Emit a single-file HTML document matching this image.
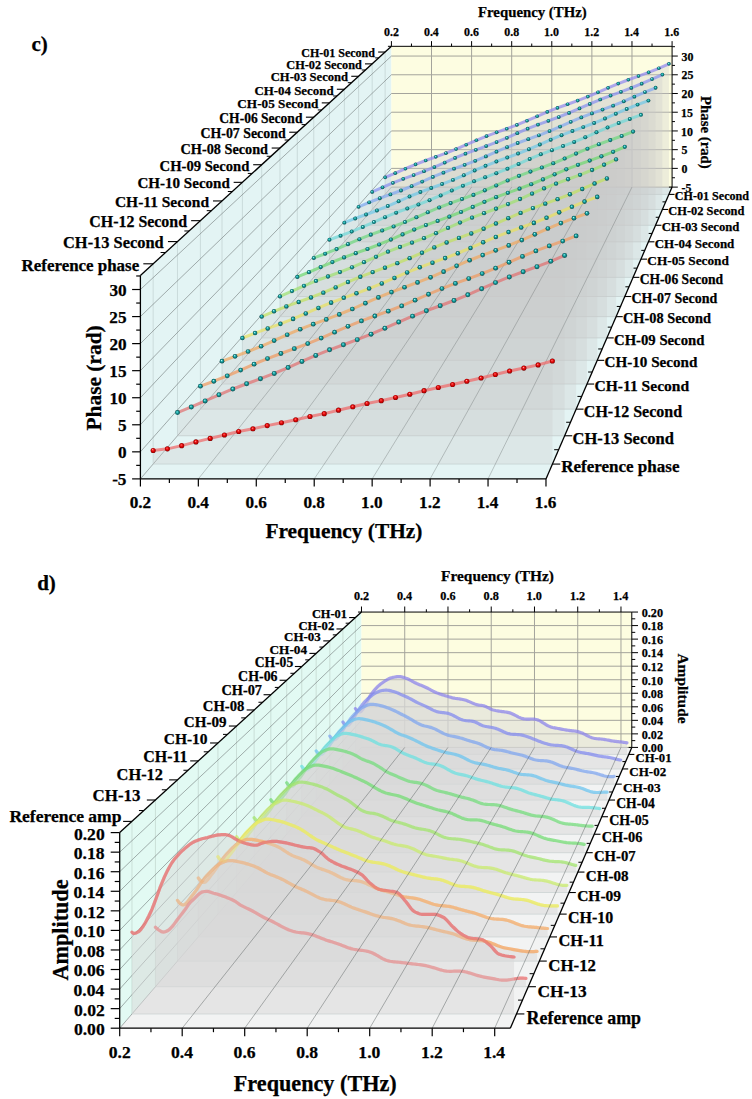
<!DOCTYPE html>
<html><head><meta charset="utf-8"><style>
html,body{margin:0;padding:0;background:#ffffff;}
svg{display:block;}
</style></head><body>
<svg width="752" height="1099" viewBox="0 0 752 1099">
<defs>
<radialGradient id="gt" cx="0.5" cy="0.5" r="0.5" fx="0.4" fy="0.34"><stop offset="0" stop-color="#c8ffff"/><stop offset="0.22" stop-color="#48c8c8"/><stop offset="0.55" stop-color="#12908f"/><stop offset="0.85" stop-color="#0a6668"/><stop offset="1" stop-color="#064548"/></radialGradient>
<radialGradient id="gr" cx="0.5" cy="0.5" r="0.5" fx="0.4" fy="0.34"><stop offset="0" stop-color="#ffd8d8"/><stop offset="0.22" stop-color="#f83838"/><stop offset="0.55" stop-color="#dc0808"/><stop offset="0.85" stop-color="#b00000"/><stop offset="1" stop-color="#700000"/></radialGradient>
</defs>
<rect width="752" height="1099" fill="#ffffff"/>
<polygon points="140.4,478.89 140.4,275.44 391.41,46.32 391.41,187.11" fill="#e3f4f4" />
<polygon points="391.41,187.11 672.08,187.11 672.08,46.32 391.41,46.32" fill="#fdfde1" />
<polygon points="140.4,478.89 545.98,478.89 672.08,187.11 391.41,187.11" fill="#e4f4f4" />
<line x1="431.5" y1="187.11" x2="431.5" y2="46.32" stroke="#a4a49c" stroke-width="1" />
<line x1="471.6" y1="187.11" x2="471.6" y2="46.32" stroke="#a4a49c" stroke-width="1" />
<line x1="511.7" y1="187.11" x2="511.7" y2="46.32" stroke="#a4a49c" stroke-width="1" />
<line x1="551.79" y1="187.11" x2="551.79" y2="46.32" stroke="#a4a49c" stroke-width="1" />
<line x1="591.89" y1="187.11" x2="591.89" y2="46.32" stroke="#a4a49c" stroke-width="1" />
<line x1="631.98" y1="187.11" x2="631.98" y2="46.32" stroke="#a4a49c" stroke-width="1" />
<line x1="391.41" y1="187.11" x2="672.08" y2="187.11" stroke="#a4a49c" stroke-width="1" />
<line x1="391.41" y1="168.39" x2="672.08" y2="168.39" stroke="#a4a49c" stroke-width="1" />
<line x1="391.41" y1="149.66" x2="672.08" y2="149.66" stroke="#a4a49c" stroke-width="1" />
<line x1="391.41" y1="130.94" x2="672.08" y2="130.94" stroke="#a4a49c" stroke-width="1" />
<line x1="391.41" y1="112.22" x2="672.08" y2="112.22" stroke="#a4a49c" stroke-width="1" />
<line x1="391.41" y1="93.5" x2="672.08" y2="93.5" stroke="#a4a49c" stroke-width="1" />
<line x1="391.41" y1="74.78" x2="672.08" y2="74.78" stroke="#a4a49c" stroke-width="1" />
<line x1="391.41" y1="56.05" x2="672.08" y2="56.05" stroke="#a4a49c" stroke-width="1" />
<line x1="153.15" y1="464.07" x2="153.15" y2="263.8" stroke="#c4d4d4" stroke-width="0.8" />
<line x1="177.49" y1="435.77" x2="177.49" y2="241.58" stroke="#c4d4d4" stroke-width="0.8" />
<line x1="200.4" y1="409.14" x2="200.4" y2="220.67" stroke="#c4d4d4" stroke-width="0.8" />
<line x1="222" y1="384.04" x2="222" y2="200.95" stroke="#c4d4d4" stroke-width="0.8" />
<line x1="242.4" y1="360.33" x2="242.4" y2="182.34" stroke="#c4d4d4" stroke-width="0.8" />
<line x1="261.69" y1="337.9" x2="261.69" y2="164.73" stroke="#c4d4d4" stroke-width="0.8" />
<line x1="279.97" y1="316.65" x2="279.97" y2="148.04" stroke="#c4d4d4" stroke-width="0.8" />
<line x1="297.31" y1="296.5" x2="297.31" y2="132.22" stroke="#c4d4d4" stroke-width="0.8" />
<line x1="313.78" y1="277.35" x2="313.78" y2="117.18" stroke="#c4d4d4" stroke-width="0.8" />
<line x1="329.44" y1="259.14" x2="329.44" y2="102.88" stroke="#c4d4d4" stroke-width="0.8" />
<line x1="344.36" y1="241.8" x2="344.36" y2="89.26" stroke="#c4d4d4" stroke-width="0.8" />
<line x1="358.59" y1="225.26" x2="358.59" y2="76.28" stroke="#c4d4d4" stroke-width="0.8" />
<line x1="372.16" y1="209.48" x2="372.16" y2="63.88" stroke="#c4d4d4" stroke-width="0.8" />
<line x1="385.14" y1="194.4" x2="385.14" y2="52.04" stroke="#c4d4d4" stroke-width="0.8" />
<line x1="140.4" y1="478.89" x2="391.41" y2="187.11" stroke="#707878" stroke-width="0.6" />
<line x1="140.4" y1="451.84" x2="391.41" y2="168.39" stroke="#707878" stroke-width="0.6" />
<line x1="140.4" y1="424.78" x2="391.41" y2="149.66" stroke="#707878" stroke-width="0.6" />
<line x1="140.4" y1="397.73" x2="391.41" y2="130.94" stroke="#707878" stroke-width="0.6" />
<line x1="140.4" y1="370.67" x2="391.41" y2="112.22" stroke="#707878" stroke-width="0.6" />
<line x1="140.4" y1="343.62" x2="391.41" y2="93.5" stroke="#707878" stroke-width="0.6" />
<line x1="140.4" y1="316.57" x2="391.41" y2="74.78" stroke="#707878" stroke-width="0.6" />
<line x1="140.4" y1="289.51" x2="391.41" y2="56.05" stroke="#707878" stroke-width="0.6" />
<line x1="153.15" y1="464.07" x2="552.39" y2="464.07" stroke="#c4d0d0" stroke-width="0.8" />
<line x1="177.49" y1="435.77" x2="564.61" y2="435.77" stroke="#c4d0d0" stroke-width="0.8" />
<line x1="200.4" y1="409.14" x2="576.12" y2="409.14" stroke="#c4d0d0" stroke-width="0.8" />
<line x1="222" y1="384.04" x2="586.97" y2="384.04" stroke="#c4d0d0" stroke-width="0.8" />
<line x1="242.4" y1="360.33" x2="597.22" y2="360.33" stroke="#c4d0d0" stroke-width="0.8" />
<line x1="261.69" y1="337.9" x2="606.91" y2="337.9" stroke="#c4d0d0" stroke-width="0.8" />
<line x1="279.97" y1="316.65" x2="616.09" y2="316.65" stroke="#c4d0d0" stroke-width="0.8" />
<line x1="297.31" y1="296.5" x2="624.8" y2="296.5" stroke="#c4d0d0" stroke-width="0.8" />
<line x1="313.78" y1="277.35" x2="633.08" y2="277.35" stroke="#c4d0d0" stroke-width="0.8" />
<line x1="329.44" y1="259.14" x2="640.95" y2="259.14" stroke="#c4d0d0" stroke-width="0.8" />
<line x1="344.36" y1="241.8" x2="648.44" y2="241.8" stroke="#c4d0d0" stroke-width="0.8" />
<line x1="358.59" y1="225.26" x2="655.59" y2="225.26" stroke="#c4d0d0" stroke-width="0.8" />
<line x1="372.16" y1="209.48" x2="662.41" y2="209.48" stroke="#c4d0d0" stroke-width="0.8" />
<line x1="385.14" y1="194.4" x2="668.93" y2="194.4" stroke="#c4d0d0" stroke-width="0.8" />
<polygon points="385.14,177.44 395.27,173.18 405.41,168.72 415.54,164.42 425.68,160.49 435.81,156.84 445.95,153.14 456.08,149.11 466.22,144.74 476.35,140.3 486.49,136.13 496.63,132.34 506.76,128.72 516.9,124.91 527.03,120.73 537.17,116.29 547.3,111.92 557.44,107.91 567.57,104.22 577.71,100.56 587.84,96.62 597.98,92.31 608.11,87.85 618.25,83.6 628.38,79.73 638.52,76.1 648.65,72.36 658.79,68.27 668.93,63.86 668.93,194.4 385.14,194.4" fill="#cbcbcb" fill-opacity="0.3"/>
<polygon points="372.16,191.89 382.53,187.29 392.9,182.87 403.26,178.84 413.63,175.08 423.99,171.25 434.36,167.07 444.72,162.55 455.09,157.98 465.46,153.7 475.82,149.81 486.19,146.06 496.55,142.12 506.92,137.79 517.29,133.2 527.65,128.72 538.02,124.6 548.38,120.8 558.75,117.02 569.12,112.93 579.48,108.46 589.85,103.88 600.21,99.51 610.58,95.54 620.94,91.79 631.31,87.92 641.68,83.67 652.04,79.12 662.41,74.58 662.41,209.48 372.16,209.48" fill="#cbcbcb" fill-opacity="0.3"/>
<polygon points="358.59,206.8 369.19,202.32 379.8,198.23 390.41,194.41 401.01,190.5 411.62,186.22 422.23,181.6 432.84,176.96 443.44,172.63 454.05,168.67 464.66,164.86 475.27,160.83 485.87,156.4 496.48,151.72 507.09,147.17 517.69,142.99 528.3,139.14 538.91,135.28 549.52,131.09 560.12,126.53 570.73,121.86 581.34,117.44 591.94,113.41 602.55,109.6 613.16,105.64 623.77,101.3 634.37,96.65 644.98,92.04 655.59,87.77 655.59,225.26 358.59,225.26" fill="#cbcbcb" fill-opacity="0.3"/>
<polygon points="344.36,222.65 355.22,218.46 366.08,214.52 376.94,210.48 387.8,206.04 398.66,201.28 409.52,196.5 420.38,192.06 431.24,188 442.1,184.07 452.96,179.89 463.82,175.3 474.68,170.49 485.54,165.81 496.4,161.53 507.26,157.56 518.12,153.57 528.98,149.24 539.84,144.52 550.7,139.72 561.56,135.18 572.42,131.05 583.28,127.12 594.14,123.02 605,118.52 615.86,113.73 626.72,108.99 637.58,104.61 648.44,100.6 648.44,241.8 344.36,241.8" fill="#cbcbcb" fill-opacity="0.3"/>
<polygon points="329.44,239.73 340.57,235.7 351.69,231.54 362.82,226.97 373.94,222.08 385.07,217.19 396.19,212.66 407.32,208.52 418.44,204.48 429.57,200.17 440.69,195.45 451.82,190.52 462.94,185.74 474.07,181.37 485.19,177.31 496.32,173.21 507.44,168.75 518.57,163.9 529.7,158.98 540.82,154.35 551.95,150.13 563.07,146.11 574.2,141.89 585.32,137.26 596.45,132.34 607.57,127.49 618.7,123.03 629.82,118.92 640.95,114.87 640.95,259.14 329.44,259.14" fill="#cbcbcb" fill-opacity="0.3"/>
<polygon points="313.78,257.95 325.18,253.73 336.58,249.1 347.99,244.14 359.39,239.22 370.79,234.67 382.2,230.51 393.6,226.44 405,222.07 416.41,217.29 427.81,212.3 439.22,207.49 450.62,203.11 462.02,199.03 473.43,194.88 484.83,190.35 496.23,185.44 507.64,180.48 519.04,175.83 530.44,171.59 541.85,167.54 553.25,163.27 564.66,158.57 576.06,153.59 587.46,148.71 598.87,144.23 610.27,140.11 621.67,136.01 633.08,131.58 633.08,277.35 313.78,277.35" fill="#cbcbcb" fill-opacity="0.3"/>
<polygon points="297.31,276.92 309,272.15 320.7,267.07 332.39,262.04 344.09,257.4 355.79,253.15 367.48,248.98 379.18,244.49 390.88,239.56 402.57,234.45 414.27,229.55 425.97,225.08 437.66,220.91 449.36,216.65 461.05,211.99 472.75,206.95 484.45,201.87 496.14,197.13 507.84,192.81 519.54,188.66 531.23,184.26 542.93,179.43 554.62,174.33 566.32,169.34 578.02,164.78 589.71,160.57 601.41,156.36 613.11,151.8 624.8,146.83 624.8,296.5 297.31,296.5" fill="#cbcbcb" fill-opacity="0.3"/>
<polygon points="279.97,296.4 291.97,291.06 303.98,285.81 315.98,280.96 327.99,276.5 339.99,272.1 351.99,267.35 364,262.17 376,256.82 388.01,251.69 400.01,247.02 412.02,242.64 424.02,238.14 436.03,233.21 448.03,227.92 460.03,222.61 472.04,217.65 484.04,213.13 496.05,208.75 508.05,204.11 520.06,199.02 532.06,193.66 544.07,188.46 556.07,183.68 568.07,179.26 580.08,174.82 592.08,170.01 604.09,164.77 616.09,159.43 616.09,316.65 279.97,316.65" fill="#cbcbcb" fill-opacity="0.3"/>
<polygon points="261.69,316.59 274.02,311.28 286.35,306.41 298.68,301.93 311.01,297.47 323.34,292.66 335.67,287.4 348,281.98 360.33,276.82 372.66,272.12 384.98,267.7 397.31,263.14 409.64,258.14 421.97,252.77 434.3,247.41 446.63,242.43 458.96,237.88 471.29,233.46 483.62,228.74 495.95,223.57 508.28,218.15 520.61,212.9 532.94,208.1 545.27,203.65 557.59,199.16 569.92,194.27 582.25,188.96 594.58,183.55 606.91,178.46 606.91,337.9 261.69,337.9" fill="#cbcbcb" fill-opacity="0.3"/>
<polygon points="242.4,338.02 255.07,333.04 267.74,328.44 280.41,323.86 293.09,318.89 305.76,313.46 318.43,307.9 331.1,302.63 343.78,297.83 356.45,293.29 369.12,288.59 381.79,283.43 394.46,277.9 407.14,272.4 419.81,267.31 432.48,262.66 445.15,258.11 457.83,253.25 470.5,247.91 483.17,242.34 495.84,236.97 508.51,232.07 521.19,227.51 533.86,222.88 546.53,217.83 559.2,212.36 571.88,206.81 584.55,201.61 597.22,196.88 597.22,360.33 242.4,360.33" fill="#cbcbcb" fill-opacity="0.3"/>
<polygon points="222,361.18 235.04,356.36 248.07,351.51 261.11,346.26 274.14,340.56 287.18,334.73 300.21,329.22 313.24,324.19 326.28,319.42 339.31,314.45 352.35,309 365.38,303.2 378.42,297.45 391.45,292.12 404.49,287.24 417.52,282.45 430.56,277.31 443.59,271.69 456.63,265.84 469.66,260.23 482.7,255.1 495.73,250.31 508.76,245.42 521.8,240.09 534.83,234.33 547.87,228.53 560.9,223.09 573.94,218.13 586.97,213.36 586.97,384.04 222,384.04" fill="#cbcbcb" fill-opacity="0.3"/>
<polygon points="200.4,386.14 213.82,381.22 227.24,375.87 240.66,370.05 254.08,364.14 267.5,358.57 280.91,353.5 294.33,348.66 307.75,343.61 321.17,338.05 334.59,332.15 348.01,326.32 361.43,320.95 374.84,316.02 388.26,311.15 401.68,305.91 415.1,300.18 428.52,294.25 441.94,288.57 455.36,283.4 468.77,278.55 482.19,273.58 495.61,268.14 509.03,262.28 522.45,256.4 535.87,250.91 549.29,245.9 562.7,241.06 576.12,235.93 576.12,409.14 200.4,409.14" fill="#cbcbcb" fill-opacity="0.3"/>
<polygon points="177.49,412.57 191.32,406.96 205.15,400.9 218.97,394.76 232.8,388.99 246.62,383.73 260.45,378.69 274.27,373.4 288.1,367.6 301.93,361.45 315.75,355.4 329.58,349.84 343.4,344.72 357.23,339.64 371.05,334.16 384.88,328.18 398.71,322.01 412.53,316.13 426.36,310.76 440.18,305.72 454.01,300.52 467.83,294.83 481.66,288.72 495.49,282.62 509.31,276.93 523.14,271.73 536.96,266.69 550.79,261.32 564.61,255.44 564.61,435.77 177.49,435.77" fill="#cbcbcb" fill-opacity="0.3"/>
<polygon points="153.15,450.44 167.41,448.84 181.67,445.64 195.93,441.91 210.19,438.4 224.44,434.94 238.7,431.47 252.96,428.81 267.22,425.62 281.48,422.69 295.74,419.76 309.99,416.56 324.25,413.63 338.51,410.17 352.77,406.81 367.03,403.56 381.29,400.64 395.54,397.44 409.8,394.19 424.06,390.67 438.32,387.48 452.58,384.55 466.84,381.3 481.09,378.05 495.35,374.54 509.61,371.02 523.87,368.09 538.13,364.9 552.39,361.06 552.39,464.07 153.15,464.07" fill="#cbcbcb" fill-opacity="0.3"/>
<line x1="198.34" y1="478.89" x2="431.5" y2="187.11" stroke="#606868" stroke-width="0.7" stroke-opacity="0.5"/>
<line x1="256.28" y1="478.89" x2="471.6" y2="187.11" stroke="#606868" stroke-width="0.7" stroke-opacity="0.5"/>
<line x1="314.22" y1="478.89" x2="511.7" y2="187.11" stroke="#606868" stroke-width="0.7" stroke-opacity="0.5"/>
<line x1="372.16" y1="478.89" x2="551.79" y2="187.11" stroke="#606868" stroke-width="0.7" stroke-opacity="0.5"/>
<line x1="430.1" y1="478.89" x2="591.89" y2="187.11" stroke="#606868" stroke-width="0.7" stroke-opacity="0.5"/>
<line x1="488.04" y1="478.89" x2="631.98" y2="187.11" stroke="#606868" stroke-width="0.7" stroke-opacity="0.5"/>
<polyline points="385.14,177.44 395.27,173.18 405.41,168.72 415.54,164.42 425.68,160.49 435.81,156.84 445.95,153.14 456.08,149.11 466.22,144.74 476.35,140.3 486.49,136.13 496.63,132.34 506.76,128.72 516.9,124.91 527.03,120.73 537.17,116.29 547.3,111.92 557.44,107.91 567.57,104.22 577.71,100.56 587.84,96.62 597.98,92.31 608.11,87.85 618.25,83.6 628.38,79.73 638.52,76.1 648.65,72.36 658.79,68.27 668.93,63.86" fill="none" stroke="#9088f0" stroke-width="3" stroke-linejoin="round" stroke-linecap="round" stroke-opacity="0.72"/>
<circle cx="385.14" cy="177.44" r="1.82" fill="url(#gt)"/>
<circle cx="395.27" cy="173.18" r="1.82" fill="url(#gt)"/>
<circle cx="405.41" cy="168.72" r="1.82" fill="url(#gt)"/>
<circle cx="415.54" cy="164.42" r="1.82" fill="url(#gt)"/>
<circle cx="425.68" cy="160.49" r="1.82" fill="url(#gt)"/>
<circle cx="435.81" cy="156.84" r="1.82" fill="url(#gt)"/>
<circle cx="445.95" cy="153.14" r="1.82" fill="url(#gt)"/>
<circle cx="456.08" cy="149.11" r="1.82" fill="url(#gt)"/>
<circle cx="466.22" cy="144.74" r="1.82" fill="url(#gt)"/>
<circle cx="476.35" cy="140.3" r="1.82" fill="url(#gt)"/>
<circle cx="486.49" cy="136.13" r="1.82" fill="url(#gt)"/>
<circle cx="496.63" cy="132.34" r="1.82" fill="url(#gt)"/>
<circle cx="506.76" cy="128.72" r="1.82" fill="url(#gt)"/>
<circle cx="516.9" cy="124.91" r="1.82" fill="url(#gt)"/>
<circle cx="527.03" cy="120.73" r="1.82" fill="url(#gt)"/>
<circle cx="537.17" cy="116.29" r="1.82" fill="url(#gt)"/>
<circle cx="547.3" cy="111.92" r="1.82" fill="url(#gt)"/>
<circle cx="557.44" cy="107.91" r="1.82" fill="url(#gt)"/>
<circle cx="567.57" cy="104.22" r="1.82" fill="url(#gt)"/>
<circle cx="577.71" cy="100.56" r="1.82" fill="url(#gt)"/>
<circle cx="587.84" cy="96.62" r="1.82" fill="url(#gt)"/>
<circle cx="597.98" cy="92.31" r="1.82" fill="url(#gt)"/>
<circle cx="608.11" cy="87.85" r="1.82" fill="url(#gt)"/>
<circle cx="618.25" cy="83.6" r="1.82" fill="url(#gt)"/>
<circle cx="628.38" cy="79.73" r="1.82" fill="url(#gt)"/>
<circle cx="638.52" cy="76.1" r="1.82" fill="url(#gt)"/>
<circle cx="648.65" cy="72.36" r="1.82" fill="url(#gt)"/>
<circle cx="658.79" cy="68.27" r="1.82" fill="url(#gt)"/>
<circle cx="668.93" cy="63.86" r="1.82" fill="url(#gt)"/>
<polyline points="372.16,191.89 382.53,187.29 392.9,182.87 403.26,178.84 413.63,175.08 423.99,171.25 434.36,167.07 444.72,162.55 455.09,157.98 465.46,153.7 475.82,149.81 486.19,146.06 496.55,142.12 506.92,137.79 517.29,133.2 527.65,128.72 538.02,124.6 548.38,120.8 558.75,117.02 569.12,112.93 579.48,108.46 589.85,103.88 600.21,99.51 610.58,95.54 620.94,91.79 631.31,87.92 641.68,83.67 652.04,79.12 662.41,74.58" fill="none" stroke="#8890f0" stroke-width="3" stroke-linejoin="round" stroke-linecap="round" stroke-opacity="0.72"/>
<circle cx="372.16" cy="191.89" r="1.86" fill="url(#gt)"/>
<circle cx="382.53" cy="187.29" r="1.86" fill="url(#gt)"/>
<circle cx="392.9" cy="182.87" r="1.86" fill="url(#gt)"/>
<circle cx="403.26" cy="178.84" r="1.86" fill="url(#gt)"/>
<circle cx="413.63" cy="175.08" r="1.86" fill="url(#gt)"/>
<circle cx="423.99" cy="171.25" r="1.86" fill="url(#gt)"/>
<circle cx="434.36" cy="167.07" r="1.86" fill="url(#gt)"/>
<circle cx="444.72" cy="162.55" r="1.86" fill="url(#gt)"/>
<circle cx="455.09" cy="157.98" r="1.86" fill="url(#gt)"/>
<circle cx="465.46" cy="153.7" r="1.86" fill="url(#gt)"/>
<circle cx="475.82" cy="149.81" r="1.86" fill="url(#gt)"/>
<circle cx="486.19" cy="146.06" r="1.86" fill="url(#gt)"/>
<circle cx="496.55" cy="142.12" r="1.86" fill="url(#gt)"/>
<circle cx="506.92" cy="137.79" r="1.86" fill="url(#gt)"/>
<circle cx="517.29" cy="133.2" r="1.86" fill="url(#gt)"/>
<circle cx="527.65" cy="128.72" r="1.86" fill="url(#gt)"/>
<circle cx="538.02" cy="124.6" r="1.86" fill="url(#gt)"/>
<circle cx="548.38" cy="120.8" r="1.86" fill="url(#gt)"/>
<circle cx="558.75" cy="117.02" r="1.86" fill="url(#gt)"/>
<circle cx="569.12" cy="112.93" r="1.86" fill="url(#gt)"/>
<circle cx="579.48" cy="108.46" r="1.86" fill="url(#gt)"/>
<circle cx="589.85" cy="103.88" r="1.86" fill="url(#gt)"/>
<circle cx="600.21" cy="99.51" r="1.86" fill="url(#gt)"/>
<circle cx="610.58" cy="95.54" r="1.86" fill="url(#gt)"/>
<circle cx="620.94" cy="91.79" r="1.86" fill="url(#gt)"/>
<circle cx="631.31" cy="87.92" r="1.86" fill="url(#gt)"/>
<circle cx="641.68" cy="83.67" r="1.86" fill="url(#gt)"/>
<circle cx="652.04" cy="79.12" r="1.86" fill="url(#gt)"/>
<circle cx="662.41" cy="74.58" r="1.86" fill="url(#gt)"/>
<polyline points="358.59,206.8 369.19,202.32 379.8,198.23 390.41,194.41 401.01,190.5 411.62,186.22 422.23,181.6 432.84,176.96 443.44,172.63 454.05,168.67 464.66,164.86 475.27,160.83 485.87,156.4 496.48,151.72 507.09,147.17 517.69,142.99 528.3,139.14 538.91,135.28 549.52,131.09 560.12,126.53 570.73,121.86 581.34,117.44 591.94,113.41 602.55,109.6 613.16,105.64 623.77,101.3 634.37,96.65 644.98,92.04 655.59,87.77" fill="none" stroke="#80a8f0" stroke-width="3" stroke-linejoin="round" stroke-linecap="round" stroke-opacity="0.72"/>
<circle cx="358.59" cy="206.8" r="1.9" fill="url(#gt)"/>
<circle cx="369.19" cy="202.32" r="1.9" fill="url(#gt)"/>
<circle cx="379.8" cy="198.23" r="1.9" fill="url(#gt)"/>
<circle cx="390.41" cy="194.41" r="1.9" fill="url(#gt)"/>
<circle cx="401.01" cy="190.5" r="1.9" fill="url(#gt)"/>
<circle cx="411.62" cy="186.22" r="1.9" fill="url(#gt)"/>
<circle cx="422.23" cy="181.6" r="1.9" fill="url(#gt)"/>
<circle cx="432.84" cy="176.96" r="1.9" fill="url(#gt)"/>
<circle cx="443.44" cy="172.63" r="1.9" fill="url(#gt)"/>
<circle cx="454.05" cy="168.67" r="1.9" fill="url(#gt)"/>
<circle cx="464.66" cy="164.86" r="1.9" fill="url(#gt)"/>
<circle cx="475.27" cy="160.83" r="1.9" fill="url(#gt)"/>
<circle cx="485.87" cy="156.4" r="1.9" fill="url(#gt)"/>
<circle cx="496.48" cy="151.72" r="1.9" fill="url(#gt)"/>
<circle cx="507.09" cy="147.17" r="1.9" fill="url(#gt)"/>
<circle cx="517.69" cy="142.99" r="1.9" fill="url(#gt)"/>
<circle cx="528.3" cy="139.14" r="1.9" fill="url(#gt)"/>
<circle cx="538.91" cy="135.28" r="1.9" fill="url(#gt)"/>
<circle cx="549.52" cy="131.09" r="1.9" fill="url(#gt)"/>
<circle cx="560.12" cy="126.53" r="1.9" fill="url(#gt)"/>
<circle cx="570.73" cy="121.86" r="1.9" fill="url(#gt)"/>
<circle cx="581.34" cy="117.44" r="1.9" fill="url(#gt)"/>
<circle cx="591.94" cy="113.41" r="1.9" fill="url(#gt)"/>
<circle cx="602.55" cy="109.6" r="1.9" fill="url(#gt)"/>
<circle cx="613.16" cy="105.64" r="1.9" fill="url(#gt)"/>
<circle cx="623.77" cy="101.3" r="1.9" fill="url(#gt)"/>
<circle cx="634.37" cy="96.65" r="1.9" fill="url(#gt)"/>
<circle cx="644.98" cy="92.04" r="1.9" fill="url(#gt)"/>
<circle cx="655.59" cy="87.77" r="1.9" fill="url(#gt)"/>
<polyline points="344.36,222.65 355.22,218.46 366.08,214.52 376.94,210.48 387.8,206.04 398.66,201.28 409.52,196.5 420.38,192.06 431.24,188 442.1,184.07 452.96,179.89 463.82,175.3 474.68,170.49 485.54,165.81 496.4,161.53 507.26,157.56 518.12,153.57 528.98,149.24 539.84,144.52 550.7,139.72 561.56,135.18 572.42,131.05 583.28,127.12 594.14,123.02 605,118.52 615.86,113.73 626.72,108.99 637.58,104.61 648.44,100.6" fill="none" stroke="#70c8e8" stroke-width="3" stroke-linejoin="round" stroke-linecap="round" stroke-opacity="0.72"/>
<circle cx="344.36" cy="222.65" r="1.95" fill="url(#gt)"/>
<circle cx="355.22" cy="218.46" r="1.95" fill="url(#gt)"/>
<circle cx="366.08" cy="214.52" r="1.95" fill="url(#gt)"/>
<circle cx="376.94" cy="210.48" r="1.95" fill="url(#gt)"/>
<circle cx="387.8" cy="206.04" r="1.95" fill="url(#gt)"/>
<circle cx="398.66" cy="201.28" r="1.95" fill="url(#gt)"/>
<circle cx="409.52" cy="196.5" r="1.95" fill="url(#gt)"/>
<circle cx="420.38" cy="192.06" r="1.95" fill="url(#gt)"/>
<circle cx="431.24" cy="188" r="1.95" fill="url(#gt)"/>
<circle cx="442.1" cy="184.07" r="1.95" fill="url(#gt)"/>
<circle cx="452.96" cy="179.89" r="1.95" fill="url(#gt)"/>
<circle cx="463.82" cy="175.3" r="1.95" fill="url(#gt)"/>
<circle cx="474.68" cy="170.49" r="1.95" fill="url(#gt)"/>
<circle cx="485.54" cy="165.81" r="1.95" fill="url(#gt)"/>
<circle cx="496.4" cy="161.53" r="1.95" fill="url(#gt)"/>
<circle cx="507.26" cy="157.56" r="1.95" fill="url(#gt)"/>
<circle cx="518.12" cy="153.57" r="1.95" fill="url(#gt)"/>
<circle cx="528.98" cy="149.24" r="1.95" fill="url(#gt)"/>
<circle cx="539.84" cy="144.52" r="1.95" fill="url(#gt)"/>
<circle cx="550.7" cy="139.72" r="1.95" fill="url(#gt)"/>
<circle cx="561.56" cy="135.18" r="1.95" fill="url(#gt)"/>
<circle cx="572.42" cy="131.05" r="1.95" fill="url(#gt)"/>
<circle cx="583.28" cy="127.12" r="1.95" fill="url(#gt)"/>
<circle cx="594.14" cy="123.02" r="1.95" fill="url(#gt)"/>
<circle cx="605" cy="118.52" r="1.95" fill="url(#gt)"/>
<circle cx="615.86" cy="113.73" r="1.95" fill="url(#gt)"/>
<circle cx="626.72" cy="108.99" r="1.95" fill="url(#gt)"/>
<circle cx="637.58" cy="104.61" r="1.95" fill="url(#gt)"/>
<circle cx="648.44" cy="100.6" r="1.95" fill="url(#gt)"/>
<polyline points="329.44,239.73 340.57,235.7 351.69,231.54 362.82,226.97 373.94,222.08 385.07,217.19 396.19,212.66 407.32,208.52 418.44,204.48 429.57,200.17 440.69,195.45 451.82,190.52 462.94,185.74 474.07,181.37 485.19,177.31 496.32,173.21 507.44,168.75 518.57,163.9 529.7,158.98 540.82,154.35 551.95,150.13 563.07,146.11 574.2,141.89 585.32,137.26 596.45,132.34 607.57,127.49 618.7,123.03 629.82,118.92 640.95,114.87" fill="none" stroke="#70d8d8" stroke-width="3" stroke-linejoin="round" stroke-linecap="round" stroke-opacity="0.72"/>
<circle cx="329.44" cy="239.73" r="2" fill="url(#gt)"/>
<circle cx="340.57" cy="235.7" r="2" fill="url(#gt)"/>
<circle cx="351.69" cy="231.54" r="2" fill="url(#gt)"/>
<circle cx="362.82" cy="226.97" r="2" fill="url(#gt)"/>
<circle cx="373.94" cy="222.08" r="2" fill="url(#gt)"/>
<circle cx="385.07" cy="217.19" r="2" fill="url(#gt)"/>
<circle cx="396.19" cy="212.66" r="2" fill="url(#gt)"/>
<circle cx="407.32" cy="208.52" r="2" fill="url(#gt)"/>
<circle cx="418.44" cy="204.48" r="2" fill="url(#gt)"/>
<circle cx="429.57" cy="200.17" r="2" fill="url(#gt)"/>
<circle cx="440.69" cy="195.45" r="2" fill="url(#gt)"/>
<circle cx="451.82" cy="190.52" r="2" fill="url(#gt)"/>
<circle cx="462.94" cy="185.74" r="2" fill="url(#gt)"/>
<circle cx="474.07" cy="181.37" r="2" fill="url(#gt)"/>
<circle cx="485.19" cy="177.31" r="2" fill="url(#gt)"/>
<circle cx="496.32" cy="173.21" r="2" fill="url(#gt)"/>
<circle cx="507.44" cy="168.75" r="2" fill="url(#gt)"/>
<circle cx="518.57" cy="163.9" r="2" fill="url(#gt)"/>
<circle cx="529.7" cy="158.98" r="2" fill="url(#gt)"/>
<circle cx="540.82" cy="154.35" r="2" fill="url(#gt)"/>
<circle cx="551.95" cy="150.13" r="2" fill="url(#gt)"/>
<circle cx="563.07" cy="146.11" r="2" fill="url(#gt)"/>
<circle cx="574.2" cy="141.89" r="2" fill="url(#gt)"/>
<circle cx="585.32" cy="137.26" r="2" fill="url(#gt)"/>
<circle cx="596.45" cy="132.34" r="2" fill="url(#gt)"/>
<circle cx="607.57" cy="127.49" r="2" fill="url(#gt)"/>
<circle cx="618.7" cy="123.03" r="2" fill="url(#gt)"/>
<circle cx="629.82" cy="118.92" r="2" fill="url(#gt)"/>
<circle cx="640.95" cy="114.87" r="2" fill="url(#gt)"/>
<polyline points="313.78,257.95 325.18,253.73 336.58,249.1 347.99,244.14 359.39,239.22 370.79,234.67 382.2,230.51 393.6,226.44 405,222.07 416.41,217.29 427.81,212.3 439.22,207.49 450.62,203.11 462.02,199.03 473.43,194.88 484.83,190.35 496.23,185.44 507.64,180.48 519.04,175.83 530.44,171.59 541.85,167.54 553.25,163.27 564.66,158.57 576.06,153.59 587.46,148.71 598.87,144.23 610.27,140.11 621.67,136.01 633.08,131.58" fill="none" stroke="#70d880" stroke-width="3" stroke-linejoin="round" stroke-linecap="round" stroke-opacity="0.72"/>
<circle cx="313.78" cy="257.95" r="2.05" fill="url(#gt)"/>
<circle cx="325.18" cy="253.73" r="2.05" fill="url(#gt)"/>
<circle cx="336.58" cy="249.1" r="2.05" fill="url(#gt)"/>
<circle cx="347.99" cy="244.14" r="2.05" fill="url(#gt)"/>
<circle cx="359.39" cy="239.22" r="2.05" fill="url(#gt)"/>
<circle cx="370.79" cy="234.67" r="2.05" fill="url(#gt)"/>
<circle cx="382.2" cy="230.51" r="2.05" fill="url(#gt)"/>
<circle cx="393.6" cy="226.44" r="2.05" fill="url(#gt)"/>
<circle cx="405" cy="222.07" r="2.05" fill="url(#gt)"/>
<circle cx="416.41" cy="217.29" r="2.05" fill="url(#gt)"/>
<circle cx="427.81" cy="212.3" r="2.05" fill="url(#gt)"/>
<circle cx="439.22" cy="207.49" r="2.05" fill="url(#gt)"/>
<circle cx="450.62" cy="203.11" r="2.05" fill="url(#gt)"/>
<circle cx="462.02" cy="199.03" r="2.05" fill="url(#gt)"/>
<circle cx="473.43" cy="194.88" r="2.05" fill="url(#gt)"/>
<circle cx="484.83" cy="190.35" r="2.05" fill="url(#gt)"/>
<circle cx="496.23" cy="185.44" r="2.05" fill="url(#gt)"/>
<circle cx="507.64" cy="180.48" r="2.05" fill="url(#gt)"/>
<circle cx="519.04" cy="175.83" r="2.05" fill="url(#gt)"/>
<circle cx="530.44" cy="171.59" r="2.05" fill="url(#gt)"/>
<circle cx="541.85" cy="167.54" r="2.05" fill="url(#gt)"/>
<circle cx="553.25" cy="163.27" r="2.05" fill="url(#gt)"/>
<circle cx="564.66" cy="158.57" r="2.05" fill="url(#gt)"/>
<circle cx="576.06" cy="153.59" r="2.05" fill="url(#gt)"/>
<circle cx="587.46" cy="148.71" r="2.05" fill="url(#gt)"/>
<circle cx="598.87" cy="144.23" r="2.05" fill="url(#gt)"/>
<circle cx="610.27" cy="140.11" r="2.05" fill="url(#gt)"/>
<circle cx="621.67" cy="136.01" r="2.05" fill="url(#gt)"/>
<circle cx="633.08" cy="131.58" r="2.05" fill="url(#gt)"/>
<polyline points="297.31,276.92 309,272.15 320.7,267.07 332.39,262.04 344.09,257.4 355.79,253.15 367.48,248.98 379.18,244.49 390.88,239.56 402.57,234.45 414.27,229.55 425.97,225.08 437.66,220.91 449.36,216.65 461.05,211.99 472.75,206.95 484.45,201.87 496.14,197.13 507.84,192.81 519.54,188.66 531.23,184.26 542.93,179.43 554.62,174.33 566.32,169.34 578.02,164.78 589.71,160.57 601.41,156.36 613.11,151.8 624.8,146.83" fill="none" stroke="#70d870" stroke-width="3" stroke-linejoin="round" stroke-linecap="round" stroke-opacity="0.72"/>
<circle cx="297.31" cy="276.92" r="2.1" fill="url(#gt)"/>
<circle cx="309" cy="272.15" r="2.1" fill="url(#gt)"/>
<circle cx="320.7" cy="267.07" r="2.1" fill="url(#gt)"/>
<circle cx="332.39" cy="262.04" r="2.1" fill="url(#gt)"/>
<circle cx="344.09" cy="257.4" r="2.1" fill="url(#gt)"/>
<circle cx="355.79" cy="253.15" r="2.1" fill="url(#gt)"/>
<circle cx="367.48" cy="248.98" r="2.1" fill="url(#gt)"/>
<circle cx="379.18" cy="244.49" r="2.1" fill="url(#gt)"/>
<circle cx="390.88" cy="239.56" r="2.1" fill="url(#gt)"/>
<circle cx="402.57" cy="234.45" r="2.1" fill="url(#gt)"/>
<circle cx="414.27" cy="229.55" r="2.1" fill="url(#gt)"/>
<circle cx="425.97" cy="225.08" r="2.1" fill="url(#gt)"/>
<circle cx="437.66" cy="220.91" r="2.1" fill="url(#gt)"/>
<circle cx="449.36" cy="216.65" r="2.1" fill="url(#gt)"/>
<circle cx="461.05" cy="211.99" r="2.1" fill="url(#gt)"/>
<circle cx="472.75" cy="206.95" r="2.1" fill="url(#gt)"/>
<circle cx="484.45" cy="201.87" r="2.1" fill="url(#gt)"/>
<circle cx="496.14" cy="197.13" r="2.1" fill="url(#gt)"/>
<circle cx="507.84" cy="192.81" r="2.1" fill="url(#gt)"/>
<circle cx="519.54" cy="188.66" r="2.1" fill="url(#gt)"/>
<circle cx="531.23" cy="184.26" r="2.1" fill="url(#gt)"/>
<circle cx="542.93" cy="179.43" r="2.1" fill="url(#gt)"/>
<circle cx="554.62" cy="174.33" r="2.1" fill="url(#gt)"/>
<circle cx="566.32" cy="169.34" r="2.1" fill="url(#gt)"/>
<circle cx="578.02" cy="164.78" r="2.1" fill="url(#gt)"/>
<circle cx="589.71" cy="160.57" r="2.1" fill="url(#gt)"/>
<circle cx="601.41" cy="156.36" r="2.1" fill="url(#gt)"/>
<circle cx="613.11" cy="151.8" r="2.1" fill="url(#gt)"/>
<circle cx="624.8" cy="146.83" r="2.1" fill="url(#gt)"/>
<polyline points="279.97,296.4 291.97,291.06 303.98,285.81 315.98,280.96 327.99,276.5 339.99,272.1 351.99,267.35 364,262.17 376,256.82 388.01,251.69 400.01,247.02 412.02,242.64 424.02,238.14 436.03,233.21 448.03,227.92 460.03,222.61 472.04,217.65 484.04,213.13 496.05,208.75 508.05,204.11 520.06,199.02 532.06,193.66 544.07,188.46 556.07,183.68 568.07,179.26 580.08,174.82 592.08,170.01 604.09,164.77 616.09,159.43" fill="none" stroke="#a0e070" stroke-width="3" stroke-linejoin="round" stroke-linecap="round" stroke-opacity="0.72"/>
<circle cx="279.97" cy="296.4" r="2.15" fill="url(#gt)"/>
<circle cx="291.97" cy="291.06" r="2.15" fill="url(#gt)"/>
<circle cx="303.98" cy="285.81" r="2.15" fill="url(#gt)"/>
<circle cx="315.98" cy="280.96" r="2.15" fill="url(#gt)"/>
<circle cx="327.99" cy="276.5" r="2.15" fill="url(#gt)"/>
<circle cx="339.99" cy="272.1" r="2.15" fill="url(#gt)"/>
<circle cx="351.99" cy="267.35" r="2.15" fill="url(#gt)"/>
<circle cx="364" cy="262.17" r="2.15" fill="url(#gt)"/>
<circle cx="376" cy="256.82" r="2.15" fill="url(#gt)"/>
<circle cx="388.01" cy="251.69" r="2.15" fill="url(#gt)"/>
<circle cx="400.01" cy="247.02" r="2.15" fill="url(#gt)"/>
<circle cx="412.02" cy="242.64" r="2.15" fill="url(#gt)"/>
<circle cx="424.02" cy="238.14" r="2.15" fill="url(#gt)"/>
<circle cx="436.03" cy="233.21" r="2.15" fill="url(#gt)"/>
<circle cx="448.03" cy="227.92" r="2.15" fill="url(#gt)"/>
<circle cx="460.03" cy="222.61" r="2.15" fill="url(#gt)"/>
<circle cx="472.04" cy="217.65" r="2.15" fill="url(#gt)"/>
<circle cx="484.04" cy="213.13" r="2.15" fill="url(#gt)"/>
<circle cx="496.05" cy="208.75" r="2.15" fill="url(#gt)"/>
<circle cx="508.05" cy="204.11" r="2.15" fill="url(#gt)"/>
<circle cx="520.06" cy="199.02" r="2.15" fill="url(#gt)"/>
<circle cx="532.06" cy="193.66" r="2.15" fill="url(#gt)"/>
<circle cx="544.07" cy="188.46" r="2.15" fill="url(#gt)"/>
<circle cx="556.07" cy="183.68" r="2.15" fill="url(#gt)"/>
<circle cx="568.07" cy="179.26" r="2.15" fill="url(#gt)"/>
<circle cx="580.08" cy="174.82" r="2.15" fill="url(#gt)"/>
<circle cx="592.08" cy="170.01" r="2.15" fill="url(#gt)"/>
<circle cx="604.09" cy="164.77" r="2.15" fill="url(#gt)"/>
<circle cx="616.09" cy="159.43" r="2.15" fill="url(#gt)"/>
<polyline points="261.69,316.59 274.02,311.28 286.35,306.41 298.68,301.93 311.01,297.47 323.34,292.66 335.67,287.4 348,281.98 360.33,276.82 372.66,272.12 384.98,267.7 397.31,263.14 409.64,258.14 421.97,252.77 434.3,247.41 446.63,242.43 458.96,237.88 471.29,233.46 483.62,228.74 495.95,223.57 508.28,218.15 520.61,212.9 532.94,208.1 545.27,203.65 557.59,199.16 569.92,194.27 582.25,188.96 594.58,183.55 606.91,178.46" fill="none" stroke="#c0e060" stroke-width="3" stroke-linejoin="round" stroke-linecap="round" stroke-opacity="0.72"/>
<circle cx="261.69" cy="316.59" r="2.21" fill="url(#gt)"/>
<circle cx="274.02" cy="311.28" r="2.21" fill="url(#gt)"/>
<circle cx="286.35" cy="306.41" r="2.21" fill="url(#gt)"/>
<circle cx="298.68" cy="301.93" r="2.21" fill="url(#gt)"/>
<circle cx="311.01" cy="297.47" r="2.21" fill="url(#gt)"/>
<circle cx="323.34" cy="292.66" r="2.21" fill="url(#gt)"/>
<circle cx="335.67" cy="287.4" r="2.21" fill="url(#gt)"/>
<circle cx="348" cy="281.98" r="2.21" fill="url(#gt)"/>
<circle cx="360.33" cy="276.82" r="2.21" fill="url(#gt)"/>
<circle cx="372.66" cy="272.12" r="2.21" fill="url(#gt)"/>
<circle cx="384.98" cy="267.7" r="2.21" fill="url(#gt)"/>
<circle cx="397.31" cy="263.14" r="2.21" fill="url(#gt)"/>
<circle cx="409.64" cy="258.14" r="2.21" fill="url(#gt)"/>
<circle cx="421.97" cy="252.77" r="2.21" fill="url(#gt)"/>
<circle cx="434.3" cy="247.41" r="2.21" fill="url(#gt)"/>
<circle cx="446.63" cy="242.43" r="2.21" fill="url(#gt)"/>
<circle cx="458.96" cy="237.88" r="2.21" fill="url(#gt)"/>
<circle cx="471.29" cy="233.46" r="2.21" fill="url(#gt)"/>
<circle cx="483.62" cy="228.74" r="2.21" fill="url(#gt)"/>
<circle cx="495.95" cy="223.57" r="2.21" fill="url(#gt)"/>
<circle cx="508.28" cy="218.15" r="2.21" fill="url(#gt)"/>
<circle cx="520.61" cy="212.9" r="2.21" fill="url(#gt)"/>
<circle cx="532.94" cy="208.1" r="2.21" fill="url(#gt)"/>
<circle cx="545.27" cy="203.65" r="2.21" fill="url(#gt)"/>
<circle cx="557.59" cy="199.16" r="2.21" fill="url(#gt)"/>
<circle cx="569.92" cy="194.27" r="2.21" fill="url(#gt)"/>
<circle cx="582.25" cy="188.96" r="2.21" fill="url(#gt)"/>
<circle cx="594.58" cy="183.55" r="2.21" fill="url(#gt)"/>
<circle cx="606.91" cy="178.46" r="2.21" fill="url(#gt)"/>
<polyline points="242.4,338.02 255.07,333.04 267.74,328.44 280.41,323.86 293.09,318.89 305.76,313.46 318.43,307.9 331.1,302.63 343.78,297.83 356.45,293.29 369.12,288.59 381.79,283.43 394.46,277.9 407.14,272.4 419.81,267.31 432.48,262.66 445.15,258.11 457.83,253.25 470.5,247.91 483.17,242.34 495.84,236.97 508.51,232.07 521.19,227.51 533.86,222.88 546.53,217.83 559.2,212.36 571.88,206.81 584.55,201.61 597.22,196.88" fill="none" stroke="#e8e060" stroke-width="3" stroke-linejoin="round" stroke-linecap="round" stroke-opacity="0.72"/>
<circle cx="242.4" cy="338.02" r="2.27" fill="url(#gt)"/>
<circle cx="255.07" cy="333.04" r="2.27" fill="url(#gt)"/>
<circle cx="267.74" cy="328.44" r="2.27" fill="url(#gt)"/>
<circle cx="280.41" cy="323.86" r="2.27" fill="url(#gt)"/>
<circle cx="293.09" cy="318.89" r="2.27" fill="url(#gt)"/>
<circle cx="305.76" cy="313.46" r="2.27" fill="url(#gt)"/>
<circle cx="318.43" cy="307.9" r="2.27" fill="url(#gt)"/>
<circle cx="331.1" cy="302.63" r="2.27" fill="url(#gt)"/>
<circle cx="343.78" cy="297.83" r="2.27" fill="url(#gt)"/>
<circle cx="356.45" cy="293.29" r="2.27" fill="url(#gt)"/>
<circle cx="369.12" cy="288.59" r="2.27" fill="url(#gt)"/>
<circle cx="381.79" cy="283.43" r="2.27" fill="url(#gt)"/>
<circle cx="394.46" cy="277.9" r="2.27" fill="url(#gt)"/>
<circle cx="407.14" cy="272.4" r="2.27" fill="url(#gt)"/>
<circle cx="419.81" cy="267.31" r="2.27" fill="url(#gt)"/>
<circle cx="432.48" cy="262.66" r="2.27" fill="url(#gt)"/>
<circle cx="445.15" cy="258.11" r="2.27" fill="url(#gt)"/>
<circle cx="457.83" cy="253.25" r="2.27" fill="url(#gt)"/>
<circle cx="470.5" cy="247.91" r="2.27" fill="url(#gt)"/>
<circle cx="483.17" cy="242.34" r="2.27" fill="url(#gt)"/>
<circle cx="495.84" cy="236.97" r="2.27" fill="url(#gt)"/>
<circle cx="508.51" cy="232.07" r="2.27" fill="url(#gt)"/>
<circle cx="521.19" cy="227.51" r="2.27" fill="url(#gt)"/>
<circle cx="533.86" cy="222.88" r="2.27" fill="url(#gt)"/>
<circle cx="546.53" cy="217.83" r="2.27" fill="url(#gt)"/>
<circle cx="559.2" cy="212.36" r="2.27" fill="url(#gt)"/>
<circle cx="571.88" cy="206.81" r="2.27" fill="url(#gt)"/>
<circle cx="584.55" cy="201.61" r="2.27" fill="url(#gt)"/>
<circle cx="597.22" cy="196.88" r="2.27" fill="url(#gt)"/>
<polyline points="222,361.18 235.04,356.36 248.07,351.51 261.11,346.26 274.14,340.56 287.18,334.73 300.21,329.22 313.24,324.19 326.28,319.42 339.31,314.45 352.35,309 365.38,303.2 378.42,297.45 391.45,292.12 404.49,287.24 417.52,282.45 430.56,277.31 443.59,271.69 456.63,265.84 469.66,260.23 482.7,255.1 495.73,250.31 508.76,245.42 521.8,240.09 534.83,234.33 547.87,228.53 560.9,223.09 573.94,218.13 586.97,213.36" fill="none" stroke="#f0a860" stroke-width="3" stroke-linejoin="round" stroke-linecap="round" stroke-opacity="0.72"/>
<circle cx="222" cy="361.18" r="2.34" fill="url(#gt)"/>
<circle cx="235.04" cy="356.36" r="2.34" fill="url(#gt)"/>
<circle cx="248.07" cy="351.51" r="2.34" fill="url(#gt)"/>
<circle cx="261.11" cy="346.26" r="2.34" fill="url(#gt)"/>
<circle cx="274.14" cy="340.56" r="2.34" fill="url(#gt)"/>
<circle cx="287.18" cy="334.73" r="2.34" fill="url(#gt)"/>
<circle cx="300.21" cy="329.22" r="2.34" fill="url(#gt)"/>
<circle cx="313.24" cy="324.19" r="2.34" fill="url(#gt)"/>
<circle cx="326.28" cy="319.42" r="2.34" fill="url(#gt)"/>
<circle cx="339.31" cy="314.45" r="2.34" fill="url(#gt)"/>
<circle cx="352.35" cy="309" r="2.34" fill="url(#gt)"/>
<circle cx="365.38" cy="303.2" r="2.34" fill="url(#gt)"/>
<circle cx="378.42" cy="297.45" r="2.34" fill="url(#gt)"/>
<circle cx="391.45" cy="292.12" r="2.34" fill="url(#gt)"/>
<circle cx="404.49" cy="287.24" r="2.34" fill="url(#gt)"/>
<circle cx="417.52" cy="282.45" r="2.34" fill="url(#gt)"/>
<circle cx="430.56" cy="277.31" r="2.34" fill="url(#gt)"/>
<circle cx="443.59" cy="271.69" r="2.34" fill="url(#gt)"/>
<circle cx="456.63" cy="265.84" r="2.34" fill="url(#gt)"/>
<circle cx="469.66" cy="260.23" r="2.34" fill="url(#gt)"/>
<circle cx="482.7" cy="255.1" r="2.34" fill="url(#gt)"/>
<circle cx="495.73" cy="250.31" r="2.34" fill="url(#gt)"/>
<circle cx="508.76" cy="245.42" r="2.34" fill="url(#gt)"/>
<circle cx="521.8" cy="240.09" r="2.34" fill="url(#gt)"/>
<circle cx="534.83" cy="234.33" r="2.34" fill="url(#gt)"/>
<circle cx="547.87" cy="228.53" r="2.34" fill="url(#gt)"/>
<circle cx="560.9" cy="223.09" r="2.34" fill="url(#gt)"/>
<circle cx="573.94" cy="218.13" r="2.34" fill="url(#gt)"/>
<circle cx="586.97" cy="213.36" r="2.34" fill="url(#gt)"/>
<polyline points="200.4,386.14 213.82,381.22 227.24,375.87 240.66,370.05 254.08,364.14 267.5,358.57 280.91,353.5 294.33,348.66 307.75,343.61 321.17,338.05 334.59,332.15 348.01,326.32 361.43,320.95 374.84,316.02 388.26,311.15 401.68,305.91 415.1,300.18 428.52,294.25 441.94,288.57 455.36,283.4 468.77,278.55 482.19,273.58 495.61,268.14 509.03,262.28 522.45,256.4 535.87,250.91 549.29,245.9 562.7,241.06 576.12,235.93" fill="none" stroke="#f09a60" stroke-width="3" stroke-linejoin="round" stroke-linecap="round" stroke-opacity="0.72"/>
<circle cx="200.4" cy="386.14" r="2.41" fill="url(#gt)"/>
<circle cx="213.82" cy="381.22" r="2.41" fill="url(#gt)"/>
<circle cx="227.24" cy="375.87" r="2.41" fill="url(#gt)"/>
<circle cx="240.66" cy="370.05" r="2.41" fill="url(#gt)"/>
<circle cx="254.08" cy="364.14" r="2.41" fill="url(#gt)"/>
<circle cx="267.5" cy="358.57" r="2.41" fill="url(#gt)"/>
<circle cx="280.91" cy="353.5" r="2.41" fill="url(#gt)"/>
<circle cx="294.33" cy="348.66" r="2.41" fill="url(#gt)"/>
<circle cx="307.75" cy="343.61" r="2.41" fill="url(#gt)"/>
<circle cx="321.17" cy="338.05" r="2.41" fill="url(#gt)"/>
<circle cx="334.59" cy="332.15" r="2.41" fill="url(#gt)"/>
<circle cx="348.01" cy="326.32" r="2.41" fill="url(#gt)"/>
<circle cx="361.43" cy="320.95" r="2.41" fill="url(#gt)"/>
<circle cx="374.84" cy="316.02" r="2.41" fill="url(#gt)"/>
<circle cx="388.26" cy="311.15" r="2.41" fill="url(#gt)"/>
<circle cx="401.68" cy="305.91" r="2.41" fill="url(#gt)"/>
<circle cx="415.1" cy="300.18" r="2.41" fill="url(#gt)"/>
<circle cx="428.52" cy="294.25" r="2.41" fill="url(#gt)"/>
<circle cx="441.94" cy="288.57" r="2.41" fill="url(#gt)"/>
<circle cx="455.36" cy="283.4" r="2.41" fill="url(#gt)"/>
<circle cx="468.77" cy="278.55" r="2.41" fill="url(#gt)"/>
<circle cx="482.19" cy="273.58" r="2.41" fill="url(#gt)"/>
<circle cx="495.61" cy="268.14" r="2.41" fill="url(#gt)"/>
<circle cx="509.03" cy="262.28" r="2.41" fill="url(#gt)"/>
<circle cx="522.45" cy="256.4" r="2.41" fill="url(#gt)"/>
<circle cx="535.87" cy="250.91" r="2.41" fill="url(#gt)"/>
<circle cx="549.29" cy="245.9" r="2.41" fill="url(#gt)"/>
<circle cx="562.7" cy="241.06" r="2.41" fill="url(#gt)"/>
<circle cx="576.12" cy="235.93" r="2.41" fill="url(#gt)"/>
<polyline points="177.49,412.57 191.32,406.96 205.15,400.9 218.97,394.76 232.8,388.99 246.62,383.73 260.45,378.69 274.27,373.4 288.1,367.6 301.93,361.45 315.75,355.4 329.58,349.84 343.4,344.72 357.23,339.64 371.05,334.16 384.88,328.18 398.71,322.01 412.53,316.13 426.36,310.76 440.18,305.72 454.01,300.52 467.83,294.83 481.66,288.72 495.49,282.62 509.31,276.93 523.14,271.73 536.96,266.69 550.79,261.32 564.61,255.44" fill="none" stroke="#e07070" stroke-width="3" stroke-linejoin="round" stroke-linecap="round" stroke-opacity="0.72"/>
<circle cx="177.49" cy="412.57" r="2.48" fill="url(#gt)"/>
<circle cx="191.32" cy="406.96" r="2.48" fill="url(#gt)"/>
<circle cx="205.15" cy="400.9" r="2.48" fill="url(#gt)"/>
<circle cx="218.97" cy="394.76" r="2.48" fill="url(#gt)"/>
<circle cx="232.8" cy="388.99" r="2.48" fill="url(#gt)"/>
<circle cx="246.62" cy="383.73" r="2.48" fill="url(#gt)"/>
<circle cx="260.45" cy="378.69" r="2.48" fill="url(#gt)"/>
<circle cx="274.27" cy="373.4" r="2.48" fill="url(#gt)"/>
<circle cx="288.1" cy="367.6" r="2.48" fill="url(#gt)"/>
<circle cx="301.93" cy="361.45" r="2.48" fill="url(#gt)"/>
<circle cx="315.75" cy="355.4" r="2.48" fill="url(#gt)"/>
<circle cx="329.58" cy="349.84" r="2.48" fill="url(#gt)"/>
<circle cx="343.4" cy="344.72" r="2.48" fill="url(#gt)"/>
<circle cx="357.23" cy="339.64" r="2.48" fill="url(#gt)"/>
<circle cx="371.05" cy="334.16" r="2.48" fill="url(#gt)"/>
<circle cx="384.88" cy="328.18" r="2.48" fill="url(#gt)"/>
<circle cx="398.71" cy="322.01" r="2.48" fill="url(#gt)"/>
<circle cx="412.53" cy="316.13" r="2.48" fill="url(#gt)"/>
<circle cx="426.36" cy="310.76" r="2.48" fill="url(#gt)"/>
<circle cx="440.18" cy="305.72" r="2.48" fill="url(#gt)"/>
<circle cx="454.01" cy="300.52" r="2.48" fill="url(#gt)"/>
<circle cx="467.83" cy="294.83" r="2.48" fill="url(#gt)"/>
<circle cx="481.66" cy="288.72" r="2.48" fill="url(#gt)"/>
<circle cx="495.49" cy="282.62" r="2.48" fill="url(#gt)"/>
<circle cx="509.31" cy="276.93" r="2.48" fill="url(#gt)"/>
<circle cx="523.14" cy="271.73" r="2.48" fill="url(#gt)"/>
<circle cx="536.96" cy="266.69" r="2.48" fill="url(#gt)"/>
<circle cx="550.79" cy="261.32" r="2.48" fill="url(#gt)"/>
<circle cx="564.61" cy="255.44" r="2.48" fill="url(#gt)"/>
<polyline points="153.15,450.44 167.41,448.84 181.67,445.64 195.93,441.91 210.19,438.4 224.44,434.94 238.7,431.47 252.96,428.81 267.22,425.62 281.48,422.69 295.74,419.76 309.99,416.56 324.25,413.63 338.51,410.17 352.77,406.81 367.03,403.56 381.29,400.64 395.54,397.44 409.8,394.19 424.06,390.67 438.32,387.48 452.58,384.55 466.84,381.3 481.09,378.05 495.35,374.54 509.61,371.02 523.87,368.09 538.13,364.9 552.39,361.06" fill="none" stroke="#f06868" stroke-width="3" stroke-linejoin="round" stroke-linecap="round" stroke-opacity="0.72"/>
<circle cx="153.15" cy="450.44" r="2.56" fill="url(#gr)"/>
<circle cx="167.41" cy="448.84" r="2.56" fill="url(#gr)"/>
<circle cx="181.67" cy="445.64" r="2.56" fill="url(#gr)"/>
<circle cx="195.93" cy="441.91" r="2.56" fill="url(#gr)"/>
<circle cx="210.19" cy="438.4" r="2.56" fill="url(#gr)"/>
<circle cx="224.44" cy="434.94" r="2.56" fill="url(#gr)"/>
<circle cx="238.7" cy="431.47" r="2.56" fill="url(#gr)"/>
<circle cx="252.96" cy="428.81" r="2.56" fill="url(#gr)"/>
<circle cx="267.22" cy="425.62" r="2.56" fill="url(#gr)"/>
<circle cx="281.48" cy="422.69" r="2.56" fill="url(#gr)"/>
<circle cx="295.74" cy="419.76" r="2.56" fill="url(#gr)"/>
<circle cx="309.99" cy="416.56" r="2.56" fill="url(#gr)"/>
<circle cx="324.25" cy="413.63" r="2.56" fill="url(#gr)"/>
<circle cx="338.51" cy="410.17" r="2.56" fill="url(#gr)"/>
<circle cx="352.77" cy="406.81" r="2.56" fill="url(#gr)"/>
<circle cx="367.03" cy="403.56" r="2.56" fill="url(#gr)"/>
<circle cx="381.29" cy="400.64" r="2.56" fill="url(#gr)"/>
<circle cx="395.54" cy="397.44" r="2.56" fill="url(#gr)"/>
<circle cx="409.8" cy="394.19" r="2.56" fill="url(#gr)"/>
<circle cx="424.06" cy="390.67" r="2.56" fill="url(#gr)"/>
<circle cx="438.32" cy="387.48" r="2.56" fill="url(#gr)"/>
<circle cx="452.58" cy="384.55" r="2.56" fill="url(#gr)"/>
<circle cx="466.84" cy="381.3" r="2.56" fill="url(#gr)"/>
<circle cx="481.09" cy="378.05" r="2.56" fill="url(#gr)"/>
<circle cx="495.35" cy="374.54" r="2.56" fill="url(#gr)"/>
<circle cx="509.61" cy="371.02" r="2.56" fill="url(#gr)"/>
<circle cx="523.87" cy="368.09" r="2.56" fill="url(#gr)"/>
<circle cx="538.13" cy="364.9" r="2.56" fill="url(#gr)"/>
<circle cx="552.39" cy="361.06" r="2.56" fill="url(#gr)"/>
<line x1="140.4" y1="478.89" x2="140.4" y2="275.44" stroke="#000" stroke-width="1.3" />
<line x1="140.4" y1="478.89" x2="545.98" y2="478.89" stroke="#000" stroke-width="1.3" />
<line x1="545.98" y1="478.89" x2="672.08" y2="187.11" stroke="#000" stroke-width="1.3" />
<line x1="140.4" y1="275.44" x2="391.41" y2="46.32" stroke="#000" stroke-width="1.3" />
<line x1="391.41" y1="46.32" x2="672.08" y2="46.32" stroke="#000" stroke-width="1" />
<line x1="672.08" y1="187.11" x2="672.08" y2="46.32" stroke="#000" stroke-width="1" />
<line x1="140.4" y1="478.89" x2="140.4" y2="486.39" stroke="#000" stroke-width="1.2" />
<text x="129.69" y="507.9" font-size="17.2" text-anchor="start" font-family="Liberation Serif" font-weight="bold" stroke="#000" stroke-width="0.25" >0.2</text>
<line x1="169.37" y1="478.89" x2="169.37" y2="482.89" stroke="#000" stroke-width="1.2" />
<line x1="198.34" y1="478.89" x2="198.34" y2="486.39" stroke="#000" stroke-width="1.2" />
<text x="187.42" y="507.9" font-size="17.2" text-anchor="start" font-family="Liberation Serif" font-weight="bold" stroke="#000" stroke-width="0.25" >0.4</text>
<line x1="227.31" y1="478.89" x2="227.31" y2="482.89" stroke="#000" stroke-width="1.2" />
<line x1="256.28" y1="478.89" x2="256.28" y2="486.39" stroke="#000" stroke-width="1.2" />
<text x="245.44" y="507.9" font-size="17.2" text-anchor="start" font-family="Liberation Serif" font-weight="bold" stroke="#000" stroke-width="0.25" >0.6</text>
<line x1="285.25" y1="478.89" x2="285.25" y2="482.89" stroke="#000" stroke-width="1.2" />
<line x1="314.22" y1="478.89" x2="314.22" y2="486.39" stroke="#000" stroke-width="1.2" />
<text x="303.43" y="507.9" font-size="17.2" text-anchor="start" font-family="Liberation Serif" font-weight="bold" stroke="#000" stroke-width="0.25" >0.8</text>
<line x1="343.19" y1="478.89" x2="343.19" y2="482.89" stroke="#000" stroke-width="1.2" />
<line x1="372.16" y1="478.89" x2="372.16" y2="486.39" stroke="#000" stroke-width="1.2" />
<text x="361.07" y="507.9" font-size="17.2" text-anchor="start" font-family="Liberation Serif" font-weight="bold" stroke="#000" stroke-width="0.25" >1.0</text>
<line x1="401.13" y1="478.89" x2="401.13" y2="482.89" stroke="#000" stroke-width="1.2" />
<line x1="430.1" y1="478.89" x2="430.1" y2="486.39" stroke="#000" stroke-width="1.2" />
<text x="419.05" y="507.9" font-size="17.2" text-anchor="start" font-family="Liberation Serif" font-weight="bold" stroke="#000" stroke-width="0.25" >1.2</text>
<line x1="459.07" y1="478.89" x2="459.07" y2="482.89" stroke="#000" stroke-width="1.2" />
<line x1="488.04" y1="478.89" x2="488.04" y2="486.39" stroke="#000" stroke-width="1.2" />
<text x="476.77" y="507.9" font-size="17.2" text-anchor="start" font-family="Liberation Serif" font-weight="bold" stroke="#000" stroke-width="0.25" >1.4</text>
<line x1="517.01" y1="478.89" x2="517.01" y2="482.89" stroke="#000" stroke-width="1.2" />
<line x1="545.98" y1="478.89" x2="545.98" y2="486.39" stroke="#000" stroke-width="1.2" />
<text x="534.8" y="507.9" font-size="17.2" text-anchor="start" font-family="Liberation Serif" font-weight="bold" stroke="#000" stroke-width="0.25" >1.6</text>
<text x="265.43" y="538.3" font-size="21.4" text-anchor="start" font-family="Liberation Serif" font-weight="bold" stroke="#000" stroke-width="0.25" >Frequency (THz)</text>
<line x1="140.4" y1="478.89" x2="132.1" y2="478.89" stroke="#000" stroke-width="1.2" />
<text x="112.14" y="484.89" font-size="17.2" text-anchor="start" font-family="Liberation Serif" font-weight="bold" stroke="#000" stroke-width="0.25" >-5</text>
<line x1="140.4" y1="465.37" x2="136.2" y2="465.37" stroke="#000" stroke-width="1.2" />
<line x1="140.4" y1="451.84" x2="132.1" y2="451.84" stroke="#000" stroke-width="1.2" />
<text x="117.99" y="457.84" font-size="17.2" text-anchor="start" font-family="Liberation Serif" font-weight="bold" stroke="#000" stroke-width="0.25" >0</text>
<line x1="140.4" y1="438.31" x2="136.2" y2="438.31" stroke="#000" stroke-width="1.2" />
<line x1="140.4" y1="424.78" x2="132.1" y2="424.78" stroke="#000" stroke-width="1.2" />
<text x="117.9" y="430.78" font-size="17.2" text-anchor="start" font-family="Liberation Serif" font-weight="bold" stroke="#000" stroke-width="0.25" >5</text>
<line x1="140.4" y1="411.26" x2="136.2" y2="411.26" stroke="#000" stroke-width="1.2" />
<line x1="140.4" y1="397.73" x2="132.1" y2="397.73" stroke="#000" stroke-width="1.2" />
<text x="109.39" y="403.73" font-size="17.2" text-anchor="start" font-family="Liberation Serif" font-weight="bold" stroke="#000" stroke-width="0.25" >10</text>
<line x1="140.4" y1="384.2" x2="136.2" y2="384.2" stroke="#000" stroke-width="1.2" />
<line x1="140.4" y1="370.67" x2="132.1" y2="370.67" stroke="#000" stroke-width="1.2" />
<text x="109.3" y="376.67" font-size="17.2" text-anchor="start" font-family="Liberation Serif" font-weight="bold" stroke="#000" stroke-width="0.25" >15</text>
<line x1="140.4" y1="357.15" x2="136.2" y2="357.15" stroke="#000" stroke-width="1.2" />
<line x1="140.4" y1="343.62" x2="132.1" y2="343.62" stroke="#000" stroke-width="1.2" />
<text x="109.39" y="349.62" font-size="17.2" text-anchor="start" font-family="Liberation Serif" font-weight="bold" stroke="#000" stroke-width="0.25" >20</text>
<line x1="140.4" y1="330.09" x2="136.2" y2="330.09" stroke="#000" stroke-width="1.2" />
<line x1="140.4" y1="316.57" x2="132.1" y2="316.57" stroke="#000" stroke-width="1.2" />
<text x="109.3" y="322.57" font-size="17.2" text-anchor="start" font-family="Liberation Serif" font-weight="bold" stroke="#000" stroke-width="0.25" >25</text>
<line x1="140.4" y1="303.04" x2="136.2" y2="303.04" stroke="#000" stroke-width="1.2" />
<line x1="140.4" y1="289.51" x2="132.1" y2="289.51" stroke="#000" stroke-width="1.2" />
<text x="109.39" y="295.51" font-size="17.2" text-anchor="start" font-family="Liberation Serif" font-weight="bold" stroke="#000" stroke-width="0.25" >30</text>
<line x1="140.4" y1="275.98" x2="136.2" y2="275.98" stroke="#000" stroke-width="1.2" />
<text transform="translate(101.4,377.9) rotate(-90)" font-size="21.4" text-anchor="middle" font-family="Liberation Serif" font-weight="bold" stroke="#000" stroke-width="0.25">Phase (rad)</text>
<line x1="153.15" y1="263.8" x2="143.31" y2="263.8" stroke="#000" stroke-width="1.1" />
<line x1="165.51" y1="252.52" x2="160.59" y2="252.52" stroke="#000" stroke-width="1" />
<text x="21.55" y="270.69" font-size="16.93" text-anchor="start" font-family="Liberation Serif" font-weight="bold" stroke="#000" stroke-width="0.25" >Reference phase</text>
<line x1="177.49" y1="241.58" x2="167.95" y2="241.58" stroke="#000" stroke-width="1.1" />
<line x1="189.12" y1="230.97" x2="184.35" y2="230.97" stroke="#000" stroke-width="1" />
<text x="63.02" y="248.26" font-size="16.42" text-anchor="start" font-family="Liberation Serif" font-weight="bold" stroke="#000" stroke-width="0.25" >CH-13 Second</text>
<line x1="200.4" y1="220.67" x2="191.14" y2="220.67" stroke="#000" stroke-width="1.1" />
<line x1="211.36" y1="210.67" x2="206.73" y2="210.67" stroke="#000" stroke-width="1" />
<text x="89.3" y="227.15" font-size="15.93" text-anchor="start" font-family="Liberation Serif" font-weight="bold" stroke="#000" stroke-width="0.25" >CH-12 Second</text>
<line x1="222" y1="200.95" x2="213" y2="200.95" stroke="#000" stroke-width="1.1" />
<line x1="232.34" y1="191.51" x2="227.84" y2="191.51" stroke="#000" stroke-width="1" />
<text x="114.93" y="207.25" font-size="15.48" text-anchor="start" font-family="Liberation Serif" font-weight="bold" stroke="#000" stroke-width="0.25" >CH-11 Second</text>
<line x1="242.4" y1="182.34" x2="233.65" y2="182.34" stroke="#000" stroke-width="1.1" />
<line x1="252.18" y1="173.41" x2="247.8" y2="173.41" stroke="#000" stroke-width="1" />
<text x="137.47" y="188.46" font-size="15.05" text-anchor="start" font-family="Liberation Serif" font-weight="bold" stroke="#000" stroke-width="0.25" >CH-10 Second</text>
<line x1="261.69" y1="164.73" x2="253.18" y2="164.73" stroke="#000" stroke-width="1.1" />
<line x1="270.95" y1="156.27" x2="266.7" y2="156.27" stroke="#000" stroke-width="1" />
<text x="159.6" y="170.68" font-size="14.64" text-anchor="start" font-family="Liberation Serif" font-weight="bold" stroke="#000" stroke-width="0.25" >CH-09 Second</text>
<line x1="279.97" y1="148.04" x2="271.68" y2="148.04" stroke="#000" stroke-width="1.1" />
<line x1="288.75" y1="140.03" x2="284.61" y2="140.03" stroke="#000" stroke-width="1" />
<text x="180.57" y="153.84" font-size="14.25" text-anchor="start" font-family="Liberation Serif" font-weight="bold" stroke="#000" stroke-width="0.25" >CH-08 Second</text>
<line x1="297.31" y1="132.22" x2="289.23" y2="132.22" stroke="#000" stroke-width="1.1" />
<line x1="305.65" y1="124.6" x2="301.61" y2="124.6" stroke="#000" stroke-width="1" />
<text x="200.46" y="137.87" font-size="13.89" text-anchor="start" font-family="Liberation Serif" font-weight="bold" stroke="#000" stroke-width="0.25" >CH-07 Second</text>
<line x1="313.78" y1="117.18" x2="305.9" y2="117.18" stroke="#000" stroke-width="1.1" />
<line x1="321.71" y1="109.94" x2="317.77" y2="109.94" stroke="#000" stroke-width="1" />
<text x="219.35" y="122.69" font-size="13.54" text-anchor="start" font-family="Liberation Serif" font-weight="bold" stroke="#000" stroke-width="0.25" >CH-06 Second</text>
<line x1="329.44" y1="102.88" x2="321.76" y2="102.88" stroke="#000" stroke-width="1.1" />
<line x1="336.99" y1="95.99" x2="333.15" y2="95.99" stroke="#000" stroke-width="1" />
<text x="237.33" y="108.26" font-size="13.21" text-anchor="start" font-family="Liberation Serif" font-weight="bold" stroke="#000" stroke-width="0.25" >CH-05 Second</text>
<line x1="344.36" y1="89.26" x2="336.86" y2="89.26" stroke="#000" stroke-width="1.1" />
<line x1="351.56" y1="82.69" x2="347.81" y2="82.69" stroke="#000" stroke-width="1" />
<text x="254.44" y="94.51" font-size="12.9" text-anchor="start" font-family="Liberation Serif" font-weight="bold" stroke="#000" stroke-width="0.25" >CH-04 Second</text>
<line x1="358.59" y1="76.28" x2="351.26" y2="76.28" stroke="#000" stroke-width="1.1" />
<line x1="365.45" y1="70.01" x2="361.79" y2="70.01" stroke="#000" stroke-width="1" />
<text x="270.76" y="81.4" font-size="12.6" text-anchor="start" font-family="Liberation Serif" font-weight="bold" stroke="#000" stroke-width="0.25" >CH-03 Second</text>
<line x1="372.16" y1="63.88" x2="365.01" y2="63.88" stroke="#000" stroke-width="1.1" />
<line x1="378.72" y1="57.9" x2="375.15" y2="57.9" stroke="#000" stroke-width="1" />
<text x="286.33" y="68.89" font-size="12.31" text-anchor="start" font-family="Liberation Serif" font-weight="bold" stroke="#000" stroke-width="0.25" >CH-02 Second</text>
<line x1="385.14" y1="52.04" x2="378.14" y2="52.04" stroke="#000" stroke-width="1.1" />
<line x1="391.41" y1="46.32" x2="387.91" y2="46.32" stroke="#000" stroke-width="1" />
<text x="301.22" y="56.94" font-size="12.03" text-anchor="start" font-family="Liberation Serif" font-weight="bold" stroke="#000" stroke-width="0.25" >CH-01 Second</text>
<line x1="552.39" y1="464.07" x2="560.26" y2="464.07" stroke="#000" stroke-width="1.1" />
<line x1="558.59" y1="449.71" x2="554.16" y2="449.71" stroke="#000" stroke-width="1" />
<text x="561.19" y="472.05" font-size="17.03" text-anchor="start" font-family="Liberation Serif" font-weight="bold" stroke="#000" stroke-width="0.25" >Reference phase</text>
<line x1="564.61" y1="435.77" x2="572.25" y2="435.77" stroke="#000" stroke-width="1.1" />
<line x1="570.45" y1="422.26" x2="566.16" y2="422.26" stroke="#000" stroke-width="1" />
<text x="572.57" y="443.51" font-size="16.51" text-anchor="start" font-family="Liberation Serif" font-weight="bold" stroke="#000" stroke-width="0.25" >CH-13 Second</text>
<line x1="576.12" y1="409.14" x2="583.53" y2="409.14" stroke="#000" stroke-width="1.1" />
<line x1="581.63" y1="396.41" x2="577.46" y2="396.41" stroke="#000" stroke-width="1" />
<text x="583.84" y="416.65" font-size="16.03" text-anchor="start" font-family="Liberation Serif" font-weight="bold" stroke="#000" stroke-width="0.25" >CH-12 Second</text>
<line x1="586.97" y1="384.04" x2="594.17" y2="384.04" stroke="#000" stroke-width="1.1" />
<line x1="592.17" y1="372.02" x2="588.12" y2="372.02" stroke="#000" stroke-width="1" />
<text x="594.47" y="391.33" font-size="15.57" text-anchor="start" font-family="Liberation Serif" font-weight="bold" stroke="#000" stroke-width="0.25" >CH-11 Second</text>
<line x1="597.22" y1="360.33" x2="604.22" y2="360.33" stroke="#000" stroke-width="1.1" />
<line x1="602.13" y1="348.96" x2="598.2" y2="348.96" stroke="#000" stroke-width="1" />
<text x="604.51" y="367.41" font-size="15.13" text-anchor="start" font-family="Liberation Serif" font-weight="bold" stroke="#000" stroke-width="0.25" >CH-10 Second</text>
<line x1="606.91" y1="337.9" x2="613.72" y2="337.9" stroke="#000" stroke-width="1.1" />
<line x1="611.56" y1="327.14" x2="607.73" y2="327.14" stroke="#000" stroke-width="1" />
<text x="614.01" y="344.79" font-size="14.73" text-anchor="start" font-family="Liberation Serif" font-weight="bold" stroke="#000" stroke-width="0.25" >CH-09 Second</text>
<line x1="616.09" y1="316.65" x2="622.72" y2="316.65" stroke="#000" stroke-width="1.1" />
<line x1="620.5" y1="306.45" x2="616.77" y2="306.45" stroke="#000" stroke-width="1" />
<text x="623" y="323.37" font-size="14.34" text-anchor="start" font-family="Liberation Serif" font-weight="bold" stroke="#000" stroke-width="0.25" >CH-08 Second</text>
<line x1="624.8" y1="296.5" x2="631.26" y2="296.5" stroke="#000" stroke-width="1.1" />
<line x1="628.99" y1="286.81" x2="625.36" y2="286.81" stroke="#000" stroke-width="1" />
<text x="631.53" y="303.04" font-size="13.97" text-anchor="start" font-family="Liberation Serif" font-weight="bold" stroke="#000" stroke-width="0.25" >CH-07 Second</text>
<line x1="633.08" y1="277.35" x2="639.37" y2="277.35" stroke="#000" stroke-width="1.1" />
<line x1="637.06" y1="268.14" x2="633.52" y2="268.14" stroke="#000" stroke-width="1" />
<text x="639.64" y="283.73" font-size="13.62" text-anchor="start" font-family="Liberation Serif" font-weight="bold" stroke="#000" stroke-width="0.25" >CH-06 Second</text>
<line x1="640.95" y1="259.14" x2="647.09" y2="259.14" stroke="#000" stroke-width="1.1" />
<line x1="644.74" y1="250.37" x2="641.28" y2="250.37" stroke="#000" stroke-width="1" />
<text x="647.35" y="265.36" font-size="13.29" text-anchor="start" font-family="Liberation Serif" font-weight="bold" stroke="#000" stroke-width="0.25" >CH-05 Second</text>
<line x1="648.44" y1="241.8" x2="654.44" y2="241.8" stroke="#000" stroke-width="1.1" />
<line x1="652.06" y1="233.44" x2="648.68" y2="233.44" stroke="#000" stroke-width="1" />
<text x="654.69" y="247.87" font-size="12.97" text-anchor="start" font-family="Liberation Serif" font-weight="bold" stroke="#000" stroke-width="0.25" >CH-04 Second</text>
<line x1="655.59" y1="225.26" x2="661.45" y2="225.26" stroke="#000" stroke-width="1.1" />
<line x1="659.04" y1="217.28" x2="655.74" y2="217.28" stroke="#000" stroke-width="1" />
<text x="661.69" y="231.2" font-size="12.67" text-anchor="start" font-family="Liberation Serif" font-weight="bold" stroke="#000" stroke-width="0.25" >CH-03 Second</text>
<line x1="662.41" y1="209.48" x2="668.13" y2="209.48" stroke="#000" stroke-width="1.1" />
<line x1="665.7" y1="201.86" x2="662.48" y2="201.86" stroke="#000" stroke-width="1" />
<text x="668.37" y="215.28" font-size="12.38" text-anchor="start" font-family="Liberation Serif" font-weight="bold" stroke="#000" stroke-width="0.25" >CH-02 Second</text>
<line x1="668.93" y1="194.4" x2="674.52" y2="194.4" stroke="#000" stroke-width="1.1" />
<line x1="672.08" y1="187.11" x2="668.93" y2="187.11" stroke="#000" stroke-width="1" />
<text x="674.76" y="200.07" font-size="12.1" text-anchor="start" font-family="Liberation Serif" font-weight="bold" stroke="#000" stroke-width="0.25" >CH-01 Second</text>
<line x1="391.41" y1="46.32" x2="391.41" y2="41.13" stroke="#000" stroke-width="1" />
<text x="384" y="36" font-size="11.9" text-anchor="start" font-family="Liberation Serif" font-weight="bold" stroke="#000" stroke-width="0.25" >0.2</text>
<line x1="411.46" y1="46.32" x2="411.46" y2="43.55" stroke="#000" stroke-width="1" />
<line x1="431.5" y1="46.32" x2="431.5" y2="41.13" stroke="#000" stroke-width="1" />
<text x="423.95" y="36" font-size="11.9" text-anchor="start" font-family="Liberation Serif" font-weight="bold" stroke="#000" stroke-width="0.25" >0.4</text>
<line x1="451.55" y1="46.32" x2="451.55" y2="43.55" stroke="#000" stroke-width="1" />
<line x1="471.6" y1="46.32" x2="471.6" y2="41.13" stroke="#000" stroke-width="1" />
<text x="464.1" y="36" font-size="11.9" text-anchor="start" font-family="Liberation Serif" font-weight="bold" stroke="#000" stroke-width="0.25" >0.6</text>
<line x1="491.65" y1="46.32" x2="491.65" y2="43.55" stroke="#000" stroke-width="1" />
<line x1="511.7" y1="46.32" x2="511.7" y2="41.13" stroke="#000" stroke-width="1" />
<text x="504.23" y="36" font-size="11.9" text-anchor="start" font-family="Liberation Serif" font-weight="bold" stroke="#000" stroke-width="0.25" >0.8</text>
<line x1="531.74" y1="46.32" x2="531.74" y2="43.55" stroke="#000" stroke-width="1" />
<line x1="551.79" y1="46.32" x2="551.79" y2="41.13" stroke="#000" stroke-width="1" />
<text x="544.11" y="36" font-size="11.9" text-anchor="start" font-family="Liberation Serif" font-weight="bold" stroke="#000" stroke-width="0.25" >1.0</text>
<line x1="571.84" y1="46.32" x2="571.84" y2="43.55" stroke="#000" stroke-width="1" />
<line x1="591.89" y1="46.32" x2="591.89" y2="41.13" stroke="#000" stroke-width="1" />
<text x="584.24" y="36" font-size="11.9" text-anchor="start" font-family="Liberation Serif" font-weight="bold" stroke="#000" stroke-width="0.25" >1.2</text>
<line x1="611.93" y1="46.32" x2="611.93" y2="43.55" stroke="#000" stroke-width="1" />
<line x1="631.98" y1="46.32" x2="631.98" y2="41.13" stroke="#000" stroke-width="1" />
<text x="624.18" y="36" font-size="11.9" text-anchor="start" font-family="Liberation Serif" font-weight="bold" stroke="#000" stroke-width="0.25" >1.4</text>
<line x1="652.03" y1="46.32" x2="652.03" y2="43.55" stroke="#000" stroke-width="1" />
<line x1="672.08" y1="46.32" x2="672.08" y2="41.13" stroke="#000" stroke-width="1" />
<text x="664.34" y="36" font-size="11.9" text-anchor="start" font-family="Liberation Serif" font-weight="bold" stroke="#000" stroke-width="0.25" >1.6</text>
<text x="478.04" y="16.7" font-size="14.81" text-anchor="start" font-family="Liberation Serif" font-weight="bold" stroke="#000" stroke-width="0.25" >Frequency (THz)</text>
<line x1="672.08" y1="187.11" x2="677.82" y2="187.11" stroke="#000" stroke-width="1" />
<text x="681.58" y="191.68" font-size="11.9" text-anchor="start" font-family="Liberation Serif" font-weight="bold" stroke="#000" stroke-width="0.25" >-5</text>
<line x1="672.08" y1="177.75" x2="674.98" y2="177.75" stroke="#000" stroke-width="1" />
<line x1="672.08" y1="168.39" x2="677.82" y2="168.39" stroke="#000" stroke-width="1" />
<text x="681.52" y="172.95" font-size="11.9" text-anchor="start" font-family="Liberation Serif" font-weight="bold" stroke="#000" stroke-width="0.25" >0</text>
<line x1="672.08" y1="159.03" x2="674.98" y2="159.03" stroke="#000" stroke-width="1" />
<line x1="672.08" y1="149.66" x2="677.82" y2="149.66" stroke="#000" stroke-width="1" />
<text x="681.52" y="154.23" font-size="11.9" text-anchor="start" font-family="Liberation Serif" font-weight="bold" stroke="#000" stroke-width="0.25" >5</text>
<line x1="672.08" y1="140.3" x2="674.98" y2="140.3" stroke="#000" stroke-width="1" />
<line x1="672.08" y1="130.94" x2="677.82" y2="130.94" stroke="#000" stroke-width="1" />
<text x="681.05" y="135.51" font-size="11.9" text-anchor="start" font-family="Liberation Serif" font-weight="bold" stroke="#000" stroke-width="0.25" >10</text>
<line x1="672.08" y1="121.58" x2="674.98" y2="121.58" stroke="#000" stroke-width="1" />
<line x1="672.08" y1="112.22" x2="677.82" y2="112.22" stroke="#000" stroke-width="1" />
<text x="681.05" y="116.79" font-size="11.9" text-anchor="start" font-family="Liberation Serif" font-weight="bold" stroke="#000" stroke-width="0.25" >15</text>
<line x1="672.08" y1="102.86" x2="674.98" y2="102.86" stroke="#000" stroke-width="1" />
<line x1="672.08" y1="93.5" x2="677.82" y2="93.5" stroke="#000" stroke-width="1" />
<text x="681.52" y="98.06" font-size="11.9" text-anchor="start" font-family="Liberation Serif" font-weight="bold" stroke="#000" stroke-width="0.25" >20</text>
<line x1="672.08" y1="84.14" x2="674.98" y2="84.14" stroke="#000" stroke-width="1" />
<line x1="672.08" y1="74.78" x2="677.82" y2="74.78" stroke="#000" stroke-width="1" />
<text x="681.52" y="79.34" font-size="11.9" text-anchor="start" font-family="Liberation Serif" font-weight="bold" stroke="#000" stroke-width="0.25" >25</text>
<line x1="672.08" y1="65.41" x2="674.98" y2="65.41" stroke="#000" stroke-width="1" />
<line x1="672.08" y1="56.05" x2="677.82" y2="56.05" stroke="#000" stroke-width="1" />
<text x="681.52" y="60.62" font-size="11.9" text-anchor="start" font-family="Liberation Serif" font-weight="bold" stroke="#000" stroke-width="0.25" >30</text>
<line x1="672.08" y1="46.69" x2="674.98" y2="46.69" stroke="#000" stroke-width="1" />
<text transform="translate(700.7,132.4) rotate(90)" font-size="14.81" text-anchor="middle" font-family="Liberation Serif" font-weight="bold" stroke="#000" stroke-width="0.25">Phase (rad)</text>
<text x="31.4" y="50.6" font-size="21" text-anchor="start" font-family="Liberation Serif" font-weight="bold" stroke="#000" stroke-width="0.25" >c)</text>
<polygon points="119.7,1028.2 119.7,832.6 361.47,612.05 361.47,747.41" fill="#e2faf3" />
<polygon points="361.47,747.41 631.79,747.41 631.79,612.05 361.47,612.05" fill="#fdfde0" />
<polygon points="119.7,1028.2 510.32,1028.2 631.79,747.41 361.47,747.41" fill="#f2f3f3" />
<line x1="404.72" y1="747.41" x2="404.72" y2="612.05" stroke="#a4a49c" stroke-width="1" />
<line x1="447.97" y1="747.41" x2="447.97" y2="612.05" stroke="#a4a49c" stroke-width="1" />
<line x1="491.22" y1="747.41" x2="491.22" y2="612.05" stroke="#a4a49c" stroke-width="1" />
<line x1="534.47" y1="747.41" x2="534.47" y2="612.05" stroke="#a4a49c" stroke-width="1" />
<line x1="577.72" y1="747.41" x2="577.72" y2="612.05" stroke="#a4a49c" stroke-width="1" />
<line x1="620.97" y1="747.41" x2="620.97" y2="612.05" stroke="#a4a49c" stroke-width="1" />
<line x1="361.47" y1="747.41" x2="631.79" y2="747.41" stroke="#a4a49c" stroke-width="1" />
<line x1="361.47" y1="733.87" x2="631.79" y2="733.87" stroke="#a4a49c" stroke-width="1" />
<line x1="361.47" y1="720.34" x2="631.79" y2="720.34" stroke="#a4a49c" stroke-width="1" />
<line x1="361.47" y1="706.8" x2="631.79" y2="706.8" stroke="#a4a49c" stroke-width="1" />
<line x1="361.47" y1="693.26" x2="631.79" y2="693.26" stroke="#a4a49c" stroke-width="1" />
<line x1="361.47" y1="679.73" x2="631.79" y2="679.73" stroke="#a4a49c" stroke-width="1" />
<line x1="361.47" y1="666.19" x2="631.79" y2="666.19" stroke="#a4a49c" stroke-width="1" />
<line x1="361.47" y1="652.66" x2="631.79" y2="652.66" stroke="#a4a49c" stroke-width="1" />
<line x1="361.47" y1="639.12" x2="631.79" y2="639.12" stroke="#a4a49c" stroke-width="1" />
<line x1="361.47" y1="625.59" x2="631.79" y2="625.59" stroke="#a4a49c" stroke-width="1" />
<line x1="131.98" y1="1013.94" x2="131.98" y2="821.4" stroke="#c4d8d0" stroke-width="0.8" />
<line x1="155.43" y1="986.7" x2="155.43" y2="800.01" stroke="#c4d8d0" stroke-width="0.8" />
<line x1="177.49" y1="961.08" x2="177.49" y2="779.88" stroke="#c4d8d0" stroke-width="0.8" />
<line x1="198.3" y1="936.92" x2="198.3" y2="760.9" stroke="#c4d8d0" stroke-width="0.8" />
<line x1="217.94" y1="914.1" x2="217.94" y2="742.98" stroke="#c4d8d0" stroke-width="0.8" />
<line x1="236.53" y1="892.52" x2="236.53" y2="726.03" stroke="#c4d8d0" stroke-width="0.8" />
<line x1="254.13" y1="872.07" x2="254.13" y2="709.97" stroke="#c4d8d0" stroke-width="0.8" />
<line x1="270.83" y1="852.68" x2="270.83" y2="694.73" stroke="#c4d8d0" stroke-width="0.8" />
<line x1="286.69" y1="834.25" x2="286.69" y2="680.26" stroke="#c4d8d0" stroke-width="0.8" />
<line x1="301.78" y1="816.73" x2="301.78" y2="666.5" stroke="#c4d8d0" stroke-width="0.8" />
<line x1="316.15" y1="800.04" x2="316.15" y2="653.39" stroke="#c4d8d0" stroke-width="0.8" />
<line x1="329.85" y1="784.13" x2="329.85" y2="640.89" stroke="#c4d8d0" stroke-width="0.8" />
<line x1="342.93" y1="768.94" x2="342.93" y2="628.96" stroke="#c4d8d0" stroke-width="0.8" />
<line x1="355.43" y1="754.42" x2="355.43" y2="617.56" stroke="#c4d8d0" stroke-width="0.8" />
<line x1="119.7" y1="1028.2" x2="361.47" y2="747.41" stroke="#707878" stroke-width="0.6" />
<line x1="119.7" y1="1008.64" x2="361.47" y2="733.87" stroke="#707878" stroke-width="0.6" />
<line x1="119.7" y1="989.08" x2="361.47" y2="720.34" stroke="#707878" stroke-width="0.6" />
<line x1="119.7" y1="969.52" x2="361.47" y2="706.8" stroke="#707878" stroke-width="0.6" />
<line x1="119.7" y1="949.96" x2="361.47" y2="693.26" stroke="#707878" stroke-width="0.6" />
<line x1="119.7" y1="930.4" x2="361.47" y2="679.73" stroke="#707878" stroke-width="0.6" />
<line x1="119.7" y1="910.84" x2="361.47" y2="666.19" stroke="#707878" stroke-width="0.6" />
<line x1="119.7" y1="891.28" x2="361.47" y2="652.66" stroke="#707878" stroke-width="0.6" />
<line x1="119.7" y1="871.72" x2="361.47" y2="639.12" stroke="#707878" stroke-width="0.6" />
<line x1="119.7" y1="852.16" x2="361.47" y2="625.59" stroke="#707878" stroke-width="0.6" />
<line x1="131.98" y1="1013.94" x2="516.5" y2="1013.94" stroke="#c8d0d0" stroke-width="0.8" />
<line x1="155.43" y1="986.7" x2="528.27" y2="986.7" stroke="#c8d0d0" stroke-width="0.8" />
<line x1="177.49" y1="961.08" x2="539.36" y2="961.08" stroke="#c8d0d0" stroke-width="0.8" />
<line x1="198.3" y1="936.92" x2="549.81" y2="936.92" stroke="#c8d0d0" stroke-width="0.8" />
<line x1="217.94" y1="914.1" x2="559.68" y2="914.1" stroke="#c8d0d0" stroke-width="0.8" />
<line x1="236.53" y1="892.52" x2="569.02" y2="892.52" stroke="#c8d0d0" stroke-width="0.8" />
<line x1="254.13" y1="872.07" x2="577.86" y2="872.07" stroke="#c8d0d0" stroke-width="0.8" />
<line x1="270.83" y1="852.68" x2="586.25" y2="852.68" stroke="#c8d0d0" stroke-width="0.8" />
<line x1="286.69" y1="834.25" x2="594.22" y2="834.25" stroke="#c8d0d0" stroke-width="0.8" />
<line x1="301.78" y1="816.73" x2="601.8" y2="816.73" stroke="#c8d0d0" stroke-width="0.8" />
<line x1="316.15" y1="800.04" x2="609.02" y2="800.04" stroke="#c8d0d0" stroke-width="0.8" />
<line x1="329.85" y1="784.13" x2="615.9" y2="784.13" stroke="#c8d0d0" stroke-width="0.8" />
<line x1="342.93" y1="768.94" x2="622.47" y2="768.94" stroke="#c8d0d0" stroke-width="0.8" />
<line x1="355.43" y1="754.42" x2="628.75" y2="754.42" stroke="#c8d0d0" stroke-width="0.8" />
<polygon points="355.43,708.58 356.52,710.12 357.62,711.18 358.71,711.8 359.81,712 360.9,711.57 362,710.45 363.09,708.83 364.19,706.93 365.28,704.94 366.38,703.07 367.47,701.09 368.57,698.85 369.66,696.67 370.76,694.85 371.85,693.35 372.95,691.91 374.04,690.56 375.14,689.28 376.23,688.07 377.33,686.95 378.42,685.9 379.52,684.93 380.61,684.04 381.71,683.23 382.8,682.45 383.9,681.7 384.99,680.97 386.09,680.28 387.18,679.63 388.28,679.04 389.38,678.51 390.47,678.06 391.57,677.7 392.66,677.43 393.76,677.2 394.85,677 395.95,676.82 397.04,676.67 398.14,676.58 399.23,676.55 400.33,676.63 401.42,676.82 402.52,677.1 403.61,677.43 404.71,677.79 405.8,678.15 406.9,678.55 407.99,679.02 409.09,679.54 410.18,680.11 411.28,680.7 412.37,681.31 413.47,681.91 414.56,682.47 415.66,683 416.75,683.52 417.85,684.01 418.94,684.47 420.04,684.92 421.13,685.35 422.23,685.78 423.32,686.23 424.42,686.69 425.51,687.19 426.61,687.72 427.7,688.28 428.8,688.86 429.89,689.45 430.99,690.05 432.08,690.63 433.18,691.2 434.27,691.73 435.37,692.23 436.46,692.7 437.56,693.13 438.65,693.53 439.75,693.91 440.84,694.27 441.94,694.62 443.03,694.97 444.13,695.31 445.22,695.66 446.32,696 447.41,696.34 448.51,696.68 449.6,697 450.7,697.31 451.79,697.6 452.89,697.86 453.98,698.09 455.08,698.3 456.17,698.48 457.27,698.63 458.36,698.77 459.46,698.91 460.55,699.06 461.65,699.24 462.74,699.45 463.84,699.7 464.93,700 466.03,700.34 467.12,700.73 468.22,701.17 469.31,701.64 470.41,702.13 471.5,702.63 472.6,703.12 473.69,703.58 474.79,703.99 475.88,704.35 476.98,704.64 478.07,704.88 479.17,705.08 480.26,705.24 481.36,705.38 482.46,705.52 483.55,705.76 484.65,706.12 485.74,706.56 486.84,707.08 487.93,707.63 489.03,708.2 490.12,708.75 491.22,709.26 492.31,709.68 493.41,709.99 494.5,710.24 495.6,710.49 496.69,710.71 497.79,710.92 498.88,711.11 499.98,711.28 501.07,711.44 502.17,711.58 503.26,711.7 504.36,711.83 505.45,711.97 506.55,712.13 507.64,712.33 508.74,712.57 509.83,712.88 510.93,713.26 512.02,713.71 513.12,714.21 514.21,714.76 515.31,715.34 516.4,715.93 517.5,716.52 518.59,717.08 519.69,717.6 520.78,718.05 521.88,718.42 522.97,718.69 524.07,718.89 525.16,719.01 526.26,719.08 527.35,719.09 528.45,719.07 529.54,719.03 530.64,718.99 531.73,718.98 532.83,719.01 533.92,719.08 535.02,719.23 536.11,719.45 537.21,719.74 538.3,720.13 539.4,720.63 540.49,721.21 541.59,721.85 542.68,722.54 543.78,723.24 544.87,723.94 545.97,724.62 547.06,725.26 548.16,725.84 549.25,726.36 550.35,726.8 551.44,727.17 552.54,727.45 553.63,727.69 554.73,727.9 555.82,728.1 556.92,728.3 558.01,728.49 559.11,728.69 560.2,728.89 561.3,729.1 562.39,729.31 563.49,729.52 564.58,729.72 565.68,729.91 566.77,730.09 567.87,730.27 568.96,730.42 570.06,730.55 571.15,730.67 572.25,730.79 573.34,730.9 574.44,731.03 575.54,731.19 576.63,731.38 577.73,731.62 578.82,731.91 579.92,732.25 581.01,732.64 582.11,733.08 583.2,733.57 584.3,734.11 585.39,734.67 586.49,735.24 587.58,735.81 588.68,736.35 589.77,736.86 590.87,737.31 591.96,737.71 593.06,738.04 594.15,738.31 595.25,738.52 596.34,738.67 597.44,738.77 598.53,738.86 599.63,738.94 600.72,739.02 601.82,739.12 602.91,739.24 604.01,739.38 605.1,739.55 606.2,739.74 607.29,739.95 608.39,740.17 609.48,740.4 610.58,740.61 611.67,740.81 612.77,741 613.86,741.17 614.96,741.32 616.05,741.46 617.15,741.58 618.24,741.69 619.34,741.8 620.43,741.91 621.53,742.02 622.62,742.16 623.72,742.3 624.81,742.47 625.91,742.65 627,742.84 627,754.42 355.43,754.42" fill="#d8d8d8" fill-opacity="0.5"/>
<polyline points="355.43,708.58 356.52,710.12 357.62,711.18 358.71,711.8 359.81,712 360.9,711.57 362,710.45 363.09,708.83 364.19,706.93 365.28,704.94 366.38,703.07 367.47,701.09 368.57,698.85 369.66,696.67 370.76,694.85 371.85,693.35 372.95,691.91 374.04,690.56 375.14,689.28 376.23,688.07 377.33,686.95 378.42,685.9 379.52,684.93 380.61,684.04 381.71,683.23 382.8,682.45 383.9,681.7 384.99,680.97 386.09,680.28 387.18,679.63 388.28,679.04 389.38,678.51 390.47,678.06 391.57,677.7 392.66,677.43 393.76,677.2 394.85,677 395.95,676.82 397.04,676.67 398.14,676.58 399.23,676.55 400.33,676.63 401.42,676.82 402.52,677.1 403.61,677.43 404.71,677.79 405.8,678.15 406.9,678.55 407.99,679.02 409.09,679.54 410.18,680.11 411.28,680.7 412.37,681.31 413.47,681.91 414.56,682.47 415.66,683 416.75,683.52 417.85,684.01 418.94,684.47 420.04,684.92 421.13,685.35 422.23,685.78 423.32,686.23 424.42,686.69 425.51,687.19 426.61,687.72 427.7,688.28 428.8,688.86 429.89,689.45 430.99,690.05 432.08,690.63 433.18,691.2 434.27,691.73 435.37,692.23 436.46,692.7 437.56,693.13 438.65,693.53 439.75,693.91 440.84,694.27 441.94,694.62 443.03,694.97 444.13,695.31 445.22,695.66 446.32,696 447.41,696.34 448.51,696.68 449.6,697 450.7,697.31 451.79,697.6 452.89,697.86 453.98,698.09 455.08,698.3 456.17,698.48 457.27,698.63 458.36,698.77 459.46,698.91 460.55,699.06 461.65,699.24 462.74,699.45 463.84,699.7 464.93,700 466.03,700.34 467.12,700.73 468.22,701.17 469.31,701.64 470.41,702.13 471.5,702.63 472.6,703.12 473.69,703.58 474.79,703.99 475.88,704.35 476.98,704.64 478.07,704.88 479.17,705.08 480.26,705.24 481.36,705.38 482.46,705.52 483.55,705.76 484.65,706.12 485.74,706.56 486.84,707.08 487.93,707.63 489.03,708.2 490.12,708.75 491.22,709.26 492.31,709.68 493.41,709.99 494.5,710.24 495.6,710.49 496.69,710.71 497.79,710.92 498.88,711.11 499.98,711.28 501.07,711.44 502.17,711.58 503.26,711.7 504.36,711.83 505.45,711.97 506.55,712.13 507.64,712.33 508.74,712.57 509.83,712.88 510.93,713.26 512.02,713.71 513.12,714.21 514.21,714.76 515.31,715.34 516.4,715.93 517.5,716.52 518.59,717.08 519.69,717.6 520.78,718.05 521.88,718.42 522.97,718.69 524.07,718.89 525.16,719.01 526.26,719.08 527.35,719.09 528.45,719.07 529.54,719.03 530.64,718.99 531.73,718.98 532.83,719.01 533.92,719.08 535.02,719.23 536.11,719.45 537.21,719.74 538.3,720.13 539.4,720.63 540.49,721.21 541.59,721.85 542.68,722.54 543.78,723.24 544.87,723.94 545.97,724.62 547.06,725.26 548.16,725.84 549.25,726.36 550.35,726.8 551.44,727.17 552.54,727.45 553.63,727.69 554.73,727.9 555.82,728.1 556.92,728.3 558.01,728.49 559.11,728.69 560.2,728.89 561.3,729.1 562.39,729.31 563.49,729.52 564.58,729.72 565.68,729.91 566.77,730.09 567.87,730.27 568.96,730.42 570.06,730.55 571.15,730.67 572.25,730.79 573.34,730.9 574.44,731.03 575.54,731.19 576.63,731.38 577.73,731.62 578.82,731.91 579.92,732.25 581.01,732.64 582.11,733.08 583.2,733.57 584.3,734.11 585.39,734.67 586.49,735.24 587.58,735.81 588.68,736.35 589.77,736.86 590.87,737.31 591.96,737.71 593.06,738.04 594.15,738.31 595.25,738.52 596.34,738.67 597.44,738.77 598.53,738.86 599.63,738.94 600.72,739.02 601.82,739.12 602.91,739.24 604.01,739.38 605.1,739.55 606.2,739.74 607.29,739.95 608.39,740.17 609.48,740.4 610.58,740.61 611.67,740.81 612.77,741 613.86,741.17 614.96,741.32 616.05,741.46 617.15,741.58 618.24,741.69 619.34,741.8 620.43,741.91 621.53,742.02 622.62,742.16 623.72,742.3 624.81,742.47 625.91,742.65 627,742.84" fill="none" stroke="#8880ec" stroke-width="3.2" stroke-linejoin="round" stroke-linecap="round" stroke-opacity="0.72"/>
<polygon points="342.93,722.05 344.05,723.59 345.17,724.69 346.29,725.33 347.41,725.54 348.53,725.15 349.65,724.1 350.77,722.59 351.89,720.82 353.01,718.98 354.13,717.26 355.25,715.49 356.37,713.51 357.49,711.53 358.61,709.75 359.73,708.15 360.85,706.6 361.97,705.12 363.09,703.71 364.21,702.4 365.33,701.2 366.45,700.08 367.57,699 368.69,697.99 369.81,697.03 370.93,696.13 372.05,695.26 373.17,694.45 374.29,693.7 375.41,693.02 376.53,692.43 377.65,691.91 378.77,691.44 379.89,691.04 381.01,690.74 382.13,690.51 383.25,690.35 384.37,690.25 385.49,690.21 386.61,690.21 387.73,690.27 388.85,690.4 389.97,690.62 391.09,690.88 392.21,691.18 393.33,691.5 394.45,691.83 395.57,692.2 396.69,692.62 397.81,693.08 398.93,693.58 400.05,694.09 401.17,694.61 402.29,695.11 403.41,695.58 404.53,696.05 405.65,696.53 406.77,697.03 407.89,697.55 409.01,698.1 410.13,698.68 411.25,699.28 412.37,699.89 413.49,700.51 414.61,701.12 415.73,701.72 416.85,702.3 417.97,702.86 419.09,703.39 420.21,703.89 421.33,704.39 422.45,704.89 423.57,705.38 424.69,705.89 425.81,706.42 426.93,706.96 428.05,707.53 429.17,708.11 430.29,708.7 431.41,709.28 432.53,709.84 433.65,710.36 434.77,710.84 435.89,711.25 437.01,711.6 438.13,711.89 439.25,712.11 440.37,712.29 441.49,712.44 442.61,712.56 443.73,712.68 444.85,712.81 445.97,712.97 447.09,713.17 448.21,713.43 449.33,713.75 450.45,714.15 451.57,714.62 452.69,715.15 453.81,715.72 454.93,716.33 456.05,716.95 457.17,717.56 458.29,718.15 459.41,718.7 460.53,719.2 461.65,719.62 462.77,719.98 463.89,720.26 465.01,720.47 466.13,720.62 467.25,720.73 468.37,720.81 469.49,720.89 470.61,720.98 471.73,721.11 472.85,721.3 473.97,721.59 475.09,721.99 476.21,722.49 477.33,723.05 478.45,723.64 479.57,724.23 480.69,724.8 481.81,725.31 482.93,725.73 484.05,726.05 485.17,726.31 486.29,726.53 487.41,726.73 488.53,726.9 489.65,727.08 490.77,727.26 491.89,727.46 493.01,727.69 494.13,727.95 495.25,728.27 496.37,728.63 497.49,729.04 498.61,729.49 499.73,729.97 500.85,730.49 501.97,731.03 503.09,731.56 504.21,732.08 505.33,732.56 506.45,732.99 507.57,733.36 508.69,733.67 509.81,733.93 510.93,734.12 512.05,734.26 513.17,734.35 514.29,734.4 515.41,734.45 516.53,734.49 517.65,734.55 518.77,734.64 519.89,734.77 521.01,734.94 522.13,735.15 523.25,735.41 524.37,735.71 525.49,736.04 526.61,736.4 527.73,736.78 528.85,737.18 529.97,737.59 531.09,738.03 532.21,738.48 533.33,738.93 534.45,739.39 535.57,739.84 536.69,740.29 537.81,740.73 538.93,741.17 540.05,741.6 541.17,742.02 542.29,742.42 543.41,742.81 544.53,743.17 545.65,743.51 546.77,743.83 547.89,744.14 549.01,744.41 550.13,744.65 551.25,744.86 552.37,745.02 553.49,745.15 554.61,745.25 555.73,745.31 556.85,745.37 557.97,745.42 559.09,745.48 560.21,745.57 561.33,745.69 562.45,745.86 563.57,746.07 564.69,746.35 565.81,746.68 566.93,747.07 568.05,747.51 569.17,747.99 570.29,748.5 571.41,749.02 572.53,749.54 573.65,750.04 574.77,750.51 575.89,750.95 577.01,751.35 578.13,751.71 579.25,752.03 580.37,752.31 581.49,752.54 582.61,752.75 583.73,752.94 584.85,753.12 585.97,753.3 587.09,753.49 588.21,753.69 589.33,753.9 590.45,754.12 591.57,754.36 592.69,754.62 593.81,754.88 594.93,755.15 596.05,755.41 597.17,755.65 598.29,755.89 599.41,756.1 600.53,756.29 601.65,756.45 602.77,756.6 603.89,756.73 605.01,756.86 606.13,756.99 607.25,757.13 608.37,757.3 609.49,757.49 610.61,757.72 611.73,757.97 612.85,758.25 613.97,758.54 615.09,758.84 616.21,759.13 617.33,759.4 618.45,759.64 619.57,759.84 620.69,759.98 620.69,768.94 342.93,768.94" fill="#d8d8d8" fill-opacity="0.5"/>
<polyline points="342.93,722.05 344.05,723.59 345.17,724.69 346.29,725.33 347.41,725.54 348.53,725.15 349.65,724.1 350.77,722.59 351.89,720.82 353.01,718.98 354.13,717.26 355.25,715.49 356.37,713.51 357.49,711.53 358.61,709.75 359.73,708.15 360.85,706.6 361.97,705.12 363.09,703.71 364.21,702.4 365.33,701.2 366.45,700.08 367.57,699 368.69,697.99 369.81,697.03 370.93,696.13 372.05,695.26 373.17,694.45 374.29,693.7 375.41,693.02 376.53,692.43 377.65,691.91 378.77,691.44 379.89,691.04 381.01,690.74 382.13,690.51 383.25,690.35 384.37,690.25 385.49,690.21 386.61,690.21 387.73,690.27 388.85,690.4 389.97,690.62 391.09,690.88 392.21,691.18 393.33,691.5 394.45,691.83 395.57,692.2 396.69,692.62 397.81,693.08 398.93,693.58 400.05,694.09 401.17,694.61 402.29,695.11 403.41,695.58 404.53,696.05 405.65,696.53 406.77,697.03 407.89,697.55 409.01,698.1 410.13,698.68 411.25,699.28 412.37,699.89 413.49,700.51 414.61,701.12 415.73,701.72 416.85,702.3 417.97,702.86 419.09,703.39 420.21,703.89 421.33,704.39 422.45,704.89 423.57,705.38 424.69,705.89 425.81,706.42 426.93,706.96 428.05,707.53 429.17,708.11 430.29,708.7 431.41,709.28 432.53,709.84 433.65,710.36 434.77,710.84 435.89,711.25 437.01,711.6 438.13,711.89 439.25,712.11 440.37,712.29 441.49,712.44 442.61,712.56 443.73,712.68 444.85,712.81 445.97,712.97 447.09,713.17 448.21,713.43 449.33,713.75 450.45,714.15 451.57,714.62 452.69,715.15 453.81,715.72 454.93,716.33 456.05,716.95 457.17,717.56 458.29,718.15 459.41,718.7 460.53,719.2 461.65,719.62 462.77,719.98 463.89,720.26 465.01,720.47 466.13,720.62 467.25,720.73 468.37,720.81 469.49,720.89 470.61,720.98 471.73,721.11 472.85,721.3 473.97,721.59 475.09,721.99 476.21,722.49 477.33,723.05 478.45,723.64 479.57,724.23 480.69,724.8 481.81,725.31 482.93,725.73 484.05,726.05 485.17,726.31 486.29,726.53 487.41,726.73 488.53,726.9 489.65,727.08 490.77,727.26 491.89,727.46 493.01,727.69 494.13,727.95 495.25,728.27 496.37,728.63 497.49,729.04 498.61,729.49 499.73,729.97 500.85,730.49 501.97,731.03 503.09,731.56 504.21,732.08 505.33,732.56 506.45,732.99 507.57,733.36 508.69,733.67 509.81,733.93 510.93,734.12 512.05,734.26 513.17,734.35 514.29,734.4 515.41,734.45 516.53,734.49 517.65,734.55 518.77,734.64 519.89,734.77 521.01,734.94 522.13,735.15 523.25,735.41 524.37,735.71 525.49,736.04 526.61,736.4 527.73,736.78 528.85,737.18 529.97,737.59 531.09,738.03 532.21,738.48 533.33,738.93 534.45,739.39 535.57,739.84 536.69,740.29 537.81,740.73 538.93,741.17 540.05,741.6 541.17,742.02 542.29,742.42 543.41,742.81 544.53,743.17 545.65,743.51 546.77,743.83 547.89,744.14 549.01,744.41 550.13,744.65 551.25,744.86 552.37,745.02 553.49,745.15 554.61,745.25 555.73,745.31 556.85,745.37 557.97,745.42 559.09,745.48 560.21,745.57 561.33,745.69 562.45,745.86 563.57,746.07 564.69,746.35 565.81,746.68 566.93,747.07 568.05,747.51 569.17,747.99 570.29,748.5 571.41,749.02 572.53,749.54 573.65,750.04 574.77,750.51 575.89,750.95 577.01,751.35 578.13,751.71 579.25,752.03 580.37,752.31 581.49,752.54 582.61,752.75 583.73,752.94 584.85,753.12 585.97,753.3 587.09,753.49 588.21,753.69 589.33,753.9 590.45,754.12 591.57,754.36 592.69,754.62 593.81,754.88 594.93,755.15 596.05,755.41 597.17,755.65 598.29,755.89 599.41,756.1 600.53,756.29 601.65,756.45 602.77,756.6 603.89,756.73 605.01,756.86 606.13,756.99 607.25,757.13 608.37,757.3 609.49,757.49 610.61,757.72 611.73,757.97 612.85,758.25 613.97,758.54 615.09,758.84 616.21,759.13 617.33,759.4 618.45,759.64 619.57,759.84 620.69,759.98" fill="none" stroke="#8088f0" stroke-width="3.2" stroke-linejoin="round" stroke-linecap="round" stroke-opacity="0.72"/>
<polygon points="329.85,736.14 331,737.69 332.15,738.82 333.29,739.5 334.44,739.72 335.59,739.35 336.73,738.38 337.88,736.99 339.02,735.36 340.17,733.67 341.32,732.11 342.46,730.55 343.61,728.85 344.75,727.07 345.9,725.33 347.05,723.64 348.19,721.97 349.34,720.35 350.48,718.82 351.63,717.4 352.78,716.11 353.92,714.91 355.07,713.73 356.21,712.58 357.36,711.49 358.51,710.44 359.65,709.46 360.8,708.55 361.94,707.74 363.09,707.03 364.24,706.45 365.38,705.93 366.53,705.44 367.67,705.01 368.82,704.66 369.97,704.43 371.11,704.32 372.26,704.32 373.4,704.37 374.55,704.47 375.7,704.62 376.84,704.82 377.99,705.05 379.13,705.31 380.28,705.57 381.43,705.85 382.57,706.15 383.72,706.49 384.86,706.85 386.01,707.25 387.16,707.67 388.3,708.11 389.45,708.55 390.6,709 391.74,709.45 392.89,709.93 394.03,710.44 395.18,711 396.33,711.58 397.47,712.17 398.62,712.77 399.76,713.37 400.91,713.96 402.06,714.54 403.2,715.11 404.35,715.68 405.49,716.26 406.64,716.86 407.79,717.49 408.93,718.13 410.08,718.8 411.22,719.48 412.37,720.16 413.52,720.85 414.66,721.51 415.81,722.17 416.95,722.81 418.1,723.42 419.25,723.98 420.39,724.5 421.54,724.96 422.68,725.37 423.83,725.73 424.98,726.03 426.12,726.3 427.27,726.55 428.41,726.81 429.56,727.09 430.71,727.4 431.85,727.76 433,728.17 434.14,728.64 435.29,729.15 436.44,729.71 437.58,730.31 438.73,730.93 439.87,731.56 441.02,732.18 442.17,732.78 443.31,733.35 444.46,733.87 445.61,734.35 446.75,734.77 447.9,735.14 449.04,735.46 450.19,735.74 451.34,735.99 452.48,736.22 453.63,736.44 454.77,736.66 455.92,736.88 457.07,737.13 458.21,737.39 459.36,737.67 460.5,737.98 461.65,738.31 462.8,738.65 463.94,739.01 465.09,739.4 466.23,739.78 467.38,740.17 468.53,740.54 469.67,740.9 470.82,741.23 471.96,741.55 473.11,741.86 474.26,742.15 475.4,742.46 476.55,742.8 477.69,743.19 478.84,743.61 479.99,744.07 481.13,744.56 482.28,745.08 483.42,745.62 484.57,746.16 485.72,746.69 486.86,747.2 488.01,747.67 489.15,748.11 490.3,748.5 491.45,748.83 492.59,749.12 493.74,749.35 494.89,749.55 496.03,749.71 497.18,749.84 498.32,749.97 499.47,750.11 500.62,750.26 501.76,750.43 502.91,750.63 504.05,750.87 505.2,751.13 506.35,751.41 507.49,751.72 508.64,752.04 509.78,752.36 510.93,752.67 512.08,752.97 513.22,753.25 514.37,753.52 515.51,753.77 516.66,754.01 517.81,754.25 518.95,754.49 520.1,754.74 521.24,755.02 522.39,755.33 523.54,755.68 524.68,756.06 525.83,756.47 526.97,756.91 528.12,757.36 529.27,757.82 530.41,758.27 531.56,758.7 532.7,759.1 533.85,759.46 535,759.77 536.14,760.02 537.29,760.22 538.43,760.37 539.58,760.48 540.73,760.56 541.87,760.62 543.02,760.67 544.16,760.73 545.31,760.81 546.46,760.93 547.6,761.1 548.75,761.32 549.9,761.6 551.04,761.94 552.19,762.33 553.33,762.78 554.48,763.26 555.63,763.75 556.77,764.26 557.92,764.76 559.06,765.24 560.21,765.69 561.36,766.09 562.5,766.46 563.65,766.78 564.79,767.06 565.94,767.3 567.09,767.51 568.23,767.71 569.38,767.9 570.52,768.1 571.67,768.3 572.82,768.52 573.96,768.76 575.11,769.02 576.25,769.3 577.4,769.59 578.55,769.89 579.69,770.19 580.84,770.49 581.98,770.78 583.13,771.04 584.28,771.28 585.42,771.49 586.57,771.68 587.71,771.85 588.86,772.01 590.01,772.17 591.15,772.34 592.3,772.53 593.44,772.74 594.59,772.99 595.74,773.27 596.88,773.59 598.03,773.92 599.18,774.28 600.32,774.65 601.47,775.02 602.61,775.38 603.76,775.72 604.91,776.02 606.05,776.28 607.2,776.47 608.34,776.61 609.49,776.68 610.64,776.68 611.78,776.64 612.93,776.55 614.07,776.42 614.07,784.13 329.85,784.13" fill="#d8d8d8" fill-opacity="0.5"/>
<polyline points="329.85,736.14 331,737.69 332.15,738.82 333.29,739.5 334.44,739.72 335.59,739.35 336.73,738.38 337.88,736.99 339.02,735.36 340.17,733.67 341.32,732.11 342.46,730.55 343.61,728.85 344.75,727.07 345.9,725.33 347.05,723.64 348.19,721.97 349.34,720.35 350.48,718.82 351.63,717.4 352.78,716.11 353.92,714.91 355.07,713.73 356.21,712.58 357.36,711.49 358.51,710.44 359.65,709.46 360.8,708.55 361.94,707.74 363.09,707.03 364.24,706.45 365.38,705.93 366.53,705.44 367.67,705.01 368.82,704.66 369.97,704.43 371.11,704.32 372.26,704.32 373.4,704.37 374.55,704.47 375.7,704.62 376.84,704.82 377.99,705.05 379.13,705.31 380.28,705.57 381.43,705.85 382.57,706.15 383.72,706.49 384.86,706.85 386.01,707.25 387.16,707.67 388.3,708.11 389.45,708.55 390.6,709 391.74,709.45 392.89,709.93 394.03,710.44 395.18,711 396.33,711.58 397.47,712.17 398.62,712.77 399.76,713.37 400.91,713.96 402.06,714.54 403.2,715.11 404.35,715.68 405.49,716.26 406.64,716.86 407.79,717.49 408.93,718.13 410.08,718.8 411.22,719.48 412.37,720.16 413.52,720.85 414.66,721.51 415.81,722.17 416.95,722.81 418.1,723.42 419.25,723.98 420.39,724.5 421.54,724.96 422.68,725.37 423.83,725.73 424.98,726.03 426.12,726.3 427.27,726.55 428.41,726.81 429.56,727.09 430.71,727.4 431.85,727.76 433,728.17 434.14,728.64 435.29,729.15 436.44,729.71 437.58,730.31 438.73,730.93 439.87,731.56 441.02,732.18 442.17,732.78 443.31,733.35 444.46,733.87 445.61,734.35 446.75,734.77 447.9,735.14 449.04,735.46 450.19,735.74 451.34,735.99 452.48,736.22 453.63,736.44 454.77,736.66 455.92,736.88 457.07,737.13 458.21,737.39 459.36,737.67 460.5,737.98 461.65,738.31 462.8,738.65 463.94,739.01 465.09,739.4 466.23,739.78 467.38,740.17 468.53,740.54 469.67,740.9 470.82,741.23 471.96,741.55 473.11,741.86 474.26,742.15 475.4,742.46 476.55,742.8 477.69,743.19 478.84,743.61 479.99,744.07 481.13,744.56 482.28,745.08 483.42,745.62 484.57,746.16 485.72,746.69 486.86,747.2 488.01,747.67 489.15,748.11 490.3,748.5 491.45,748.83 492.59,749.12 493.74,749.35 494.89,749.55 496.03,749.71 497.18,749.84 498.32,749.97 499.47,750.11 500.62,750.26 501.76,750.43 502.91,750.63 504.05,750.87 505.2,751.13 506.35,751.41 507.49,751.72 508.64,752.04 509.78,752.36 510.93,752.67 512.08,752.97 513.22,753.25 514.37,753.52 515.51,753.77 516.66,754.01 517.81,754.25 518.95,754.49 520.1,754.74 521.24,755.02 522.39,755.33 523.54,755.68 524.68,756.06 525.83,756.47 526.97,756.91 528.12,757.36 529.27,757.82 530.41,758.27 531.56,758.7 532.7,759.1 533.85,759.46 535,759.77 536.14,760.02 537.29,760.22 538.43,760.37 539.58,760.48 540.73,760.56 541.87,760.62 543.02,760.67 544.16,760.73 545.31,760.81 546.46,760.93 547.6,761.1 548.75,761.32 549.9,761.6 551.04,761.94 552.19,762.33 553.33,762.78 554.48,763.26 555.63,763.75 556.77,764.26 557.92,764.76 559.06,765.24 560.21,765.69 561.36,766.09 562.5,766.46 563.65,766.78 564.79,767.06 565.94,767.3 567.09,767.51 568.23,767.71 569.38,767.9 570.52,768.1 571.67,768.3 572.82,768.52 573.96,768.76 575.11,769.02 576.25,769.3 577.4,769.59 578.55,769.89 579.69,770.19 580.84,770.49 581.98,770.78 583.13,771.04 584.28,771.28 585.42,771.49 586.57,771.68 587.71,771.85 588.86,772.01 590.01,772.17 591.15,772.34 592.3,772.53 593.44,772.74 594.59,772.99 595.74,773.27 596.88,773.59 598.03,773.92 599.18,774.28 600.32,774.65 601.47,775.02 602.61,775.38 603.76,775.72 604.91,776.02 606.05,776.28 607.2,776.47 608.34,776.61 609.49,776.68 610.64,776.68 611.78,776.64 612.93,776.55 614.07,776.42" fill="none" stroke="#7ca4f0" stroke-width="3.2" stroke-linejoin="round" stroke-linecap="round" stroke-opacity="0.72"/>
<polygon points="316.15,750.91 317.33,752.48 318.5,753.63 319.67,754.34 320.85,754.58 322.02,754.22 323.19,753.28 324.37,751.93 325.54,750.35 326.71,748.72 327.89,747.22 329.06,745.77 330.23,744.18 331.41,742.49 332.58,740.75 333.75,738.99 334.93,737.23 336.1,735.53 337.27,733.91 338.45,732.41 339.62,731.07 340.79,729.81 341.97,728.56 343.14,727.33 344.31,726.15 345.49,725.02 346.66,723.96 347.83,723 349.01,722.14 350.18,721.41 351.35,720.82 352.53,720.3 353.7,719.79 354.87,719.34 356.05,718.97 357.22,718.73 358.39,718.65 359.57,718.69 360.74,718.79 361.91,718.95 363.09,719.15 364.26,719.38 365.43,719.63 366.61,719.88 367.78,720.13 368.95,720.39 370.13,720.68 371.3,721 372.48,721.35 373.65,721.72 374.82,722.1 376,722.51 377.17,722.91 378.34,723.33 379.52,723.74 380.69,724.18 381.86,724.65 383.04,725.16 384.21,725.69 385.38,726.26 386.56,726.85 387.73,727.48 388.9,728.14 390.08,728.81 391.25,729.5 392.42,730.21 393.6,730.91 394.77,731.61 395.94,732.28 397.12,732.9 398.29,733.47 399.46,733.99 400.64,734.46 401.81,734.89 402.98,735.29 404.16,735.69 405.33,736.1 406.5,736.52 407.68,736.96 408.85,737.43 410.02,737.93 411.2,738.45 412.37,739 413.54,739.57 414.72,740.14 415.89,740.72 417.06,741.32 418.24,741.93 419.41,742.54 420.58,743.15 421.76,743.75 422.93,744.33 424.1,744.88 425.28,745.41 426.45,745.93 427.62,746.42 428.8,746.89 429.97,747.34 431.14,747.78 432.32,748.2 433.49,748.62 434.66,749.04 435.84,749.45 437.01,749.85 438.18,750.25 439.36,750.64 440.53,751.01 441.7,751.36 442.88,751.7 444.05,752.01 445.22,752.31 446.4,752.58 447.57,752.83 448.74,753.06 449.92,753.29 451.09,753.52 452.26,753.76 453.44,754.01 454.61,754.28 455.78,754.59 456.96,754.93 458.13,755.32 459.3,755.76 460.48,756.24 461.65,756.75 462.82,757.31 464,757.9 465.17,758.51 466.34,759.12 467.52,759.73 468.69,760.32 469.86,760.88 471.04,761.39 472.21,761.84 473.38,762.24 474.56,762.59 475.73,762.89 476.9,763.14 478.08,763.37 479.25,763.57 480.42,763.77 481.6,763.97 482.77,764.17 483.94,764.4 485.12,764.64 486.29,764.92 487.46,765.21 488.64,765.52 489.81,765.86 490.98,766.22 492.16,766.58 493.33,766.94 494.5,767.28 495.68,767.61 496.85,767.92 498.02,768.2 499.2,768.46 500.37,768.69 501.54,768.91 502.72,769.11 503.89,769.33 505.06,769.55 506.24,769.8 507.41,770.08 508.58,770.4 509.76,770.75 510.93,771.14 512.1,771.56 513.28,772 514.45,772.43 515.62,772.85 516.8,773.25 517.97,773.61 519.14,773.92 520.32,774.18 521.49,774.38 522.66,774.52 523.84,774.63 525.01,774.71 526.19,774.77 527.36,774.83 528.53,774.91 529.71,775.01 530.88,775.16 532.05,775.36 533.23,775.62 534.4,775.93 535.57,776.3 536.75,776.72 537.92,777.17 539.09,777.66 540.27,778.16 541.44,778.66 542.61,779.14 543.79,779.61 544.96,780.04 546.13,780.44 547.31,780.79 548.48,781.11 549.65,781.4 550.83,781.66 552,781.91 553.17,782.14 554.35,782.38 555.52,782.62 556.69,782.87 557.87,783.14 559.04,783.43 560.21,783.72 561.39,784.03 562.56,784.33 563.73,784.64 564.91,784.93 566.08,785.2 567.25,785.44 568.43,785.67 569.6,785.87 570.77,786.05 571.95,786.23 573.12,786.4 574.29,786.58 575.47,786.77 576.64,786.99 577.81,787.23 578.99,787.51 580.16,787.83 581.33,788.19 582.51,788.58 583.68,789.02 584.85,789.48 586.03,789.95 587.2,790.41 588.37,790.86 589.55,791.27 590.72,791.63 591.89,791.93 593.07,792.16 594.24,792.33 595.41,792.43 596.59,792.48 597.76,792.48 598.93,792.45 600.11,792.39 601.28,792.32 602.45,792.25 603.63,792.2 604.8,792.16 605.97,792.16 607.15,792.19 607.15,800.04 316.15,800.04" fill="#d8d8d8" fill-opacity="0.5"/>
<polyline points="316.15,750.91 317.33,752.48 318.5,753.63 319.67,754.34 320.85,754.58 322.02,754.22 323.19,753.28 324.37,751.93 325.54,750.35 326.71,748.72 327.89,747.22 329.06,745.77 330.23,744.18 331.41,742.49 332.58,740.75 333.75,738.99 334.93,737.23 336.1,735.53 337.27,733.91 338.45,732.41 339.62,731.07 340.79,729.81 341.97,728.56 343.14,727.33 344.31,726.15 345.49,725.02 346.66,723.96 347.83,723 349.01,722.14 350.18,721.41 351.35,720.82 352.53,720.3 353.7,719.79 354.87,719.34 356.05,718.97 357.22,718.73 358.39,718.65 359.57,718.69 360.74,718.79 361.91,718.95 363.09,719.15 364.26,719.38 365.43,719.63 366.61,719.88 367.78,720.13 368.95,720.39 370.13,720.68 371.3,721 372.48,721.35 373.65,721.72 374.82,722.1 376,722.51 377.17,722.91 378.34,723.33 379.52,723.74 380.69,724.18 381.86,724.65 383.04,725.16 384.21,725.69 385.38,726.26 386.56,726.85 387.73,727.48 388.9,728.14 390.08,728.81 391.25,729.5 392.42,730.21 393.6,730.91 394.77,731.61 395.94,732.28 397.12,732.9 398.29,733.47 399.46,733.99 400.64,734.46 401.81,734.89 402.98,735.29 404.16,735.69 405.33,736.1 406.5,736.52 407.68,736.96 408.85,737.43 410.02,737.93 411.2,738.45 412.37,739 413.54,739.57 414.72,740.14 415.89,740.72 417.06,741.32 418.24,741.93 419.41,742.54 420.58,743.15 421.76,743.75 422.93,744.33 424.1,744.88 425.28,745.41 426.45,745.93 427.62,746.42 428.8,746.89 429.97,747.34 431.14,747.78 432.32,748.2 433.49,748.62 434.66,749.04 435.84,749.45 437.01,749.85 438.18,750.25 439.36,750.64 440.53,751.01 441.7,751.36 442.88,751.7 444.05,752.01 445.22,752.31 446.4,752.58 447.57,752.83 448.74,753.06 449.92,753.29 451.09,753.52 452.26,753.76 453.44,754.01 454.61,754.28 455.78,754.59 456.96,754.93 458.13,755.32 459.3,755.76 460.48,756.24 461.65,756.75 462.82,757.31 464,757.9 465.17,758.51 466.34,759.12 467.52,759.73 468.69,760.32 469.86,760.88 471.04,761.39 472.21,761.84 473.38,762.24 474.56,762.59 475.73,762.89 476.9,763.14 478.08,763.37 479.25,763.57 480.42,763.77 481.6,763.97 482.77,764.17 483.94,764.4 485.12,764.64 486.29,764.92 487.46,765.21 488.64,765.52 489.81,765.86 490.98,766.22 492.16,766.58 493.33,766.94 494.5,767.28 495.68,767.61 496.85,767.92 498.02,768.2 499.2,768.46 500.37,768.69 501.54,768.91 502.72,769.11 503.89,769.33 505.06,769.55 506.24,769.8 507.41,770.08 508.58,770.4 509.76,770.75 510.93,771.14 512.1,771.56 513.28,772 514.45,772.43 515.62,772.85 516.8,773.25 517.97,773.61 519.14,773.92 520.32,774.18 521.49,774.38 522.66,774.52 523.84,774.63 525.01,774.71 526.19,774.77 527.36,774.83 528.53,774.91 529.71,775.01 530.88,775.16 532.05,775.36 533.23,775.62 534.4,775.93 535.57,776.3 536.75,776.72 537.92,777.17 539.09,777.66 540.27,778.16 541.44,778.66 542.61,779.14 543.79,779.61 544.96,780.04 546.13,780.44 547.31,780.79 548.48,781.11 549.65,781.4 550.83,781.66 552,781.91 553.17,782.14 554.35,782.38 555.52,782.62 556.69,782.87 557.87,783.14 559.04,783.43 560.21,783.72 561.39,784.03 562.56,784.33 563.73,784.64 564.91,784.93 566.08,785.2 567.25,785.44 568.43,785.67 569.6,785.87 570.77,786.05 571.95,786.23 573.12,786.4 574.29,786.58 575.47,786.77 576.64,786.99 577.81,787.23 578.99,787.51 580.16,787.83 581.33,788.19 582.51,788.58 583.68,789.02 584.85,789.48 586.03,789.95 587.2,790.41 588.37,790.86 589.55,791.27 590.72,791.63 591.89,791.93 593.07,792.16 594.24,792.33 595.41,792.43 596.59,792.48 597.76,792.48 598.93,792.45 600.11,792.39 601.28,792.32 602.45,792.25 603.63,792.2 604.8,792.16 605.97,792.16 607.15,792.19" fill="none" stroke="#68c4f0" stroke-width="3.2" stroke-linejoin="round" stroke-linecap="round" stroke-opacity="0.72"/>
<polygon points="301.78,766.4 302.99,768.01 304.19,769.19 305.39,769.91 306.59,770.16 307.79,769.79 309,768.82 310.2,767.44 311.4,765.82 312.6,764.16 313.8,762.62 315.01,761.13 316.21,759.5 317.41,757.78 318.61,755.99 319.81,754.18 321.02,752.39 322.22,750.64 323.42,748.99 324.62,747.45 325.82,746.08 327.03,744.79 328.23,743.51 329.43,742.25 330.63,741.03 331.83,739.88 333.04,738.79 334.24,737.81 335.44,736.93 336.64,736.18 337.84,735.58 339.05,735.04 340.25,734.52 341.45,734.05 342.65,733.68 343.85,733.43 345.06,733.35 346.26,733.39 347.46,733.5 348.66,733.66 349.86,733.87 351.07,734.1 352.27,734.36 353.47,734.62 354.67,734.87 355.87,735.14 357.08,735.43 358.28,735.76 359.48,736.12 360.68,736.49 361.88,736.89 363.09,737.29 364.29,737.67 365.49,738.05 366.69,738.42 367.89,738.81 369.1,739.26 370.3,739.76 371.5,740.31 372.7,740.91 373.9,741.53 375.11,742.16 376.31,742.78 377.51,743.36 378.71,743.88 379.91,744.32 381.12,744.7 382.32,745 383.52,745.24 384.72,745.44 385.92,745.61 387.13,745.79 388.33,746 389.53,746.24 390.73,746.55 391.93,746.95 393.14,747.43 394.34,748 395.54,748.65 396.74,749.34 397.94,750.07 399.15,750.81 400.35,751.54 401.55,752.24 402.75,752.89 403.95,753.48 405.16,754.03 406.36,754.55 407.56,755.03 408.76,755.5 409.96,755.95 411.17,756.4 412.37,756.85 413.57,757.31 414.77,757.79 415.97,758.31 417.18,758.85 418.38,759.41 419.58,759.98 420.78,760.55 421.98,761.11 423.19,761.64 424.39,762.13 425.59,762.58 426.79,762.96 427.99,763.28 429.2,763.54 430.4,763.75 431.6,763.92 432.8,764.07 434,764.21 435.21,764.36 436.41,764.55 437.61,764.78 438.81,765.09 440.01,765.47 441.22,765.92 442.42,766.45 443.62,767.04 444.82,767.69 446.02,768.37 447.23,769.07 448.43,769.77 449.63,770.46 450.83,771.1 452.03,771.7 453.24,772.24 454.44,772.73 455.64,773.17 456.84,773.54 458.04,773.87 459.25,774.16 460.45,774.41 461.65,774.66 462.85,774.9 464.05,775.15 465.26,775.42 466.46,775.73 467.66,776.06 468.86,776.43 470.06,776.82 471.27,777.24 472.47,777.66 473.67,778.08 474.87,778.49 476.07,778.88 477.28,779.25 478.48,779.59 479.68,779.91 480.88,780.21 482.08,780.5 483.29,780.78 484.49,781.06 485.69,781.34 486.89,781.65 488.09,781.97 489.3,782.32 490.5,782.69 491.7,783.07 492.9,783.47 494.1,783.89 495.31,784.31 496.51,784.73 497.71,785.13 498.91,785.52 500.12,785.87 501.32,786.19 502.52,786.47 503.72,786.71 504.92,786.91 506.13,787.06 507.33,787.19 508.53,787.29 509.73,787.38 510.93,787.48 512.14,787.59 513.34,787.73 514.54,787.91 515.74,788.14 516.94,788.43 518.15,788.78 519.35,789.17 520.55,789.61 521.75,790.07 522.95,790.56 524.16,791.06 525.36,791.55 526.56,792.02 527.76,792.48 528.96,792.9 530.17,793.29 531.37,793.65 532.57,793.99 533.77,794.31 534.97,794.61 536.18,794.91 537.38,795.21 538.58,795.52 539.78,795.84 540.98,796.18 542.19,796.53 543.39,796.89 544.59,797.26 545.79,797.62 546.99,797.97 548.2,798.3 549.4,798.6 550.6,798.87 551.8,799.11 553,799.31 554.21,799.49 555.41,799.64 556.61,799.78 557.81,799.93 559.01,800.08 560.22,800.27 561.42,800.49 562.62,800.76 563.82,801.1 565.02,801.49 566.23,801.94 567.43,802.44 568.63,802.98 569.83,803.53 571.03,804.09 572.24,804.63 573.44,805.15 574.64,805.62 575.84,806.05 577.04,806.42 578.25,806.73 579.45,806.97 580.65,807.15 581.85,807.28 583.05,807.35 584.26,807.38 585.46,807.39 586.66,807.39 587.86,807.4 589.06,807.43 590.27,807.49 591.47,807.57 592.67,807.67 593.87,807.81 595.07,807.96 596.28,808.12 597.48,808.28 598.68,808.43 599.88,808.57 599.88,816.73 301.78,816.73" fill="#d8d8d8" fill-opacity="0.5"/>
<polyline points="301.78,766.4 302.99,768.01 304.19,769.19 305.39,769.91 306.59,770.16 307.79,769.79 309,768.82 310.2,767.44 311.4,765.82 312.6,764.16 313.8,762.62 315.01,761.13 316.21,759.5 317.41,757.78 318.61,755.99 319.81,754.18 321.02,752.39 322.22,750.64 323.42,748.99 324.62,747.45 325.82,746.08 327.03,744.79 328.23,743.51 329.43,742.25 330.63,741.03 331.83,739.88 333.04,738.79 334.24,737.81 335.44,736.93 336.64,736.18 337.84,735.58 339.05,735.04 340.25,734.52 341.45,734.05 342.65,733.68 343.85,733.43 345.06,733.35 346.26,733.39 347.46,733.5 348.66,733.66 349.86,733.87 351.07,734.1 352.27,734.36 353.47,734.62 354.67,734.87 355.87,735.14 357.08,735.43 358.28,735.76 359.48,736.12 360.68,736.49 361.88,736.89 363.09,737.29 364.29,737.67 365.49,738.05 366.69,738.42 367.89,738.81 369.1,739.26 370.3,739.76 371.5,740.31 372.7,740.91 373.9,741.53 375.11,742.16 376.31,742.78 377.51,743.36 378.71,743.88 379.91,744.32 381.12,744.7 382.32,745 383.52,745.24 384.72,745.44 385.92,745.61 387.13,745.79 388.33,746 389.53,746.24 390.73,746.55 391.93,746.95 393.14,747.43 394.34,748 395.54,748.65 396.74,749.34 397.94,750.07 399.15,750.81 400.35,751.54 401.55,752.24 402.75,752.89 403.95,753.48 405.16,754.03 406.36,754.55 407.56,755.03 408.76,755.5 409.96,755.95 411.17,756.4 412.37,756.85 413.57,757.31 414.77,757.79 415.97,758.31 417.18,758.85 418.38,759.41 419.58,759.98 420.78,760.55 421.98,761.11 423.19,761.64 424.39,762.13 425.59,762.58 426.79,762.96 427.99,763.28 429.2,763.54 430.4,763.75 431.6,763.92 432.8,764.07 434,764.21 435.21,764.36 436.41,764.55 437.61,764.78 438.81,765.09 440.01,765.47 441.22,765.92 442.42,766.45 443.62,767.04 444.82,767.69 446.02,768.37 447.23,769.07 448.43,769.77 449.63,770.46 450.83,771.1 452.03,771.7 453.24,772.24 454.44,772.73 455.64,773.17 456.84,773.54 458.04,773.87 459.25,774.16 460.45,774.41 461.65,774.66 462.85,774.9 464.05,775.15 465.26,775.42 466.46,775.73 467.66,776.06 468.86,776.43 470.06,776.82 471.27,777.24 472.47,777.66 473.67,778.08 474.87,778.49 476.07,778.88 477.28,779.25 478.48,779.59 479.68,779.91 480.88,780.21 482.08,780.5 483.29,780.78 484.49,781.06 485.69,781.34 486.89,781.65 488.09,781.97 489.3,782.32 490.5,782.69 491.7,783.07 492.9,783.47 494.1,783.89 495.31,784.31 496.51,784.73 497.71,785.13 498.91,785.52 500.12,785.87 501.32,786.19 502.52,786.47 503.72,786.71 504.92,786.91 506.13,787.06 507.33,787.19 508.53,787.29 509.73,787.38 510.93,787.48 512.14,787.59 513.34,787.73 514.54,787.91 515.74,788.14 516.94,788.43 518.15,788.78 519.35,789.17 520.55,789.61 521.75,790.07 522.95,790.56 524.16,791.06 525.36,791.55 526.56,792.02 527.76,792.48 528.96,792.9 530.17,793.29 531.37,793.65 532.57,793.99 533.77,794.31 534.97,794.61 536.18,794.91 537.38,795.21 538.58,795.52 539.78,795.84 540.98,796.18 542.19,796.53 543.39,796.89 544.59,797.26 545.79,797.62 546.99,797.97 548.2,798.3 549.4,798.6 550.6,798.87 551.8,799.11 553,799.31 554.21,799.49 555.41,799.64 556.61,799.78 557.81,799.93 559.01,800.08 560.22,800.27 561.42,800.49 562.62,800.76 563.82,801.1 565.02,801.49 566.23,801.94 567.43,802.44 568.63,802.98 569.83,803.53 571.03,804.09 572.24,804.63 573.44,805.15 574.64,805.62 575.84,806.05 577.04,806.42 578.25,806.73 579.45,806.97 580.65,807.15 581.85,807.28 583.05,807.35 584.26,807.38 585.46,807.39 586.66,807.39 587.86,807.4 589.06,807.43 590.27,807.49 591.47,807.57 592.67,807.67 593.87,807.81 595.07,807.96 596.28,808.12 597.48,808.28 598.68,808.43 599.88,808.57" fill="none" stroke="#68e0e0" stroke-width="3.2" stroke-linejoin="round" stroke-linecap="round" stroke-opacity="0.72"/>
<polygon points="286.69,782.67 287.93,784.32 289.16,785.52 290.39,786.27 291.62,786.52 292.85,786.14 294.09,785.15 295.32,783.73 296.55,782.07 297.78,780.36 299.02,778.79 300.25,777.26 301.48,775.59 302.71,773.83 303.94,772 305.18,770.14 306.41,768.3 307.64,766.52 308.87,764.82 310.1,763.24 311.34,761.83 312.57,760.51 313.8,759.2 315.03,757.91 316.26,756.66 317.5,755.48 318.73,754.37 319.96,753.36 321.19,752.46 322.43,751.69 323.66,751.07 324.89,750.52 326.12,749.99 327.35,749.51 328.59,749.13 329.82,748.87 331.05,748.79 332.28,748.83 333.51,748.94 334.75,749.11 335.98,749.32 337.21,749.56 338.44,749.82 339.67,750.09 340.91,750.35 342.14,750.62 343.37,750.93 344.6,751.26 345.83,751.62 347.07,752.01 348.3,752.42 349.53,752.85 350.76,753.3 352,753.78 353.23,754.29 354.46,754.87 355.69,755.5 356.92,756.19 358.16,756.89 359.39,757.6 360.62,758.29 361.85,758.94 363.08,759.53 364.32,760.06 365.55,760.53 366.78,760.96 368.01,761.38 369.24,761.8 370.48,762.25 371.71,762.75 372.94,763.3 374.17,763.91 375.4,764.57 376.64,765.27 377.87,766.01 379.1,766.79 380.33,767.61 381.57,768.43 382.8,769.26 384.03,770.07 385.26,770.84 386.49,771.58 387.73,772.27 388.96,772.9 390.19,773.48 391.42,774.02 392.65,774.54 393.89,775.06 395.12,775.57 396.35,776.09 397.58,776.62 398.81,777.16 400.05,777.71 401.28,778.26 402.51,778.81 403.74,779.34 404.98,779.85 406.21,780.32 407.44,780.74 408.67,781.12 409.9,781.44 411.14,781.71 412.37,781.94 413.6,782.13 414.83,782.3 416.06,782.46 417.3,782.63 418.53,782.83 419.76,783.07 420.99,783.37 422.22,783.72 423.46,784.14 424.69,784.63 425.92,785.17 427.15,785.76 428.38,786.4 429.62,787.04 430.85,787.69 432.08,788.32 433.31,788.92 434.55,789.47 435.78,789.97 437.01,790.42 438.24,790.82 439.47,791.16 440.71,791.47 441.94,791.75 443.17,792.02 444.4,792.29 445.63,792.58 446.87,792.87 448.1,793.19 449.33,793.53 450.56,793.88 451.79,794.25 453.03,794.63 454.26,795.02 455.49,795.4 456.72,795.77 457.96,796.13 459.19,796.47 460.42,796.79 461.65,797.1 462.88,797.38 464.12,797.66 465.35,797.94 466.58,798.22 467.81,798.52 469.04,798.86 470.28,799.24 471.51,799.65 472.74,800.1 473.97,800.58 475.2,801.09 476.44,801.6 477.67,802.11 478.9,802.59 480.13,803.03 481.36,803.42 482.6,803.75 483.83,804.01 485.06,804.21 486.29,804.35 487.53,804.44 488.76,804.49 489.99,804.51 491.22,804.53 492.45,804.57 493.69,804.62 494.92,804.72 496.15,804.86 497.38,805.05 498.61,805.29 499.85,805.59 501.08,805.93 502.31,806.31 503.54,806.72 504.77,807.14 506.01,807.58 507.24,808.02 508.47,808.45 509.7,808.86 510.93,809.25 512.17,809.62 513.4,809.96 514.63,810.29 515.86,810.6 517.1,810.91 518.33,811.22 519.56,811.53 520.79,811.86 522.02,812.21 523.26,812.58 524.49,812.96 525.72,813.35 526.95,813.74 528.18,814.13 529.42,814.5 530.65,814.85 531.88,815.16 533.11,815.43 534.34,815.66 535.58,815.85 536.81,816 538.04,816.11 539.27,816.21 540.51,816.29 541.74,816.39 542.97,816.5 544.2,816.65 545.43,816.84 546.67,817.1 547.9,817.41 549.13,817.78 550.36,818.22 551.59,818.7 552.83,819.22 554.06,819.77 555.29,820.34 556.52,820.9 557.75,821.45 558.99,821.95 560.22,822.41 561.45,822.81 562.68,823.15 563.91,823.42 565.15,823.63 566.38,823.79 567.61,823.93 568.84,824.04 570.08,824.14 571.31,824.24 572.54,824.35 573.77,824.47 575,824.6 576.24,824.74 577.47,824.9 578.7,825.06 579.93,825.23 581.16,825.4 582.4,825.56 583.63,825.71 584.86,825.84 586.09,825.94 587.32,826.02 588.56,826.09 589.79,826.14 591.02,826.18 592.25,826.22 592.25,834.25 286.69,834.25" fill="#d8d8d8" fill-opacity="0.5"/>
<polyline points="286.69,782.67 287.93,784.32 289.16,785.52 290.39,786.27 291.62,786.52 292.85,786.14 294.09,785.15 295.32,783.73 296.55,782.07 297.78,780.36 299.02,778.79 300.25,777.26 301.48,775.59 302.71,773.83 303.94,772 305.18,770.14 306.41,768.3 307.64,766.52 308.87,764.82 310.1,763.24 311.34,761.83 312.57,760.51 313.8,759.2 315.03,757.91 316.26,756.66 317.5,755.48 318.73,754.37 319.96,753.36 321.19,752.46 322.43,751.69 323.66,751.07 324.89,750.52 326.12,749.99 327.35,749.51 328.59,749.13 329.82,748.87 331.05,748.79 332.28,748.83 333.51,748.94 334.75,749.11 335.98,749.32 337.21,749.56 338.44,749.82 339.67,750.09 340.91,750.35 342.14,750.62 343.37,750.93 344.6,751.26 345.83,751.62 347.07,752.01 348.3,752.42 349.53,752.85 350.76,753.3 352,753.78 353.23,754.29 354.46,754.87 355.69,755.5 356.92,756.19 358.16,756.89 359.39,757.6 360.62,758.29 361.85,758.94 363.08,759.53 364.32,760.06 365.55,760.53 366.78,760.96 368.01,761.38 369.24,761.8 370.48,762.25 371.71,762.75 372.94,763.3 374.17,763.91 375.4,764.57 376.64,765.27 377.87,766.01 379.1,766.79 380.33,767.61 381.57,768.43 382.8,769.26 384.03,770.07 385.26,770.84 386.49,771.58 387.73,772.27 388.96,772.9 390.19,773.48 391.42,774.02 392.65,774.54 393.89,775.06 395.12,775.57 396.35,776.09 397.58,776.62 398.81,777.16 400.05,777.71 401.28,778.26 402.51,778.81 403.74,779.34 404.98,779.85 406.21,780.32 407.44,780.74 408.67,781.12 409.9,781.44 411.14,781.71 412.37,781.94 413.6,782.13 414.83,782.3 416.06,782.46 417.3,782.63 418.53,782.83 419.76,783.07 420.99,783.37 422.22,783.72 423.46,784.14 424.69,784.63 425.92,785.17 427.15,785.76 428.38,786.4 429.62,787.04 430.85,787.69 432.08,788.32 433.31,788.92 434.55,789.47 435.78,789.97 437.01,790.42 438.24,790.82 439.47,791.16 440.71,791.47 441.94,791.75 443.17,792.02 444.4,792.29 445.63,792.58 446.87,792.87 448.1,793.19 449.33,793.53 450.56,793.88 451.79,794.25 453.03,794.63 454.26,795.02 455.49,795.4 456.72,795.77 457.96,796.13 459.19,796.47 460.42,796.79 461.65,797.1 462.88,797.38 464.12,797.66 465.35,797.94 466.58,798.22 467.81,798.52 469.04,798.86 470.28,799.24 471.51,799.65 472.74,800.1 473.97,800.58 475.2,801.09 476.44,801.6 477.67,802.11 478.9,802.59 480.13,803.03 481.36,803.42 482.6,803.75 483.83,804.01 485.06,804.21 486.29,804.35 487.53,804.44 488.76,804.49 489.99,804.51 491.22,804.53 492.45,804.57 493.69,804.62 494.92,804.72 496.15,804.86 497.38,805.05 498.61,805.29 499.85,805.59 501.08,805.93 502.31,806.31 503.54,806.72 504.77,807.14 506.01,807.58 507.24,808.02 508.47,808.45 509.7,808.86 510.93,809.25 512.17,809.62 513.4,809.96 514.63,810.29 515.86,810.6 517.1,810.91 518.33,811.22 519.56,811.53 520.79,811.86 522.02,812.21 523.26,812.58 524.49,812.96 525.72,813.35 526.95,813.74 528.18,814.13 529.42,814.5 530.65,814.85 531.88,815.16 533.11,815.43 534.34,815.66 535.58,815.85 536.81,816 538.04,816.11 539.27,816.21 540.51,816.29 541.74,816.39 542.97,816.5 544.2,816.65 545.43,816.84 546.67,817.1 547.9,817.41 549.13,817.78 550.36,818.22 551.59,818.7 552.83,819.22 554.06,819.77 555.29,820.34 556.52,820.9 557.75,821.45 558.99,821.95 560.22,822.41 561.45,822.81 562.68,823.15 563.91,823.42 565.15,823.63 566.38,823.79 567.61,823.93 568.84,824.04 570.08,824.14 571.31,824.24 572.54,824.35 573.77,824.47 575,824.6 576.24,824.74 577.47,824.9 578.7,825.06 579.93,825.23 581.16,825.4 582.4,825.56 583.63,825.71 584.86,825.84 586.09,825.94 587.32,826.02 588.56,826.09 589.79,826.14 591.02,826.18 592.25,826.22" fill="none" stroke="#70dc78" stroke-width="3.2" stroke-linejoin="round" stroke-linecap="round" stroke-opacity="0.72"/>
<polygon points="270.83,799.77 272.09,801.46 273.36,802.7 274.62,803.46 275.89,803.71 277.15,803.33 278.41,802.31 279.68,800.86 280.94,799.16 282.2,797.41 283.47,795.79 284.73,794.22 285.99,792.51 287.26,790.7 288.52,788.82 289.79,786.92 291.05,785.04 292.31,783.2 293.58,781.46 294.84,779.84 296.1,778.4 297.37,777.04 298.63,775.7 299.9,774.37 301.16,773.1 302.42,771.88 303.69,770.74 304.95,769.7 306.21,768.78 307.48,768 308.74,767.36 310.01,766.8 311.27,766.25 312.53,765.76 313.8,765.37 315.06,765.11 316.32,765.02 317.59,765.06 318.85,765.18 320.12,765.35 321.38,765.56 322.64,765.81 323.91,766.08 325.17,766.35 326.43,766.62 327.7,766.9 328.96,767.21 330.23,767.55 331.49,767.93 332.75,768.32 334.02,768.74 335.28,769.18 336.54,769.65 337.81,770.13 339.07,770.62 340.33,771.13 341.6,771.66 342.86,772.2 344.13,772.74 345.39,773.27 346.65,773.8 347.92,774.31 349.18,774.82 350.44,775.33 351.71,775.84 352.97,776.36 354.24,776.91 355.5,777.47 356.76,778.06 358.03,778.66 359.29,779.26 360.55,779.87 361.82,780.46 363.08,781.06 364.35,781.66 365.61,782.28 366.87,782.94 368.14,783.63 369.4,784.35 370.66,785.09 371.93,785.86 373.19,786.63 374.46,787.4 375.72,788.16 376.98,788.88 378.25,789.57 379.51,790.23 380.77,790.86 382.04,791.45 383.3,791.99 384.57,792.47 385.83,792.91 387.09,793.29 388.36,793.62 389.62,793.92 390.88,794.2 392.15,794.46 393.41,794.71 394.67,794.97 395.94,795.25 397.2,795.56 398.47,795.9 399.73,796.28 400.99,796.71 402.26,797.17 403.52,797.67 404.78,798.19 406.05,798.74 407.31,799.3 408.58,799.86 409.84,800.42 411.1,800.96 412.37,801.49 413.63,802 414.89,802.48 416.16,802.95 417.42,803.39 418.69,803.81 419.95,804.22 421.21,804.62 422.48,805.01 423.74,805.41 425,805.8 426.27,806.2 427.53,806.61 428.8,807.02 430.06,807.44 431.32,807.85 432.59,808.27 433.85,808.67 435.11,809.06 436.38,809.42 437.64,809.76 438.9,810.07 440.17,810.36 441.43,810.62 442.7,810.88 443.96,811.15 445.22,811.43 446.49,811.73 447.75,812.07 449.01,812.45 450.28,812.88 451.54,813.35 452.81,813.86 454.07,814.42 455.33,814.99 456.6,815.59 457.86,816.19 459.12,816.79 460.39,817.36 461.65,817.9 462.92,818.38 464.18,818.79 465.44,819.13 466.71,819.4 467.97,819.6 469.23,819.73 470.5,819.8 471.76,819.82 473.03,819.83 474.29,819.83 475.55,819.85 476.82,819.9 478.08,820 479.34,820.15 480.61,820.36 481.87,820.64 483.14,820.96 484.4,821.33 485.66,821.74 486.93,822.16 488.19,822.58 489.45,823 490.72,823.41 491.98,823.79 493.24,824.15 494.51,824.49 495.77,824.82 497.04,825.14 498.3,825.47 499.56,825.8 500.83,826.15 502.09,826.53 503.35,826.93 504.62,827.35 505.88,827.79 507.15,828.25 508.41,828.71 509.67,829.17 510.94,829.61 512.2,830.02 513.46,830.39 514.73,830.72 515.99,830.99 517.26,831.22 518.52,831.39 519.78,831.52 521.05,831.61 522.31,831.69 523.57,831.77 524.84,831.86 526.1,831.98 527.37,832.14 528.63,832.35 529.89,832.62 531.16,832.96 532.42,833.36 533.68,833.81 534.95,834.31 536.21,834.85 537.47,835.41 538.74,835.97 540,836.51 541.27,837.04 542.53,837.53 543.79,837.98 545.06,838.38 546.32,838.75 547.58,839.08 548.85,839.37 550.11,839.63 551.38,839.87 552.64,840.09 553.9,840.31 555.17,840.53 556.43,840.74 557.69,840.97 558.96,841.21 560.22,841.46 561.49,841.72 562.75,841.97 564.01,842.21 565.28,842.42 566.54,842.61 567.8,842.75 569.07,842.86 570.33,842.95 571.6,843.01 572.86,843.06 574.12,843.11 575.39,843.17 576.65,843.24 577.91,843.34 579.18,843.47 580.44,843.64 581.71,843.86 582.97,844.12 584.23,844.41 584.23,852.68 270.83,852.68" fill="#d8d8d8" fill-opacity="0.5"/>
<polyline points="270.83,799.77 272.09,801.46 273.36,802.7 274.62,803.46 275.89,803.71 277.15,803.33 278.41,802.31 279.68,800.86 280.94,799.16 282.2,797.41 283.47,795.79 284.73,794.22 285.99,792.51 287.26,790.7 288.52,788.82 289.79,786.92 291.05,785.04 292.31,783.2 293.58,781.46 294.84,779.84 296.1,778.4 297.37,777.04 298.63,775.7 299.9,774.37 301.16,773.1 302.42,771.88 303.69,770.74 304.95,769.7 306.21,768.78 307.48,768 308.74,767.36 310.01,766.8 311.27,766.25 312.53,765.76 313.8,765.37 315.06,765.11 316.32,765.02 317.59,765.06 318.85,765.18 320.12,765.35 321.38,765.56 322.64,765.81 323.91,766.08 325.17,766.35 326.43,766.62 327.7,766.9 328.96,767.21 330.23,767.55 331.49,767.93 332.75,768.32 334.02,768.74 335.28,769.18 336.54,769.65 337.81,770.13 339.07,770.62 340.33,771.13 341.6,771.66 342.86,772.2 344.13,772.74 345.39,773.27 346.65,773.8 347.92,774.31 349.18,774.82 350.44,775.33 351.71,775.84 352.97,776.36 354.24,776.91 355.5,777.47 356.76,778.06 358.03,778.66 359.29,779.26 360.55,779.87 361.82,780.46 363.08,781.06 364.35,781.66 365.61,782.28 366.87,782.94 368.14,783.63 369.4,784.35 370.66,785.09 371.93,785.86 373.19,786.63 374.46,787.4 375.72,788.16 376.98,788.88 378.25,789.57 379.51,790.23 380.77,790.86 382.04,791.45 383.3,791.99 384.57,792.47 385.83,792.91 387.09,793.29 388.36,793.62 389.62,793.92 390.88,794.2 392.15,794.46 393.41,794.71 394.67,794.97 395.94,795.25 397.2,795.56 398.47,795.9 399.73,796.28 400.99,796.71 402.26,797.17 403.52,797.67 404.78,798.19 406.05,798.74 407.31,799.3 408.58,799.86 409.84,800.42 411.1,800.96 412.37,801.49 413.63,802 414.89,802.48 416.16,802.95 417.42,803.39 418.69,803.81 419.95,804.22 421.21,804.62 422.48,805.01 423.74,805.41 425,805.8 426.27,806.2 427.53,806.61 428.8,807.02 430.06,807.44 431.32,807.85 432.59,808.27 433.85,808.67 435.11,809.06 436.38,809.42 437.64,809.76 438.9,810.07 440.17,810.36 441.43,810.62 442.7,810.88 443.96,811.15 445.22,811.43 446.49,811.73 447.75,812.07 449.01,812.45 450.28,812.88 451.54,813.35 452.81,813.86 454.07,814.42 455.33,814.99 456.6,815.59 457.86,816.19 459.12,816.79 460.39,817.36 461.65,817.9 462.92,818.38 464.18,818.79 465.44,819.13 466.71,819.4 467.97,819.6 469.23,819.73 470.5,819.8 471.76,819.82 473.03,819.83 474.29,819.83 475.55,819.85 476.82,819.9 478.08,820 479.34,820.15 480.61,820.36 481.87,820.64 483.14,820.96 484.4,821.33 485.66,821.74 486.93,822.16 488.19,822.58 489.45,823 490.72,823.41 491.98,823.79 493.24,824.15 494.51,824.49 495.77,824.82 497.04,825.14 498.3,825.47 499.56,825.8 500.83,826.15 502.09,826.53 503.35,826.93 504.62,827.35 505.88,827.79 507.15,828.25 508.41,828.71 509.67,829.17 510.94,829.61 512.2,830.02 513.46,830.39 514.73,830.72 515.99,830.99 517.26,831.22 518.52,831.39 519.78,831.52 521.05,831.61 522.31,831.69 523.57,831.77 524.84,831.86 526.1,831.98 527.37,832.14 528.63,832.35 529.89,832.62 531.16,832.96 532.42,833.36 533.68,833.81 534.95,834.31 536.21,834.85 537.47,835.41 538.74,835.97 540,836.51 541.27,837.04 542.53,837.53 543.79,837.98 545.06,838.38 546.32,838.75 547.58,839.08 548.85,839.37 550.11,839.63 551.38,839.87 552.64,840.09 553.9,840.31 555.17,840.53 556.43,840.74 557.69,840.97 558.96,841.21 560.22,841.46 561.49,841.72 562.75,841.97 564.01,842.21 565.28,842.42 566.54,842.61 567.8,842.75 569.07,842.86 570.33,842.95 571.6,843.01 572.86,843.06 574.12,843.11 575.39,843.17 576.65,843.24 577.91,843.34 579.18,843.47 580.44,843.64 581.71,843.86 582.97,844.12 584.23,844.41" fill="none" stroke="#70dc70" stroke-width="3.2" stroke-linejoin="round" stroke-linecap="round" stroke-opacity="0.72"/>
<polygon points="254.13,817.77 255.43,819.51 256.72,820.78 258.02,821.56 259.32,821.82 260.62,821.42 261.91,820.38 263.21,818.89 264.51,817.14 265.8,815.35 267.1,813.69 268.4,812.08 269.69,810.32 270.99,808.46 272.29,806.54 273.59,804.59 274.88,802.65 276.18,800.77 277.48,798.98 278.77,797.32 280.07,795.84 281.37,794.45 282.66,793.06 283.96,791.71 285.26,790.39 286.56,789.15 287.85,787.98 289.15,786.91 290.45,785.97 291.74,785.16 293.04,784.51 294.34,783.93 295.63,783.37 296.93,782.87 298.23,782.46 299.53,782.19 300.82,782.1 302.12,782.15 303.42,782.27 304.71,782.44 306.01,782.66 307.31,782.92 308.6,783.19 309.9,783.47 311.2,783.74 312.5,784.03 313.79,784.35 315.09,784.71 316.39,785.09 317.68,785.5 318.98,785.93 320.28,786.38 321.58,786.87 322.87,787.37 324.17,787.89 325.47,788.44 326.76,789.04 328.06,789.68 329.36,790.36 330.65,791.08 331.95,791.82 333.25,792.57 334.55,793.33 335.84,794.07 337.14,794.78 338.44,795.46 339.73,796.13 341.03,796.79 342.33,797.43 343.62,798.09 344.92,798.76 346.22,799.47 347.52,800.21 348.81,800.99 350.11,801.82 351.41,802.72 352.7,803.69 354,804.69 355.3,805.73 356.59,806.76 357.89,807.77 359.19,808.72 360.49,809.6 361.78,810.38 363.08,811.04 364.38,811.58 365.67,812.03 366.97,812.38 368.27,812.66 369.56,812.89 370.86,813.07 372.16,813.25 373.46,813.43 374.75,813.66 376.05,813.94 377.35,814.28 378.64,814.69 379.94,815.16 381.24,815.7 382.53,816.28 383.83,816.9 385.13,817.54 386.43,818.18 387.72,818.8 389.02,819.39 390.32,819.93 391.61,820.43 392.91,820.87 394.21,821.27 395.5,821.64 396.8,821.98 398.1,822.3 399.4,822.62 400.69,822.95 401.99,823.31 403.29,823.7 404.58,824.12 405.88,824.57 407.18,825.04 408.47,825.53 409.77,826.02 411.07,826.5 412.37,826.96 413.66,827.39 414.96,827.77 416.26,828.11 417.55,828.41 418.85,828.67 420.15,828.89 421.44,829.1 422.74,829.29 424.04,829.48 425.34,829.7 426.63,829.95 427.93,830.24 429.23,830.59 430.52,831 431.82,831.48 433.12,832.02 434.42,832.62 435.71,833.26 437.01,833.93 438.31,834.59 439.6,835.25 440.9,835.87 442.2,836.44 443.49,836.95 444.79,837.38 446.09,837.76 447.39,838.06 448.68,838.3 449.98,838.49 451.28,838.64 452.57,838.75 453.87,838.85 455.17,838.94 456.46,839.04 457.76,839.15 459.06,839.27 460.36,839.43 461.65,839.61 462.95,839.82 464.25,840.05 465.54,840.31 466.84,840.59 468.14,840.87 469.43,841.17 470.73,841.47 472.03,841.77 473.33,842.07 474.62,842.37 475.92,842.66 477.22,842.96 478.51,843.27 479.81,843.6 481.11,843.95 482.4,844.32 483.7,844.73 485,845.16 486.3,845.63 487.59,846.12 488.89,846.62 490.19,847.12 491.48,847.6 492.78,848.06 494.08,848.48 495.37,848.84 496.67,849.15 497.97,849.4 499.27,849.59 500.56,849.73 501.86,849.82 503.16,849.88 504.45,849.93 505.75,849.98 507.05,850.05 508.34,850.16 509.64,850.31 510.94,850.51 512.24,850.78 513.53,851.12 514.83,851.51 516.13,851.95 517.42,852.43 518.72,852.94 520.02,853.46 521.31,853.98 522.61,854.49 523.91,854.97 525.21,855.41 526.5,855.82 527.8,856.19 529.1,856.52 530.39,856.82 531.69,857.1 532.99,857.37 534.29,857.63 535.58,857.91 536.88,858.2 538.18,858.5 539.47,858.82 540.77,859.16 542.07,859.49 543.36,859.83 544.66,860.15 545.96,860.44 547.26,860.69 548.55,860.92 549.85,861.11 551.15,861.26 552.44,861.38 553.74,861.47 555.04,861.53 556.33,861.58 557.63,861.63 558.93,861.68 560.23,861.76 561.52,861.87 562.82,862.04 564.12,862.26 565.41,862.53 566.71,862.86 568.01,863.22 569.3,863.61 570.6,864.01 571.9,864.41 573.2,864.78 574.49,865.12 575.79,865.4 575.79,872.07 254.13,872.07" fill="#d8d8d8" fill-opacity="0.5"/>
<polyline points="254.13,817.77 255.43,819.51 256.72,820.78 258.02,821.56 259.32,821.82 260.62,821.42 261.91,820.38 263.21,818.89 264.51,817.14 265.8,815.35 267.1,813.69 268.4,812.08 269.69,810.32 270.99,808.46 272.29,806.54 273.59,804.59 274.88,802.65 276.18,800.77 277.48,798.98 278.77,797.32 280.07,795.84 281.37,794.45 282.66,793.06 283.96,791.71 285.26,790.39 286.56,789.15 287.85,787.98 289.15,786.91 290.45,785.97 291.74,785.16 293.04,784.51 294.34,783.93 295.63,783.37 296.93,782.87 298.23,782.46 299.53,782.19 300.82,782.1 302.12,782.15 303.42,782.27 304.71,782.44 306.01,782.66 307.31,782.92 308.6,783.19 309.9,783.47 311.2,783.74 312.5,784.03 313.79,784.35 315.09,784.71 316.39,785.09 317.68,785.5 318.98,785.93 320.28,786.38 321.58,786.87 322.87,787.37 324.17,787.89 325.47,788.44 326.76,789.04 328.06,789.68 329.36,790.36 330.65,791.08 331.95,791.82 333.25,792.57 334.55,793.33 335.84,794.07 337.14,794.78 338.44,795.46 339.73,796.13 341.03,796.79 342.33,797.43 343.62,798.09 344.92,798.76 346.22,799.47 347.52,800.21 348.81,800.99 350.11,801.82 351.41,802.72 352.7,803.69 354,804.69 355.3,805.73 356.59,806.76 357.89,807.77 359.19,808.72 360.49,809.6 361.78,810.38 363.08,811.04 364.38,811.58 365.67,812.03 366.97,812.38 368.27,812.66 369.56,812.89 370.86,813.07 372.16,813.25 373.46,813.43 374.75,813.66 376.05,813.94 377.35,814.28 378.64,814.69 379.94,815.16 381.24,815.7 382.53,816.28 383.83,816.9 385.13,817.54 386.43,818.18 387.72,818.8 389.02,819.39 390.32,819.93 391.61,820.43 392.91,820.87 394.21,821.27 395.5,821.64 396.8,821.98 398.1,822.3 399.4,822.62 400.69,822.95 401.99,823.31 403.29,823.7 404.58,824.12 405.88,824.57 407.18,825.04 408.47,825.53 409.77,826.02 411.07,826.5 412.37,826.96 413.66,827.39 414.96,827.77 416.26,828.11 417.55,828.41 418.85,828.67 420.15,828.89 421.44,829.1 422.74,829.29 424.04,829.48 425.34,829.7 426.63,829.95 427.93,830.24 429.23,830.59 430.52,831 431.82,831.48 433.12,832.02 434.42,832.62 435.71,833.26 437.01,833.93 438.31,834.59 439.6,835.25 440.9,835.87 442.2,836.44 443.49,836.95 444.79,837.38 446.09,837.76 447.39,838.06 448.68,838.3 449.98,838.49 451.28,838.64 452.57,838.75 453.87,838.85 455.17,838.94 456.46,839.04 457.76,839.15 459.06,839.27 460.36,839.43 461.65,839.61 462.95,839.82 464.25,840.05 465.54,840.31 466.84,840.59 468.14,840.87 469.43,841.17 470.73,841.47 472.03,841.77 473.33,842.07 474.62,842.37 475.92,842.66 477.22,842.96 478.51,843.27 479.81,843.6 481.11,843.95 482.4,844.32 483.7,844.73 485,845.16 486.3,845.63 487.59,846.12 488.89,846.62 490.19,847.12 491.48,847.6 492.78,848.06 494.08,848.48 495.37,848.84 496.67,849.15 497.97,849.4 499.27,849.59 500.56,849.73 501.86,849.82 503.16,849.88 504.45,849.93 505.75,849.98 507.05,850.05 508.34,850.16 509.64,850.31 510.94,850.51 512.24,850.78 513.53,851.12 514.83,851.51 516.13,851.95 517.42,852.43 518.72,852.94 520.02,853.46 521.31,853.98 522.61,854.49 523.91,854.97 525.21,855.41 526.5,855.82 527.8,856.19 529.1,856.52 530.39,856.82 531.69,857.1 532.99,857.37 534.29,857.63 535.58,857.91 536.88,858.2 538.18,858.5 539.47,858.82 540.77,859.16 542.07,859.49 543.36,859.83 544.66,860.15 545.96,860.44 547.26,860.69 548.55,860.92 549.85,861.11 551.15,861.26 552.44,861.38 553.74,861.47 555.04,861.53 556.33,861.58 557.63,861.63 558.93,861.68 560.23,861.76 561.52,861.87 562.82,862.04 564.12,862.26 565.41,862.53 566.71,862.86 568.01,863.22 569.3,863.61 570.6,864.01 571.9,864.41 573.2,864.78 574.49,865.12 575.79,865.4" fill="none" stroke="#a0e468" stroke-width="3.2" stroke-linejoin="round" stroke-linecap="round" stroke-opacity="0.72"/>
<polygon points="236.53,836.74 237.86,838.53 239.19,839.83 240.52,840.63 241.86,840.91 243.19,840.5 244.52,839.43 245.85,837.89 247.18,836.1 248.52,834.26 249.85,832.56 251.18,830.9 252.51,829.1 253.84,827.19 255.18,825.21 256.51,823.2 257.84,821.22 259.17,819.28 260.5,817.44 261.84,815.74 263.17,814.22 264.5,812.79 265.83,811.37 267.17,809.98 268.5,808.63 269.83,807.35 271.16,806.15 272.49,805.05 273.83,804.08 275.16,803.25 276.49,802.58 277.82,801.99 279.15,801.41 280.49,800.9 281.82,800.48 283.15,800.21 284.48,800.12 285.81,800.16 287.15,800.28 288.48,800.46 289.81,800.69 291.14,800.95 292.48,801.23 293.81,801.52 295.14,801.8 296.47,802.1 297.8,802.43 299.14,802.79 300.47,803.18 301.8,803.6 303.13,804.04 304.46,804.51 305.8,804.99 307.13,805.5 308.46,806.03 309.79,806.6 311.12,807.22 312.46,807.87 313.79,808.55 315.12,809.23 316.45,809.91 317.79,810.58 319.12,811.24 320.45,811.89 321.78,812.52 323.11,813.17 324.45,813.86 325.78,814.6 327.11,815.4 328.44,816.26 329.77,817.17 331.11,818.12 332.44,819.09 333.77,820.06 335.1,821.04 336.43,822.01 337.77,822.96 339.1,823.88 340.43,824.74 341.76,825.53 343.1,826.24 344.43,826.86 345.76,827.4 347.09,827.86 348.42,828.23 349.76,828.56 351.09,828.87 352.42,829.17 353.75,829.5 355.08,829.85 356.42,830.25 357.75,830.7 359.08,831.2 360.41,831.75 361.74,832.35 363.08,832.98 364.41,833.63 365.74,834.28 367.07,834.92 368.41,835.54 369.74,836.12 371.07,836.67 372.4,837.17 373.73,837.64 375.07,838.07 376.4,838.47 377.73,838.85 379.06,839.23 380.39,839.61 381.73,840.01 383.06,840.42 384.39,840.85 385.72,841.3 387.05,841.77 388.39,842.24 389.72,842.72 391.05,843.18 392.38,843.62 393.72,844.03 395.05,844.39 396.38,844.71 397.71,844.99 399.04,845.23 400.38,845.44 401.71,845.64 403.04,845.83 404.37,846.05 405.7,846.31 407.04,846.62 408.37,846.99 409.7,847.42 411.03,847.92 412.36,848.47 413.7,849.08 415.03,849.72 416.36,850.39 417.69,851.07 419.03,851.74 420.36,852.39 421.69,853 423.02,853.55 424.35,854.06 425.69,854.49 427.02,854.87 428.35,855.19 429.68,855.46 431.01,855.68 432.35,855.89 433.68,856.08 435.01,856.29 436.34,856.5 437.68,856.73 439.01,856.98 440.34,857.25 441.67,857.53 443,857.82 444.34,858.11 445.67,858.38 447,858.64 448.33,858.86 449.66,859.07 451,859.25 452.33,859.42 453.66,859.58 454.99,859.74 456.32,859.93 457.66,860.15 458.99,860.41 460.32,860.72 461.65,861.08 462.99,861.5 464.32,861.97 465.65,862.48 466.98,863.02 468.31,863.58 469.65,864.15 470.98,864.7 472.31,865.23 473.64,865.72 474.97,866.15 476.31,866.53 477.64,866.85 478.97,867.09 480.3,867.28 481.63,867.41 482.97,867.5 484.3,867.57 485.63,867.62 486.96,867.68 488.3,867.77 489.63,867.9 490.96,868.07 492.29,868.3 493.62,868.59 494.96,868.94 496.29,869.34 497.62,869.79 498.95,870.26 500.28,870.75 501.62,871.25 502.95,871.74 504.28,872.21 505.61,872.66 506.94,873.07 508.28,873.46 509.61,873.82 510.94,874.15 512.27,874.47 513.61,874.79 514.94,875.1 516.27,875.42 517.6,875.76 518.93,876.11 520.27,876.48 521.6,876.86 522.93,877.25 524.26,877.64 525.59,878.02 526.93,878.4 528.26,878.74 529.59,879.05 530.92,879.32 532.25,879.54 533.59,879.72 534.92,879.85 536.25,879.94 537.58,880 538.92,880.06 540.25,880.14 541.58,880.24 542.91,880.38 544.24,880.57 545.58,880.81 546.91,881.11 548.24,881.45 549.57,881.84 550.9,882.26 552.24,882.7 553.57,883.15 554.9,883.6 556.23,884.02 557.56,884.39 558.9,884.72 560.23,884.98 561.56,885.17 562.89,885.3 564.23,885.36 565.56,885.37 566.89,885.33 566.89,892.52 236.53,892.52" fill="#d8d8d8" fill-opacity="0.5"/>
<polyline points="236.53,836.74 237.86,838.53 239.19,839.83 240.52,840.63 241.86,840.91 243.19,840.5 244.52,839.43 245.85,837.89 247.18,836.1 248.52,834.26 249.85,832.56 251.18,830.9 252.51,829.1 253.84,827.19 255.18,825.21 256.51,823.2 257.84,821.22 259.17,819.28 260.5,817.44 261.84,815.74 263.17,814.22 264.5,812.79 265.83,811.37 267.17,809.98 268.5,808.63 269.83,807.35 271.16,806.15 272.49,805.05 273.83,804.08 275.16,803.25 276.49,802.58 277.82,801.99 279.15,801.41 280.49,800.9 281.82,800.48 283.15,800.21 284.48,800.12 285.81,800.16 287.15,800.28 288.48,800.46 289.81,800.69 291.14,800.95 292.48,801.23 293.81,801.52 295.14,801.8 296.47,802.1 297.8,802.43 299.14,802.79 300.47,803.18 301.8,803.6 303.13,804.04 304.46,804.51 305.8,804.99 307.13,805.5 308.46,806.03 309.79,806.6 311.12,807.22 312.46,807.87 313.79,808.55 315.12,809.23 316.45,809.91 317.79,810.58 319.12,811.24 320.45,811.89 321.78,812.52 323.11,813.17 324.45,813.86 325.78,814.6 327.11,815.4 328.44,816.26 329.77,817.17 331.11,818.12 332.44,819.09 333.77,820.06 335.1,821.04 336.43,822.01 337.77,822.96 339.1,823.88 340.43,824.74 341.76,825.53 343.1,826.24 344.43,826.86 345.76,827.4 347.09,827.86 348.42,828.23 349.76,828.56 351.09,828.87 352.42,829.17 353.75,829.5 355.08,829.85 356.42,830.25 357.75,830.7 359.08,831.2 360.41,831.75 361.74,832.35 363.08,832.98 364.41,833.63 365.74,834.28 367.07,834.92 368.41,835.54 369.74,836.12 371.07,836.67 372.4,837.17 373.73,837.64 375.07,838.07 376.4,838.47 377.73,838.85 379.06,839.23 380.39,839.61 381.73,840.01 383.06,840.42 384.39,840.85 385.72,841.3 387.05,841.77 388.39,842.24 389.72,842.72 391.05,843.18 392.38,843.62 393.72,844.03 395.05,844.39 396.38,844.71 397.71,844.99 399.04,845.23 400.38,845.44 401.71,845.64 403.04,845.83 404.37,846.05 405.7,846.31 407.04,846.62 408.37,846.99 409.7,847.42 411.03,847.92 412.36,848.47 413.7,849.08 415.03,849.72 416.36,850.39 417.69,851.07 419.03,851.74 420.36,852.39 421.69,853 423.02,853.55 424.35,854.06 425.69,854.49 427.02,854.87 428.35,855.19 429.68,855.46 431.01,855.68 432.35,855.89 433.68,856.08 435.01,856.29 436.34,856.5 437.68,856.73 439.01,856.98 440.34,857.25 441.67,857.53 443,857.82 444.34,858.11 445.67,858.38 447,858.64 448.33,858.86 449.66,859.07 451,859.25 452.33,859.42 453.66,859.58 454.99,859.74 456.32,859.93 457.66,860.15 458.99,860.41 460.32,860.72 461.65,861.08 462.99,861.5 464.32,861.97 465.65,862.48 466.98,863.02 468.31,863.58 469.65,864.15 470.98,864.7 472.31,865.23 473.64,865.72 474.97,866.15 476.31,866.53 477.64,866.85 478.97,867.09 480.3,867.28 481.63,867.41 482.97,867.5 484.3,867.57 485.63,867.62 486.96,867.68 488.3,867.77 489.63,867.9 490.96,868.07 492.29,868.3 493.62,868.59 494.96,868.94 496.29,869.34 497.62,869.79 498.95,870.26 500.28,870.75 501.62,871.25 502.95,871.74 504.28,872.21 505.61,872.66 506.94,873.07 508.28,873.46 509.61,873.82 510.94,874.15 512.27,874.47 513.61,874.79 514.94,875.1 516.27,875.42 517.6,875.76 518.93,876.11 520.27,876.48 521.6,876.86 522.93,877.25 524.26,877.64 525.59,878.02 526.93,878.4 528.26,878.74 529.59,879.05 530.92,879.32 532.25,879.54 533.59,879.72 534.92,879.85 536.25,879.94 537.58,880 538.92,880.06 540.25,880.14 541.58,880.24 542.91,880.38 544.24,880.57 545.58,880.81 546.91,881.11 548.24,881.45 549.57,881.84 550.9,882.26 552.24,882.7 553.57,883.15 554.9,883.6 556.23,884.02 557.56,884.39 558.9,884.72 560.23,884.98 561.56,885.17 562.89,885.3 564.23,885.36 565.56,885.37 566.89,885.33" fill="none" stroke="#c8ec68" stroke-width="3.2" stroke-linejoin="round" stroke-linecap="round" stroke-opacity="0.72"/>
<polygon points="217.94,856.77 219.31,858.61 220.68,859.95 222.05,860.77 223.42,861.05 224.79,860.63 226.16,859.53 227.53,857.96 228.9,856.12 230.27,854.22 231.64,852.47 233,850.77 234.37,848.92 235.74,846.95 237.11,844.92 238.48,842.86 239.85,840.81 241.22,838.83 242.59,836.94 243.96,835.19 245.33,833.63 246.7,832.16 248.07,830.7 249.43,829.26 250.8,827.88 252.17,826.56 253.54,825.33 254.91,824.2 256.28,823.21 257.65,822.35 259.02,821.67 260.39,821.05 261.76,820.46 263.13,819.93 264.5,819.5 265.86,819.22 267.23,819.13 268.6,819.18 269.97,819.3 271.34,819.48 272.71,819.72 274.08,819.99 275.45,820.27 276.82,820.57 278.19,820.86 279.56,821.16 280.93,821.5 282.29,821.87 283.66,822.28 285.03,822.71 286.4,823.16 287.77,823.64 289.14,824.14 290.51,824.65 291.88,825.16 293.25,825.7 294.62,826.28 295.99,826.89 297.35,827.53 298.72,828.2 300.09,828.92 301.46,829.69 302.83,830.5 304.2,831.37 305.57,832.27 306.94,833.21 308.31,834.19 309.68,835.18 311.05,836.16 312.42,837.1 313.78,837.99 315.15,838.81 316.52,839.57 317.89,840.28 319.26,840.93 320.63,841.56 322,842.18 323.37,842.79 324.74,843.41 326.11,844.02 327.48,844.64 328.85,845.26 330.21,845.89 331.58,846.51 332.95,847.12 334.32,847.72 335.69,848.32 337.06,848.92 338.43,849.51 339.8,850.1 341.17,850.67 342.54,851.22 343.91,851.76 345.28,852.29 346.64,852.81 348.01,853.34 349.38,853.86 350.75,854.39 352.12,854.92 353.49,855.46 354.86,856.01 356.23,856.57 357.6,857.14 358.97,857.72 360.34,858.29 361.71,858.85 363.07,859.39 364.44,859.9 365.81,860.37 367.18,860.81 368.55,861.2 369.92,861.54 371.29,861.83 372.66,862.09 374.03,862.31 375.4,862.52 376.77,862.71 378.14,862.9 379.5,863.11 380.87,863.34 382.24,863.61 383.61,863.92 384.98,864.29 386.35,864.72 387.72,865.2 389.09,865.74 390.46,866.33 391.83,866.96 393.2,867.62 394.56,868.29 395.93,868.96 397.3,869.6 398.67,870.22 400.04,870.8 401.41,871.33 402.78,871.81 404.15,872.24 405.52,872.64 406.89,873 408.26,873.35 409.63,873.67 410.99,874 412.36,874.32 413.73,874.66 415.1,875 416.47,875.34 417.84,875.69 419.21,876.05 420.58,876.41 421.95,876.77 423.32,877.11 424.69,877.42 426.06,877.71 427.42,877.97 428.79,878.19 430.16,878.38 431.53,878.55 432.9,878.69 434.27,878.82 435.64,878.95 437.01,879.11 438.38,879.3 439.75,879.55 441.12,879.85 442.49,880.21 443.85,880.64 445.22,881.14 446.59,881.68 447.96,882.26 449.33,882.86 450.7,883.45 452.07,884.01 453.44,884.53 454.81,885 456.18,885.39 457.55,885.72 458.92,885.97 460.28,886.15 461.65,886.29 463.02,886.39 464.39,886.47 465.76,886.54 467.13,886.63 468.5,886.75 469.87,886.9 471.24,887.11 472.61,887.36 473.98,887.67 475.35,888.03 476.71,888.43 478.08,888.86 479.45,889.32 480.82,889.77 482.19,890.23 483.56,890.67 484.93,891.1 486.3,891.5 487.67,891.88 489.04,892.24 490.41,892.59 491.78,892.93 493.14,893.27 494.51,893.61 495.88,893.98 497.25,894.36 498.62,894.77 499.99,895.19 501.36,895.64 502.73,896.09 504.1,896.54 505.47,896.98 506.84,897.4 508.2,897.78 509.57,898.12 510.94,898.41 512.31,898.64 513.68,898.83 515.05,898.98 516.42,899.1 517.79,899.2 519.16,899.29 520.53,899.39 521.9,899.51 523.27,899.67 524.63,899.86 526,900.11 527.37,900.41 528.74,900.77 530.11,901.19 531.48,901.66 532.85,902.16 534.22,902.68 535.59,903.2 536.96,903.69 538.33,904.15 539.7,904.56 541.06,904.9 542.43,905.18 543.8,905.4 545.17,905.57 546.54,905.68 547.91,905.75 549.28,905.79 550.65,905.81 552.02,905.82 553.39,905.83 554.76,905.86 556.13,905.89 557.49,905.94 557.49,914.1 217.94,914.1" fill="#d8d8d8" fill-opacity="0.5"/>
<polyline points="217.94,856.77 219.31,858.61 220.68,859.95 222.05,860.77 223.42,861.05 224.79,860.63 226.16,859.53 227.53,857.96 228.9,856.12 230.27,854.22 231.64,852.47 233,850.77 234.37,848.92 235.74,846.95 237.11,844.92 238.48,842.86 239.85,840.81 241.22,838.83 242.59,836.94 243.96,835.19 245.33,833.63 246.7,832.16 248.07,830.7 249.43,829.26 250.8,827.88 252.17,826.56 253.54,825.33 254.91,824.2 256.28,823.21 257.65,822.35 259.02,821.67 260.39,821.05 261.76,820.46 263.13,819.93 264.5,819.5 265.86,819.22 267.23,819.13 268.6,819.18 269.97,819.3 271.34,819.48 272.71,819.72 274.08,819.99 275.45,820.27 276.82,820.57 278.19,820.86 279.56,821.16 280.93,821.5 282.29,821.87 283.66,822.28 285.03,822.71 286.4,823.16 287.77,823.64 289.14,824.14 290.51,824.65 291.88,825.16 293.25,825.7 294.62,826.28 295.99,826.89 297.35,827.53 298.72,828.2 300.09,828.92 301.46,829.69 302.83,830.5 304.2,831.37 305.57,832.27 306.94,833.21 308.31,834.19 309.68,835.18 311.05,836.16 312.42,837.1 313.78,837.99 315.15,838.81 316.52,839.57 317.89,840.28 319.26,840.93 320.63,841.56 322,842.18 323.37,842.79 324.74,843.41 326.11,844.02 327.48,844.64 328.85,845.26 330.21,845.89 331.58,846.51 332.95,847.12 334.32,847.72 335.69,848.32 337.06,848.92 338.43,849.51 339.8,850.1 341.17,850.67 342.54,851.22 343.91,851.76 345.28,852.29 346.64,852.81 348.01,853.34 349.38,853.86 350.75,854.39 352.12,854.92 353.49,855.46 354.86,856.01 356.23,856.57 357.6,857.14 358.97,857.72 360.34,858.29 361.71,858.85 363.07,859.39 364.44,859.9 365.81,860.37 367.18,860.81 368.55,861.2 369.92,861.54 371.29,861.83 372.66,862.09 374.03,862.31 375.4,862.52 376.77,862.71 378.14,862.9 379.5,863.11 380.87,863.34 382.24,863.61 383.61,863.92 384.98,864.29 386.35,864.72 387.72,865.2 389.09,865.74 390.46,866.33 391.83,866.96 393.2,867.62 394.56,868.29 395.93,868.96 397.3,869.6 398.67,870.22 400.04,870.8 401.41,871.33 402.78,871.81 404.15,872.24 405.52,872.64 406.89,873 408.26,873.35 409.63,873.67 410.99,874 412.36,874.32 413.73,874.66 415.1,875 416.47,875.34 417.84,875.69 419.21,876.05 420.58,876.41 421.95,876.77 423.32,877.11 424.69,877.42 426.06,877.71 427.42,877.97 428.79,878.19 430.16,878.38 431.53,878.55 432.9,878.69 434.27,878.82 435.64,878.95 437.01,879.11 438.38,879.3 439.75,879.55 441.12,879.85 442.49,880.21 443.85,880.64 445.22,881.14 446.59,881.68 447.96,882.26 449.33,882.86 450.7,883.45 452.07,884.01 453.44,884.53 454.81,885 456.18,885.39 457.55,885.72 458.92,885.97 460.28,886.15 461.65,886.29 463.02,886.39 464.39,886.47 465.76,886.54 467.13,886.63 468.5,886.75 469.87,886.9 471.24,887.11 472.61,887.36 473.98,887.67 475.35,888.03 476.71,888.43 478.08,888.86 479.45,889.32 480.82,889.77 482.19,890.23 483.56,890.67 484.93,891.1 486.3,891.5 487.67,891.88 489.04,892.24 490.41,892.59 491.78,892.93 493.14,893.27 494.51,893.61 495.88,893.98 497.25,894.36 498.62,894.77 499.99,895.19 501.36,895.64 502.73,896.09 504.1,896.54 505.47,896.98 506.84,897.4 508.2,897.78 509.57,898.12 510.94,898.41 512.31,898.64 513.68,898.83 515.05,898.98 516.42,899.1 517.79,899.2 519.16,899.29 520.53,899.39 521.9,899.51 523.27,899.67 524.63,899.86 526,900.11 527.37,900.41 528.74,900.77 530.11,901.19 531.48,901.66 532.85,902.16 534.22,902.68 535.59,903.2 536.96,903.69 538.33,904.15 539.7,904.56 541.06,904.9 542.43,905.18 543.8,905.4 545.17,905.57 546.54,905.68 547.91,905.75 549.28,905.79 550.65,905.81 552.02,905.82 553.39,905.83 554.76,905.86 556.13,905.89 557.49,905.94" fill="none" stroke="#ecec60" stroke-width="3.2" stroke-linejoin="round" stroke-linecap="round" stroke-opacity="0.72"/>
<polygon points="198.3,877.95 199.71,879.84 201.11,881.22 202.52,882.07 203.93,882.35 205.34,881.92 206.75,880.79 208.16,879.17 209.56,877.27 210.97,875.32 212.38,873.52 213.79,871.78 215.2,869.87 216.61,867.85 218.01,865.76 219.42,863.64 220.83,861.54 222.24,859.49 223.65,857.55 225.06,855.75 226.46,854.14 227.87,852.63 229.28,851.13 230.69,849.65 232.1,848.23 233.51,846.87 234.91,845.61 236.32,844.45 237.73,843.42 239.14,842.55 240.55,841.84 241.96,841.21 243.36,840.6 244.77,840.05 246.18,839.61 247.59,839.33 249,839.23 250.41,839.28 251.81,839.4 253.22,839.59 254.63,839.83 256.04,840.11 257.45,840.41 258.86,840.71 260.26,841.01 261.67,841.32 263.08,841.67 264.49,842.05 265.9,842.47 267.31,842.91 268.71,843.38 270.12,843.86 271.53,844.34 272.94,844.82 274.35,845.31 275.76,845.85 277.16,846.46 278.57,847.15 279.98,847.91 281.39,848.75 282.8,849.64 284.21,850.58 285.61,851.53 287.02,852.47 288.43,853.36 289.84,854.19 291.25,854.95 292.66,855.65 294.06,856.26 295.47,856.82 296.88,857.33 298.29,857.82 299.7,858.32 301.11,858.85 302.51,859.41 303.92,860.03 305.33,860.73 306.74,861.5 308.15,862.31 309.56,863.16 310.96,864.02 312.37,864.87 313.78,865.69 315.19,866.45 316.6,867.14 318.01,867.77 319.41,868.34 320.82,868.87 322.23,869.37 323.64,869.85 325.05,870.31 326.46,870.79 327.86,871.3 329.27,871.84 330.68,872.44 332.09,873.08 333.5,873.77 334.91,874.5 336.31,875.25 337.72,876 339.13,876.73 340.54,877.44 341.95,878.09 343.36,878.67 344.76,879.17 346.17,879.57 347.58,879.89 348.99,880.12 350.4,880.29 351.81,880.41 353.21,880.5 354.62,880.59 356.03,880.7 357.44,880.85 358.85,881.06 360.25,881.36 361.66,881.73 363.07,882.19 364.48,882.73 365.89,883.34 367.3,884 368.7,884.69 370.11,885.4 371.52,886.11 372.93,886.8 374.34,887.46 375.75,888.08 377.15,888.65 378.56,889.18 379.97,889.66 381.38,890.11 382.79,890.52 384.2,890.91 385.6,891.28 387.01,891.66 388.42,892.05 389.83,892.45 391.24,892.87 392.65,893.32 394.05,893.79 395.46,894.26 396.87,894.74 398.28,895.2 399.69,895.64 401.1,896.04 402.5,896.39 403.91,896.7 405.32,896.97 406.73,897.2 408.14,897.39 409.55,897.57 410.95,897.75 412.36,897.92 413.77,898.12 415.18,898.35 416.59,898.62 418,898.94 419.4,899.31 420.81,899.72 422.22,900.18 423.63,900.67 425.04,901.19 426.45,901.72 427.85,902.26 429.26,902.78 430.67,903.29 432.08,903.75 433.49,904.18 434.9,904.55 436.3,904.87 437.71,905.13 439.12,905.35 440.53,905.52 441.94,905.67 443.35,905.8 444.75,905.92 446.16,906.06 447.57,906.23 448.98,906.43 450.39,906.68 451.8,906.98 453.2,907.31 454.61,907.69 456.02,908.09 457.43,908.51 458.84,908.93 460.25,909.35 461.65,909.77 463.06,910.16 464.47,910.54 465.88,910.9 467.29,911.25 468.7,911.59 470.1,911.93 471.51,912.29 472.92,912.66 474.33,913.05 475.74,913.48 477.15,913.93 478.55,914.42 479.96,914.92 481.37,915.45 482.78,915.97 484.19,916.49 485.6,916.98 487,917.44 488.41,917.84 489.82,918.19 491.23,918.48 492.64,918.71 494.05,918.88 495.45,919.01 496.86,919.09 498.27,919.16 499.68,919.23 501.09,919.32 502.5,919.44 503.9,919.61 505.31,919.86 506.72,920.17 508.13,920.55 509.54,921 510.95,921.5 512.35,922.05 513.76,922.61 515.17,923.18 516.58,923.73 517.99,924.26 519.4,924.76 520.8,925.22 522.21,925.62 523.62,925.97 525.03,926.25 526.44,926.49 527.85,926.68 529.25,926.82 530.66,926.94 532.07,927.05 533.48,927.16 534.89,927.29 536.3,927.42 537.7,927.57 539.11,927.73 540.52,927.89 541.93,928.05 543.34,928.2 544.75,928.33 546.15,928.43 547.56,928.49 547.56,936.92 198.3,936.92" fill="#d8d8d8" fill-opacity="0.5"/>
<polyline points="198.3,877.95 199.71,879.84 201.11,881.22 202.52,882.07 203.93,882.35 205.34,881.92 206.75,880.79 208.16,879.17 209.56,877.27 210.97,875.32 212.38,873.52 213.79,871.78 215.2,869.87 216.61,867.85 218.01,865.76 219.42,863.64 220.83,861.54 222.24,859.49 223.65,857.55 225.06,855.75 226.46,854.14 227.87,852.63 229.28,851.13 230.69,849.65 232.1,848.23 233.51,846.87 234.91,845.61 236.32,844.45 237.73,843.42 239.14,842.55 240.55,841.84 241.96,841.21 243.36,840.6 244.77,840.05 246.18,839.61 247.59,839.33 249,839.23 250.41,839.28 251.81,839.4 253.22,839.59 254.63,839.83 256.04,840.11 257.45,840.41 258.86,840.71 260.26,841.01 261.67,841.32 263.08,841.67 264.49,842.05 265.9,842.47 267.31,842.91 268.71,843.38 270.12,843.86 271.53,844.34 272.94,844.82 274.35,845.31 275.76,845.85 277.16,846.46 278.57,847.15 279.98,847.91 281.39,848.75 282.8,849.64 284.21,850.58 285.61,851.53 287.02,852.47 288.43,853.36 289.84,854.19 291.25,854.95 292.66,855.65 294.06,856.26 295.47,856.82 296.88,857.33 298.29,857.82 299.7,858.32 301.11,858.85 302.51,859.41 303.92,860.03 305.33,860.73 306.74,861.5 308.15,862.31 309.56,863.16 310.96,864.02 312.37,864.87 313.78,865.69 315.19,866.45 316.6,867.14 318.01,867.77 319.41,868.34 320.82,868.87 322.23,869.37 323.64,869.85 325.05,870.31 326.46,870.79 327.86,871.3 329.27,871.84 330.68,872.44 332.09,873.08 333.5,873.77 334.91,874.5 336.31,875.25 337.72,876 339.13,876.73 340.54,877.44 341.95,878.09 343.36,878.67 344.76,879.17 346.17,879.57 347.58,879.89 348.99,880.12 350.4,880.29 351.81,880.41 353.21,880.5 354.62,880.59 356.03,880.7 357.44,880.85 358.85,881.06 360.25,881.36 361.66,881.73 363.07,882.19 364.48,882.73 365.89,883.34 367.3,884 368.7,884.69 370.11,885.4 371.52,886.11 372.93,886.8 374.34,887.46 375.75,888.08 377.15,888.65 378.56,889.18 379.97,889.66 381.38,890.11 382.79,890.52 384.2,890.91 385.6,891.28 387.01,891.66 388.42,892.05 389.83,892.45 391.24,892.87 392.65,893.32 394.05,893.79 395.46,894.26 396.87,894.74 398.28,895.2 399.69,895.64 401.1,896.04 402.5,896.39 403.91,896.7 405.32,896.97 406.73,897.2 408.14,897.39 409.55,897.57 410.95,897.75 412.36,897.92 413.77,898.12 415.18,898.35 416.59,898.62 418,898.94 419.4,899.31 420.81,899.72 422.22,900.18 423.63,900.67 425.04,901.19 426.45,901.72 427.85,902.26 429.26,902.78 430.67,903.29 432.08,903.75 433.49,904.18 434.9,904.55 436.3,904.87 437.71,905.13 439.12,905.35 440.53,905.52 441.94,905.67 443.35,905.8 444.75,905.92 446.16,906.06 447.57,906.23 448.98,906.43 450.39,906.68 451.8,906.98 453.2,907.31 454.61,907.69 456.02,908.09 457.43,908.51 458.84,908.93 460.25,909.35 461.65,909.77 463.06,910.16 464.47,910.54 465.88,910.9 467.29,911.25 468.7,911.59 470.1,911.93 471.51,912.29 472.92,912.66 474.33,913.05 475.74,913.48 477.15,913.93 478.55,914.42 479.96,914.92 481.37,915.45 482.78,915.97 484.19,916.49 485.6,916.98 487,917.44 488.41,917.84 489.82,918.19 491.23,918.48 492.64,918.71 494.05,918.88 495.45,919.01 496.86,919.09 498.27,919.16 499.68,919.23 501.09,919.32 502.5,919.44 503.9,919.61 505.31,919.86 506.72,920.17 508.13,920.55 509.54,921 510.95,921.5 512.35,922.05 513.76,922.61 515.17,923.18 516.58,923.73 517.99,924.26 519.4,924.76 520.8,925.22 522.21,925.62 523.62,925.97 525.03,926.25 526.44,926.49 527.85,926.68 529.25,926.82 530.66,926.94 532.07,927.05 533.48,927.16 534.89,927.29 536.3,927.42 537.7,927.57 539.11,927.73 540.52,927.89 541.93,928.05 543.34,928.2 544.75,928.33 546.15,928.43 547.56,928.49" fill="none" stroke="#f4b070" stroke-width="3.2" stroke-linejoin="round" stroke-linecap="round" stroke-opacity="0.72"/>
<polygon points="177.49,900.38 178.94,902.32 180.39,903.74 181.84,904.61 183.29,904.91 184.74,904.46 186.19,903.3 187.64,901.63 189.09,899.68 190.54,897.67 191.99,895.82 193.44,894.02 194.89,892.06 196.34,889.98 197.79,887.82 199.24,885.64 200.69,883.48 202.14,881.37 203.59,879.37 205.04,877.52 206.49,875.86 207.94,874.31 209.39,872.76 210.84,871.24 212.29,869.78 213.74,868.38 215.19,867.08 216.64,865.89 218.09,864.83 219.54,863.93 220.99,863.2 222.44,862.55 223.89,861.92 225.34,861.36 226.79,860.91 228.24,860.61 229.69,860.51 231.14,860.56 232.59,860.69 234.04,860.89 235.49,861.14 236.94,861.42 238.39,861.73 239.84,862.04 241.29,862.34 242.74,862.67 244.19,863.03 245.64,863.42 247.08,863.85 248.53,864.3 249.98,864.78 251.43,865.28 252.88,865.79 254.33,866.33 255.78,866.89 257.23,867.53 258.68,868.24 260.13,869.02 261.58,869.84 263.03,870.68 264.48,871.51 265.93,872.32 267.38,873.08 268.83,873.77 270.28,874.41 271.73,874.99 273.18,875.55 274.63,876.1 276.08,876.66 277.53,877.25 278.98,877.87 280.43,878.52 281.88,879.22 283.33,879.94 284.78,880.69 286.23,881.47 287.68,882.28 289.13,883.11 290.58,883.93 292.03,884.73 293.48,885.5 294.93,886.24 296.38,886.95 297.83,887.61 299.28,888.23 300.73,888.82 302.18,889.43 303.63,890.05 305.08,890.69 306.53,891.37 307.98,892.09 309.43,892.83 310.88,893.59 312.33,894.37 313.78,895.14 315.23,895.91 316.68,896.63 318.13,897.31 319.57,897.91 321.02,898.44 322.47,898.9 323.92,899.27 325.37,899.57 326.82,899.81 328.27,900 329.72,900.16 331.17,900.31 332.62,900.47 334.07,900.66 335.52,900.9 336.97,901.21 338.42,901.59 339.87,902.04 341.32,902.56 342.77,903.14 344.22,903.78 345.67,904.45 347.12,905.14 348.57,905.83 350.02,906.5 351.47,907.15 352.92,907.76 354.37,908.32 355.82,908.85 357.27,909.34 358.72,909.81 360.17,910.26 361.62,910.71 363.07,911.16 364.52,911.63 365.97,912.12 367.42,912.62 368.87,913.13 370.32,913.65 371.77,914.16 373.22,914.67 374.67,915.15 376.12,915.61 377.57,916.03 379.02,916.42 380.47,916.75 381.92,917.05 383.37,917.31 384.82,917.53 386.27,917.74 387.72,917.94 389.17,918.15 390.61,918.39 392.06,918.67 393.51,919.02 394.96,919.42 396.41,919.89 397.86,920.41 399.31,920.98 400.76,921.59 402.21,922.21 403.66,922.82 405.11,923.41 406.56,923.95 408.01,924.43 409.46,924.85 410.91,925.21 412.36,925.5 413.81,925.72 415.26,925.91 416.71,926.06 418.16,926.19 419.61,926.32 421.06,926.47 422.51,926.64 423.96,926.84 425.41,927.07 426.86,927.35 428.31,927.66 429.76,928.01 431.21,928.38 432.66,928.76 434.11,929.15 435.56,929.54 437.01,929.93 438.46,930.31 439.91,930.66 441.36,931.01 442.81,931.33 444.26,931.65 445.71,931.96 447.16,932.28 448.61,932.62 450.06,932.99 451.51,933.39 452.96,933.83 454.41,934.32 455.86,934.84 457.31,935.4 458.76,935.98 460.21,936.57 461.65,937.16 463.1,937.73 464.55,938.27 466,938.75 467.45,939.17 468.9,939.53 470.35,939.82 471.8,940.04 473.25,940.2 474.7,940.31 476.15,940.39 477.6,940.46 479.05,940.53 480.5,940.63 481.95,940.77 483.4,940.96 484.85,941.21 486.3,941.53 487.75,941.92 489.2,942.37 490.65,942.87 492.1,943.42 493.55,944.01 495,944.6 496.45,945.19 497.9,945.77 499.35,946.3 500.8,946.79 502.25,947.23 503.7,947.62 505.15,947.95 506.6,948.25 508.05,948.53 509.5,948.79 510.95,949.05 512.4,949.3 513.85,949.56 515.3,949.82 516.75,950.09 518.2,950.35 519.65,950.6 521.1,950.84 522.55,951.07 524,951.27 525.45,951.43 526.9,951.56 528.35,951.64 529.8,951.67 531.25,951.66 532.7,951.61 534.14,951.54 535.59,951.47 537.04,951.39 537.04,961.08 177.49,961.08" fill="#d8d8d8" fill-opacity="0.5"/>
<polyline points="177.49,900.38 178.94,902.32 180.39,903.74 181.84,904.61 183.29,904.91 184.74,904.46 186.19,903.3 187.64,901.63 189.09,899.68 190.54,897.67 191.99,895.82 193.44,894.02 194.89,892.06 196.34,889.98 197.79,887.82 199.24,885.64 200.69,883.48 202.14,881.37 203.59,879.37 205.04,877.52 206.49,875.86 207.94,874.31 209.39,872.76 210.84,871.24 212.29,869.78 213.74,868.38 215.19,867.08 216.64,865.89 218.09,864.83 219.54,863.93 220.99,863.2 222.44,862.55 223.89,861.92 225.34,861.36 226.79,860.91 228.24,860.61 229.69,860.51 231.14,860.56 232.59,860.69 234.04,860.89 235.49,861.14 236.94,861.42 238.39,861.73 239.84,862.04 241.29,862.34 242.74,862.67 244.19,863.03 245.64,863.42 247.08,863.85 248.53,864.3 249.98,864.78 251.43,865.28 252.88,865.79 254.33,866.33 255.78,866.89 257.23,867.53 258.68,868.24 260.13,869.02 261.58,869.84 263.03,870.68 264.48,871.51 265.93,872.32 267.38,873.08 268.83,873.77 270.28,874.41 271.73,874.99 273.18,875.55 274.63,876.1 276.08,876.66 277.53,877.25 278.98,877.87 280.43,878.52 281.88,879.22 283.33,879.94 284.78,880.69 286.23,881.47 287.68,882.28 289.13,883.11 290.58,883.93 292.03,884.73 293.48,885.5 294.93,886.24 296.38,886.95 297.83,887.61 299.28,888.23 300.73,888.82 302.18,889.43 303.63,890.05 305.08,890.69 306.53,891.37 307.98,892.09 309.43,892.83 310.88,893.59 312.33,894.37 313.78,895.14 315.23,895.91 316.68,896.63 318.13,897.31 319.57,897.91 321.02,898.44 322.47,898.9 323.92,899.27 325.37,899.57 326.82,899.81 328.27,900 329.72,900.16 331.17,900.31 332.62,900.47 334.07,900.66 335.52,900.9 336.97,901.21 338.42,901.59 339.87,902.04 341.32,902.56 342.77,903.14 344.22,903.78 345.67,904.45 347.12,905.14 348.57,905.83 350.02,906.5 351.47,907.15 352.92,907.76 354.37,908.32 355.82,908.85 357.27,909.34 358.72,909.81 360.17,910.26 361.62,910.71 363.07,911.16 364.52,911.63 365.97,912.12 367.42,912.62 368.87,913.13 370.32,913.65 371.77,914.16 373.22,914.67 374.67,915.15 376.12,915.61 377.57,916.03 379.02,916.42 380.47,916.75 381.92,917.05 383.37,917.31 384.82,917.53 386.27,917.74 387.72,917.94 389.17,918.15 390.61,918.39 392.06,918.67 393.51,919.02 394.96,919.42 396.41,919.89 397.86,920.41 399.31,920.98 400.76,921.59 402.21,922.21 403.66,922.82 405.11,923.41 406.56,923.95 408.01,924.43 409.46,924.85 410.91,925.21 412.36,925.5 413.81,925.72 415.26,925.91 416.71,926.06 418.16,926.19 419.61,926.32 421.06,926.47 422.51,926.64 423.96,926.84 425.41,927.07 426.86,927.35 428.31,927.66 429.76,928.01 431.21,928.38 432.66,928.76 434.11,929.15 435.56,929.54 437.01,929.93 438.46,930.31 439.91,930.66 441.36,931.01 442.81,931.33 444.26,931.65 445.71,931.96 447.16,932.28 448.61,932.62 450.06,932.99 451.51,933.39 452.96,933.83 454.41,934.32 455.86,934.84 457.31,935.4 458.76,935.98 460.21,936.57 461.65,937.16 463.1,937.73 464.55,938.27 466,938.75 467.45,939.17 468.9,939.53 470.35,939.82 471.8,940.04 473.25,940.2 474.7,940.31 476.15,940.39 477.6,940.46 479.05,940.53 480.5,940.63 481.95,940.77 483.4,940.96 484.85,941.21 486.3,941.53 487.75,941.92 489.2,942.37 490.65,942.87 492.1,943.42 493.55,944.01 495,944.6 496.45,945.19 497.9,945.77 499.35,946.3 500.8,946.79 502.25,947.23 503.7,947.62 505.15,947.95 506.6,948.25 508.05,948.53 509.5,948.79 510.95,949.05 512.4,949.3 513.85,949.56 515.3,949.82 516.75,950.09 518.2,950.35 519.65,950.6 521.1,950.84 522.55,951.07 524,951.27 525.45,951.43 526.9,951.56 528.35,951.64 529.8,951.67 531.25,951.66 532.7,951.61 534.14,951.54 535.59,951.47 537.04,951.39" fill="none" stroke="#f4a868" stroke-width="3.2" stroke-linejoin="round" stroke-linecap="round" stroke-opacity="0.72"/>
<polygon points="155.43,927.25 156.92,928.63 158.42,929.76 159.91,930.72 161.4,931.61 162.9,932.08 164.39,931.96 165.89,931.48 167.38,930.83 168.87,929.91 170.37,928.52 171.86,926.93 173.35,925.13 174.85,923.08 176.34,921.04 177.84,919.07 179.33,917.11 180.82,915.15 182.32,913.2 183.81,911.26 185.3,909.25 186.8,907.05 188.29,904.83 189.79,902.94 191.28,901.41 192.77,900.03 194.27,898.6 195.76,897.05 197.26,895.55 198.75,894.28 200.24,893.09 201.74,892.15 203.23,891.73 204.72,891.47 206.22,891.33 207.71,891.35 209.21,891.7 210.7,892.25 212.19,892.82 213.69,893.26 215.18,893.64 216.67,894.02 218.17,894.42 219.66,894.89 221.16,895.41 222.65,895.96 224.14,896.53 225.64,897.1 227.13,897.67 228.62,898.26 230.12,898.88 231.61,899.53 233.11,900.22 234.6,901 236.09,901.93 237.59,903.04 239.08,904.14 240.57,905.08 242.07,905.92 243.56,906.68 245.06,907.4 246.55,908.09 248.04,908.78 249.54,909.48 251.03,910.22 252.53,911 254.02,911.83 255.51,912.7 257.01,913.6 258.5,914.49 259.99,915.36 261.49,916.21 262.98,917.02 264.48,917.78 265.97,918.49 267.46,919.17 268.96,919.86 270.45,920.56 271.94,921.29 273.44,922.05 274.93,922.83 276.43,923.64 277.92,924.45 279.41,925.26 280.91,926.06 282.4,926.85 283.89,927.61 285.39,928.35 286.88,929.05 288.38,929.69 289.87,930.28 291.36,930.8 292.86,931.27 294.35,931.67 295.85,931.99 297.34,932.26 298.83,932.47 300.33,932.64 301.82,932.8 303.31,932.96 304.81,933.15 306.3,933.37 307.8,933.64 309.29,933.97 310.78,934.36 312.28,934.81 313.77,935.31 315.26,935.85 316.76,936.42 318.25,937.02 319.75,937.61 321.24,938.21 322.73,938.79 324.23,939.35 325.72,939.89 327.21,940.4 328.71,940.89 330.2,941.36 331.7,941.82 333.19,942.29 334.68,942.76 336.18,943.26 337.67,943.77 339.17,944.31 340.66,944.87 342.15,945.45 343.65,946.03 345.14,946.6 346.63,947.15 348.13,947.68 349.62,948.16 351.12,948.59 352.61,948.97 354.1,949.29 355.6,949.55 357.09,949.78 358.58,949.97 360.08,950.14 361.57,950.31 363.07,950.49 364.56,950.71 366.05,950.98 367.55,951.32 369.04,951.74 370.53,952.24 372.03,952.83 373.52,953.5 375.02,954.26 376.51,955.09 378,955.97 379.5,956.86 380.99,957.74 382.48,958.56 383.98,959.31 385.47,959.96 386.97,960.5 388.46,960.91 389.95,961.24 391.45,961.49 392.94,961.69 394.44,961.85 395.93,961.98 397.42,962.11 398.92,962.23 400.41,962.38 401.9,962.54 403.4,962.72 404.89,962.91 406.39,963.1 407.88,963.29 409.37,963.49 410.87,963.67 412.36,963.85 413.85,964.02 415.35,964.17 416.84,964.33 418.34,964.49 419.83,964.67 421.32,964.87 422.82,965.1 424.31,965.36 425.8,965.65 427.3,965.98 428.79,966.35 430.29,966.75 431.78,967.17 433.27,967.61 434.77,968.08 436.26,968.56 437.76,969.04 439.25,969.49 440.74,969.92 442.24,970.3 443.73,970.63 445.22,970.9 446.72,971.1 448.21,971.23 449.71,971.29 451.2,971.3 452.69,971.27 454.19,971.21 455.68,971.15 457.17,971.11 458.67,971.1 460.16,971.15 461.66,971.26 463.15,971.44 464.64,971.7 466.14,972.03 467.63,972.42 469.12,972.86 470.62,973.33 472.11,973.81 473.61,974.29 475.1,974.75 476.59,975.19 478.09,975.62 479.58,976.02 481.07,976.4 482.57,976.75 484.06,977.07 485.56,977.37 487.05,977.64 488.54,977.9 490.04,978.14 491.53,978.38 493.03,978.65 494.52,978.93 496.01,979.22 497.51,979.5 499,979.76 500.49,979.97 501.99,980.12 503.48,980.18 504.98,980.16 506.47,980.07 507.96,979.93 509.46,979.74 510.95,979.51 512.44,979.26 513.94,979 515.43,978.74 516.93,978.51 518.42,978.31 519.91,978.18 521.41,978.12 522.9,978.15 524.39,978.26 525.89,978.45 525.89,986.7 155.43,986.7" fill="#d8d8d8" fill-opacity="0.5"/>
<polyline points="155.43,927.25 156.92,928.63 158.42,929.76 159.91,930.72 161.4,931.61 162.9,932.08 164.39,931.96 165.89,931.48 167.38,930.83 168.87,929.91 170.37,928.52 171.86,926.93 173.35,925.13 174.85,923.08 176.34,921.04 177.84,919.07 179.33,917.11 180.82,915.15 182.32,913.2 183.81,911.26 185.3,909.25 186.8,907.05 188.29,904.83 189.79,902.94 191.28,901.41 192.77,900.03 194.27,898.6 195.76,897.05 197.26,895.55 198.75,894.28 200.24,893.09 201.74,892.15 203.23,891.73 204.72,891.47 206.22,891.33 207.71,891.35 209.21,891.7 210.7,892.25 212.19,892.82 213.69,893.26 215.18,893.64 216.67,894.02 218.17,894.42 219.66,894.89 221.16,895.41 222.65,895.96 224.14,896.53 225.64,897.1 227.13,897.67 228.62,898.26 230.12,898.88 231.61,899.53 233.11,900.22 234.6,901 236.09,901.93 237.59,903.04 239.08,904.14 240.57,905.08 242.07,905.92 243.56,906.68 245.06,907.4 246.55,908.09 248.04,908.78 249.54,909.48 251.03,910.22 252.53,911 254.02,911.83 255.51,912.7 257.01,913.6 258.5,914.49 259.99,915.36 261.49,916.21 262.98,917.02 264.48,917.78 265.97,918.49 267.46,919.17 268.96,919.86 270.45,920.56 271.94,921.29 273.44,922.05 274.93,922.83 276.43,923.64 277.92,924.45 279.41,925.26 280.91,926.06 282.4,926.85 283.89,927.61 285.39,928.35 286.88,929.05 288.38,929.69 289.87,930.28 291.36,930.8 292.86,931.27 294.35,931.67 295.85,931.99 297.34,932.26 298.83,932.47 300.33,932.64 301.82,932.8 303.31,932.96 304.81,933.15 306.3,933.37 307.8,933.64 309.29,933.97 310.78,934.36 312.28,934.81 313.77,935.31 315.26,935.85 316.76,936.42 318.25,937.02 319.75,937.61 321.24,938.21 322.73,938.79 324.23,939.35 325.72,939.89 327.21,940.4 328.71,940.89 330.2,941.36 331.7,941.82 333.19,942.29 334.68,942.76 336.18,943.26 337.67,943.77 339.17,944.31 340.66,944.87 342.15,945.45 343.65,946.03 345.14,946.6 346.63,947.15 348.13,947.68 349.62,948.16 351.12,948.59 352.61,948.97 354.1,949.29 355.6,949.55 357.09,949.78 358.58,949.97 360.08,950.14 361.57,950.31 363.07,950.49 364.56,950.71 366.05,950.98 367.55,951.32 369.04,951.74 370.53,952.24 372.03,952.83 373.52,953.5 375.02,954.26 376.51,955.09 378,955.97 379.5,956.86 380.99,957.74 382.48,958.56 383.98,959.31 385.47,959.96 386.97,960.5 388.46,960.91 389.95,961.24 391.45,961.49 392.94,961.69 394.44,961.85 395.93,961.98 397.42,962.11 398.92,962.23 400.41,962.38 401.9,962.54 403.4,962.72 404.89,962.91 406.39,963.1 407.88,963.29 409.37,963.49 410.87,963.67 412.36,963.85 413.85,964.02 415.35,964.17 416.84,964.33 418.34,964.49 419.83,964.67 421.32,964.87 422.82,965.1 424.31,965.36 425.8,965.65 427.3,965.98 428.79,966.35 430.29,966.75 431.78,967.17 433.27,967.61 434.77,968.08 436.26,968.56 437.76,969.04 439.25,969.49 440.74,969.92 442.24,970.3 443.73,970.63 445.22,970.9 446.72,971.1 448.21,971.23 449.71,971.29 451.2,971.3 452.69,971.27 454.19,971.21 455.68,971.15 457.17,971.11 458.67,971.1 460.16,971.15 461.66,971.26 463.15,971.44 464.64,971.7 466.14,972.03 467.63,972.42 469.12,972.86 470.62,973.33 472.11,973.81 473.61,974.29 475.1,974.75 476.59,975.19 478.09,975.62 479.58,976.02 481.07,976.4 482.57,976.75 484.06,977.07 485.56,977.37 487.05,977.64 488.54,977.9 490.04,978.14 491.53,978.38 493.03,978.65 494.52,978.93 496.01,979.22 497.51,979.5 499,979.76 500.49,979.97 501.99,980.12 503.48,980.18 504.98,980.16 506.47,980.07 507.96,979.93 509.46,979.74 510.95,979.51 512.44,979.26 513.94,979 515.43,978.74 516.93,978.51 518.42,978.31 519.91,978.18 521.41,978.12 522.9,978.15 524.39,978.26 525.89,978.45" fill="none" stroke="#ec7878" stroke-width="3.2" stroke-linejoin="round" stroke-linecap="round" stroke-opacity="0.72"/>
<polygon points="131.98,932.24 133.52,933.41 135.06,933.28 136.6,932.7 138.14,931.91 139.69,930.67 141.23,928.85 142.77,926.79 144.31,924.42 145.85,921.66 147.39,918.77 148.93,915.75 150.47,912.53 152.01,909.03 153.55,905.19 155.09,901.15 156.63,897.03 158.17,892.71 159.71,888.45 161.25,884.51 162.79,880.77 164.33,877.22 165.87,873.85 167.41,870.63 168.96,867.69 170.5,865 172.04,862.52 173.58,860.29 175.12,858.34 176.66,856.56 178.2,854.86 179.74,853.22 181.28,851.67 182.82,850.21 184.36,848.84 185.9,847.54 187.44,846.24 188.98,844.95 190.52,843.78 192.06,842.84 193.6,842.03 195.14,841.32 196.68,840.65 198.23,840.04 199.77,839.47 201.31,838.98 202.85,838.56 204.39,838.2 205.93,837.84 207.47,837.46 209.01,837.04 210.55,836.62 212.09,836.22 213.63,835.86 215.17,835.49 216.71,835.16 218.25,834.92 219.79,834.79 221.33,834.69 222.87,834.62 224.41,834.58 225.95,834.7 227.5,835.06 229.04,835.55 230.58,836.09 232.12,836.83 233.66,837.8 235.2,838.83 236.74,839.75 238.28,840.48 239.82,841.17 241.36,841.83 242.9,842.45 244.44,843 245.98,843.49 247.52,843.89 249.06,844.26 250.6,844.61 252.14,844.92 253.68,845.15 255.23,845.26 256.77,845.16 258.31,844.71 259.85,844.06 261.39,843.39 262.93,842.84 264.47,842.52 266.01,842.24 267.55,841.97 269.09,841.74 270.63,841.55 272.17,841.41 273.71,841.33 275.25,841.34 276.79,841.43 278.33,841.6 279.87,841.81 281.41,842.07 282.95,842.34 284.5,842.61 286.04,842.89 287.58,843.23 289.12,843.6 290.66,844.01 292.2,844.42 293.74,844.82 295.28,845.19 296.82,845.54 298.36,845.89 299.9,846.23 301.44,846.57 302.98,846.88 304.52,847.15 306.06,847.38 307.6,847.55 309.14,847.68 310.68,847.83 312.22,848.08 313.77,848.56 315.31,849.25 316.85,850.09 318.39,851.02 319.93,852 321.47,853.04 323.01,854.33 324.55,855.79 326.09,857.28 327.63,858.66 329.17,859.81 330.71,860.76 332.25,861.64 333.79,862.46 335.33,863.22 336.87,863.94 338.41,864.63 339.95,865.3 341.49,865.95 343.04,866.55 344.58,867.1 346.12,867.63 347.66,868.16 349.2,868.69 350.74,869.25 352.28,869.87 353.82,870.53 355.36,871.21 356.9,871.94 358.44,872.72 359.98,873.6 361.52,874.58 363.06,875.83 364.6,877.37 366.14,879.07 367.68,880.78 369.22,882.37 370.77,883.71 372.31,884.99 373.85,886.25 375.39,887.41 376.93,888.39 378.47,889.1 380.01,889.52 381.55,889.84 383.09,890.1 384.63,890.32 386.17,890.54 387.71,890.77 389.25,891.01 390.79,891.22 392.33,891.42 393.87,891.66 395.41,891.96 396.95,892.4 398.49,893.33 400.04,894.74 401.58,896.47 403.12,898.36 404.66,900.22 406.2,901.97 407.74,904.01 409.28,906.19 410.82,908.29 412.36,910.08 413.9,911.32 415.44,912.12 416.98,912.85 418.52,913.49 420.06,913.98 421.6,914.29 423.14,914.39 424.68,914.39 426.22,914.39 427.76,914.39 429.31,914.39 430.85,914.39 432.39,914.39 433.93,914.39 435.47,914.43 437.01,914.68 438.55,915.14 440.09,915.75 441.63,916.46 443.17,917.22 444.71,918.21 446.25,919.62 447.79,921.29 449.33,923.07 450.87,924.8 452.41,926.33 453.95,927.78 455.49,929.22 457.03,930.62 458.58,931.93 460.12,933.09 461.66,934.08 463.2,935.04 464.74,935.94 466.28,936.75 467.82,937.42 469.36,937.89 470.9,938.19 472.44,938.39 473.98,938.55 475.52,938.68 477.06,938.8 478.6,938.96 480.14,939.18 481.68,939.48 483.22,940.09 484.76,941.02 486.31,942.17 487.85,943.45 489.39,944.76 490.93,946.09 492.47,947.76 494.01,949.6 495.55,951.4 497.09,952.94 498.63,954.01 500.17,954.59 501.71,955.06 503.25,955.44 504.79,955.76 506.33,956.03 507.87,956.26 509.41,956.48 510.95,956.68 512.49,956.85 514.03,957 514.03,1013.94 131.98,1013.94" fill="#d8d8d8" fill-opacity="0.5"/>
<polyline points="131.98,932.24 133.52,933.41 135.06,933.28 136.6,932.7 138.14,931.91 139.69,930.67 141.23,928.85 142.77,926.79 144.31,924.42 145.85,921.66 147.39,918.77 148.93,915.75 150.47,912.53 152.01,909.03 153.55,905.19 155.09,901.15 156.63,897.03 158.17,892.71 159.71,888.45 161.25,884.51 162.79,880.77 164.33,877.22 165.87,873.85 167.41,870.63 168.96,867.69 170.5,865 172.04,862.52 173.58,860.29 175.12,858.34 176.66,856.56 178.2,854.86 179.74,853.22 181.28,851.67 182.82,850.21 184.36,848.84 185.9,847.54 187.44,846.24 188.98,844.95 190.52,843.78 192.06,842.84 193.6,842.03 195.14,841.32 196.68,840.65 198.23,840.04 199.77,839.47 201.31,838.98 202.85,838.56 204.39,838.2 205.93,837.84 207.47,837.46 209.01,837.04 210.55,836.62 212.09,836.22 213.63,835.86 215.17,835.49 216.71,835.16 218.25,834.92 219.79,834.79 221.33,834.69 222.87,834.62 224.41,834.58 225.95,834.7 227.5,835.06 229.04,835.55 230.58,836.09 232.12,836.83 233.66,837.8 235.2,838.83 236.74,839.75 238.28,840.48 239.82,841.17 241.36,841.83 242.9,842.45 244.44,843 245.98,843.49 247.52,843.89 249.06,844.26 250.6,844.61 252.14,844.92 253.68,845.15 255.23,845.26 256.77,845.16 258.31,844.71 259.85,844.06 261.39,843.39 262.93,842.84 264.47,842.52 266.01,842.24 267.55,841.97 269.09,841.74 270.63,841.55 272.17,841.41 273.71,841.33 275.25,841.34 276.79,841.43 278.33,841.6 279.87,841.81 281.41,842.07 282.95,842.34 284.5,842.61 286.04,842.89 287.58,843.23 289.12,843.6 290.66,844.01 292.2,844.42 293.74,844.82 295.28,845.19 296.82,845.54 298.36,845.89 299.9,846.23 301.44,846.57 302.98,846.88 304.52,847.15 306.06,847.38 307.6,847.55 309.14,847.68 310.68,847.83 312.22,848.08 313.77,848.56 315.31,849.25 316.85,850.09 318.39,851.02 319.93,852 321.47,853.04 323.01,854.33 324.55,855.79 326.09,857.28 327.63,858.66 329.17,859.81 330.71,860.76 332.25,861.64 333.79,862.46 335.33,863.22 336.87,863.94 338.41,864.63 339.95,865.3 341.49,865.95 343.04,866.55 344.58,867.1 346.12,867.63 347.66,868.16 349.2,868.69 350.74,869.25 352.28,869.87 353.82,870.53 355.36,871.21 356.9,871.94 358.44,872.72 359.98,873.6 361.52,874.58 363.06,875.83 364.6,877.37 366.14,879.07 367.68,880.78 369.22,882.37 370.77,883.71 372.31,884.99 373.85,886.25 375.39,887.41 376.93,888.39 378.47,889.1 380.01,889.52 381.55,889.84 383.09,890.1 384.63,890.32 386.17,890.54 387.71,890.77 389.25,891.01 390.79,891.22 392.33,891.42 393.87,891.66 395.41,891.96 396.95,892.4 398.49,893.33 400.04,894.74 401.58,896.47 403.12,898.36 404.66,900.22 406.2,901.97 407.74,904.01 409.28,906.19 410.82,908.29 412.36,910.08 413.9,911.32 415.44,912.12 416.98,912.85 418.52,913.49 420.06,913.98 421.6,914.29 423.14,914.39 424.68,914.39 426.22,914.39 427.76,914.39 429.31,914.39 430.85,914.39 432.39,914.39 433.93,914.39 435.47,914.43 437.01,914.68 438.55,915.14 440.09,915.75 441.63,916.46 443.17,917.22 444.71,918.21 446.25,919.62 447.79,921.29 449.33,923.07 450.87,924.8 452.41,926.33 453.95,927.78 455.49,929.22 457.03,930.62 458.58,931.93 460.12,933.09 461.66,934.08 463.2,935.04 464.74,935.94 466.28,936.75 467.82,937.42 469.36,937.89 470.9,938.19 472.44,938.39 473.98,938.55 475.52,938.68 477.06,938.8 478.6,938.96 480.14,939.18 481.68,939.48 483.22,940.09 484.76,941.02 486.31,942.17 487.85,943.45 489.39,944.76 490.93,946.09 492.47,947.76 494.01,949.6 495.55,951.4 497.09,952.94 498.63,954.01 500.17,954.59 501.71,955.06 503.25,955.44 504.79,955.76 506.33,956.03 507.87,956.26 509.41,956.48 510.95,956.68 512.49,956.85 514.03,957" fill="none" stroke="#e87070" stroke-width="3.2" stroke-linejoin="round" stroke-linecap="round" stroke-opacity="0.72"/>
<polyline points="217.94,856.77 219.31,858.61 220.68,859.95 222.05,860.77 223.42,861.05 224.79,860.63 226.16,859.53 227.53,857.96 228.9,856.12 230.27,854.22 231.64,852.47 233,850.77 234.37,848.92 235.74,846.95 237.11,844.92 238.48,842.86 239.85,840.81 241.22,838.83 242.59,836.94 243.96,835.19 245.33,833.63 246.7,832.16 248.07,830.7 249.43,829.26 250.8,827.88 252.17,826.56 253.54,825.33 254.91,824.2 256.28,823.21 257.65,822.35 259.02,821.67 260.39,821.05 261.76,820.46 263.13,819.93 264.5,819.5 265.86,819.22 267.23,819.13 268.6,819.18 269.97,819.3 271.34,819.48 272.71,819.72 274.08,819.99 275.45,820.27 276.82,820.57 278.19,820.86 279.56,821.16 280.93,821.5 282.29,821.87 283.66,822.28 285.03,822.71 286.4,823.16 287.77,823.64 289.14,824.14 290.51,824.65 291.88,825.16 293.25,825.7 294.62,826.28 295.99,826.89 297.35,827.53 298.72,828.2 300.09,828.92 301.46,829.69 302.83,830.5 304.2,831.37 305.57,832.27 306.94,833.21 308.31,834.19 309.68,835.18 311.05,836.16 312.42,837.1 313.78,837.99 315.15,838.81 316.52,839.57 317.89,840.28 319.26,840.93 320.63,841.56 322,842.18 323.37,842.79 324.74,843.41 326.11,844.02 327.48,844.64 328.85,845.26 330.21,845.89 331.58,846.51 332.95,847.12 334.32,847.72 335.69,848.32 337.06,848.92 338.43,849.51 339.8,850.1 341.17,850.67 342.54,851.22 343.91,851.76 345.28,852.29 346.64,852.81 348.01,853.34 349.38,853.86 350.75,854.39 352.12,854.92 353.49,855.46 354.86,856.01 356.23,856.57 357.6,857.14 358.97,857.72 360.34,858.29 361.71,858.85 363.07,859.39 364.44,859.9 365.81,860.37 367.18,860.81 368.55,861.2 369.92,861.54 371.29,861.83 372.66,862.09 374.03,862.31 375.4,862.52 376.77,862.71 378.14,862.9 379.5,863.11 380.87,863.34 382.24,863.61 383.61,863.92 384.98,864.29 386.35,864.72 387.72,865.2 389.09,865.74 390.46,866.33 391.83,866.96 393.2,867.62 394.56,868.29 395.93,868.96 397.3,869.6 398.67,870.22 400.04,870.8 401.41,871.33 402.78,871.81 404.15,872.24 405.52,872.64 406.89,873 408.26,873.35 409.63,873.67 410.99,874 412.36,874.32 413.73,874.66 415.1,875 416.47,875.34 417.84,875.69 419.21,876.05 420.58,876.41 421.95,876.77 423.32,877.11 424.69,877.42 426.06,877.71 427.42,877.97 428.79,878.19 430.16,878.38 431.53,878.55 432.9,878.69 434.27,878.82 435.64,878.95 437.01,879.11 438.38,879.3 439.75,879.55 441.12,879.85 442.49,880.21 443.85,880.64 445.22,881.14 446.59,881.68 447.96,882.26 449.33,882.86 450.7,883.45 452.07,884.01 453.44,884.53 454.81,885 456.18,885.39 457.55,885.72 458.92,885.97 460.28,886.15 461.65,886.29 463.02,886.39 464.39,886.47 465.76,886.54 467.13,886.63 468.5,886.75 469.87,886.9 471.24,887.11 472.61,887.36 473.98,887.67 475.35,888.03 476.71,888.43 478.08,888.86 479.45,889.32 480.82,889.77 482.19,890.23 483.56,890.67 484.93,891.1 486.3,891.5 487.67,891.88 489.04,892.24 490.41,892.59 491.78,892.93 493.14,893.27 494.51,893.61 495.88,893.98 497.25,894.36 498.62,894.77 499.99,895.19 501.36,895.64 502.73,896.09 504.1,896.54 505.47,896.98 506.84,897.4 508.2,897.78 509.57,898.12 510.94,898.41 512.31,898.64 513.68,898.83 515.05,898.98 516.42,899.1 517.79,899.2 519.16,899.29 520.53,899.39 521.9,899.51 523.27,899.67 524.63,899.86 526,900.11 527.37,900.41 528.74,900.77 530.11,901.19 531.48,901.66 532.85,902.16 534.22,902.68 535.59,903.2 536.96,903.69 538.33,904.15 539.7,904.56 541.06,904.9 542.43,905.18 543.8,905.4 545.17,905.57 546.54,905.68 547.91,905.75 549.28,905.79 550.65,905.81 552.02,905.82 553.39,905.83 554.76,905.86 556.13,905.89 557.49,905.94" fill="none" stroke="#ecec60" stroke-width="3.2" stroke-linejoin="round" stroke-linecap="round" stroke-opacity="0.3"/>
<polyline points="198.3,877.95 199.71,879.84 201.11,881.22 202.52,882.07 203.93,882.35 205.34,881.92 206.75,880.79 208.16,879.17 209.56,877.27 210.97,875.32 212.38,873.52 213.79,871.78 215.2,869.87 216.61,867.85 218.01,865.76 219.42,863.64 220.83,861.54 222.24,859.49 223.65,857.55 225.06,855.75 226.46,854.14 227.87,852.63 229.28,851.13 230.69,849.65 232.1,848.23 233.51,846.87 234.91,845.61 236.32,844.45 237.73,843.42 239.14,842.55 240.55,841.84 241.96,841.21 243.36,840.6 244.77,840.05 246.18,839.61 247.59,839.33 249,839.23 250.41,839.28 251.81,839.4 253.22,839.59 254.63,839.83 256.04,840.11 257.45,840.41 258.86,840.71 260.26,841.01 261.67,841.32 263.08,841.67 264.49,842.05 265.9,842.47 267.31,842.91 268.71,843.38 270.12,843.86 271.53,844.34 272.94,844.82 274.35,845.31 275.76,845.85 277.16,846.46 278.57,847.15 279.98,847.91 281.39,848.75 282.8,849.64 284.21,850.58 285.61,851.53 287.02,852.47 288.43,853.36 289.84,854.19 291.25,854.95 292.66,855.65 294.06,856.26 295.47,856.82 296.88,857.33 298.29,857.82 299.7,858.32 301.11,858.85 302.51,859.41 303.92,860.03 305.33,860.73 306.74,861.5 308.15,862.31 309.56,863.16 310.96,864.02 312.37,864.87 313.78,865.69 315.19,866.45 316.6,867.14 318.01,867.77 319.41,868.34 320.82,868.87 322.23,869.37 323.64,869.85 325.05,870.31 326.46,870.79 327.86,871.3 329.27,871.84 330.68,872.44 332.09,873.08 333.5,873.77 334.91,874.5 336.31,875.25 337.72,876 339.13,876.73 340.54,877.44 341.95,878.09 343.36,878.67 344.76,879.17 346.17,879.57 347.58,879.89 348.99,880.12 350.4,880.29 351.81,880.41 353.21,880.5 354.62,880.59 356.03,880.7 357.44,880.85 358.85,881.06 360.25,881.36 361.66,881.73 363.07,882.19 364.48,882.73 365.89,883.34 367.3,884 368.7,884.69 370.11,885.4 371.52,886.11 372.93,886.8 374.34,887.46 375.75,888.08 377.15,888.65 378.56,889.18 379.97,889.66 381.38,890.11 382.79,890.52 384.2,890.91 385.6,891.28 387.01,891.66 388.42,892.05 389.83,892.45 391.24,892.87 392.65,893.32 394.05,893.79 395.46,894.26 396.87,894.74 398.28,895.2 399.69,895.64 401.1,896.04 402.5,896.39 403.91,896.7 405.32,896.97 406.73,897.2 408.14,897.39 409.55,897.57 410.95,897.75 412.36,897.92 413.77,898.12 415.18,898.35 416.59,898.62 418,898.94 419.4,899.31 420.81,899.72 422.22,900.18 423.63,900.67 425.04,901.19 426.45,901.72 427.85,902.26 429.26,902.78 430.67,903.29 432.08,903.75 433.49,904.18 434.9,904.55 436.3,904.87 437.71,905.13 439.12,905.35 440.53,905.52 441.94,905.67 443.35,905.8 444.75,905.92 446.16,906.06 447.57,906.23 448.98,906.43 450.39,906.68 451.8,906.98 453.2,907.31 454.61,907.69 456.02,908.09 457.43,908.51 458.84,908.93 460.25,909.35 461.65,909.77 463.06,910.16 464.47,910.54 465.88,910.9 467.29,911.25 468.7,911.59 470.1,911.93 471.51,912.29 472.92,912.66 474.33,913.05 475.74,913.48 477.15,913.93 478.55,914.42 479.96,914.92 481.37,915.45 482.78,915.97 484.19,916.49 485.6,916.98 487,917.44 488.41,917.84 489.82,918.19 491.23,918.48 492.64,918.71 494.05,918.88 495.45,919.01 496.86,919.09 498.27,919.16 499.68,919.23 501.09,919.32 502.5,919.44 503.9,919.61 505.31,919.86 506.72,920.17 508.13,920.55 509.54,921 510.95,921.5 512.35,922.05 513.76,922.61 515.17,923.18 516.58,923.73 517.99,924.26 519.4,924.76 520.8,925.22 522.21,925.62 523.62,925.97 525.03,926.25 526.44,926.49 527.85,926.68 529.25,926.82 530.66,926.94 532.07,927.05 533.48,927.16 534.89,927.29 536.3,927.42 537.7,927.57 539.11,927.73 540.52,927.89 541.93,928.05 543.34,928.2 544.75,928.33 546.15,928.43 547.56,928.49" fill="none" stroke="#f4b070" stroke-width="3.2" stroke-linejoin="round" stroke-linecap="round" stroke-opacity="0.3"/>
<polyline points="177.49,900.38 178.94,902.32 180.39,903.74 181.84,904.61 183.29,904.91 184.74,904.46 186.19,903.3 187.64,901.63 189.09,899.68 190.54,897.67 191.99,895.82 193.44,894.02 194.89,892.06 196.34,889.98 197.79,887.82 199.24,885.64 200.69,883.48 202.14,881.37 203.59,879.37 205.04,877.52 206.49,875.86 207.94,874.31 209.39,872.76 210.84,871.24 212.29,869.78 213.74,868.38 215.19,867.08 216.64,865.89 218.09,864.83 219.54,863.93 220.99,863.2 222.44,862.55 223.89,861.92 225.34,861.36 226.79,860.91 228.24,860.61 229.69,860.51 231.14,860.56 232.59,860.69 234.04,860.89 235.49,861.14 236.94,861.42 238.39,861.73 239.84,862.04 241.29,862.34 242.74,862.67 244.19,863.03 245.64,863.42 247.08,863.85 248.53,864.3 249.98,864.78 251.43,865.28 252.88,865.79 254.33,866.33 255.78,866.89 257.23,867.53 258.68,868.24 260.13,869.02 261.58,869.84 263.03,870.68 264.48,871.51 265.93,872.32 267.38,873.08 268.83,873.77 270.28,874.41 271.73,874.99 273.18,875.55 274.63,876.1 276.08,876.66 277.53,877.25 278.98,877.87 280.43,878.52 281.88,879.22 283.33,879.94 284.78,880.69 286.23,881.47 287.68,882.28 289.13,883.11 290.58,883.93 292.03,884.73 293.48,885.5 294.93,886.24 296.38,886.95 297.83,887.61 299.28,888.23 300.73,888.82 302.18,889.43 303.63,890.05 305.08,890.69 306.53,891.37 307.98,892.09 309.43,892.83 310.88,893.59 312.33,894.37 313.78,895.14 315.23,895.91 316.68,896.63 318.13,897.31 319.57,897.91 321.02,898.44 322.47,898.9 323.92,899.27 325.37,899.57 326.82,899.81 328.27,900 329.72,900.16 331.17,900.31 332.62,900.47 334.07,900.66 335.52,900.9 336.97,901.21 338.42,901.59 339.87,902.04 341.32,902.56 342.77,903.14 344.22,903.78 345.67,904.45 347.12,905.14 348.57,905.83 350.02,906.5 351.47,907.15 352.92,907.76 354.37,908.32 355.82,908.85 357.27,909.34 358.72,909.81 360.17,910.26 361.62,910.71 363.07,911.16 364.52,911.63 365.97,912.12 367.42,912.62 368.87,913.13 370.32,913.65 371.77,914.16 373.22,914.67 374.67,915.15 376.12,915.61 377.57,916.03 379.02,916.42 380.47,916.75 381.92,917.05 383.37,917.31 384.82,917.53 386.27,917.74 387.72,917.94 389.17,918.15 390.61,918.39 392.06,918.67 393.51,919.02 394.96,919.42 396.41,919.89 397.86,920.41 399.31,920.98 400.76,921.59 402.21,922.21 403.66,922.82 405.11,923.41 406.56,923.95 408.01,924.43 409.46,924.85 410.91,925.21 412.36,925.5 413.81,925.72 415.26,925.91 416.71,926.06 418.16,926.19 419.61,926.32 421.06,926.47 422.51,926.64 423.96,926.84 425.41,927.07 426.86,927.35 428.31,927.66 429.76,928.01 431.21,928.38 432.66,928.76 434.11,929.15 435.56,929.54 437.01,929.93 438.46,930.31 439.91,930.66 441.36,931.01 442.81,931.33 444.26,931.65 445.71,931.96 447.16,932.28 448.61,932.62 450.06,932.99 451.51,933.39 452.96,933.83 454.41,934.32 455.86,934.84 457.31,935.4 458.76,935.98 460.21,936.57 461.65,937.16 463.1,937.73 464.55,938.27 466,938.75 467.45,939.17 468.9,939.53 470.35,939.82 471.8,940.04 473.25,940.2 474.7,940.31 476.15,940.39 477.6,940.46 479.05,940.53 480.5,940.63 481.95,940.77 483.4,940.96 484.85,941.21 486.3,941.53 487.75,941.92 489.2,942.37 490.65,942.87 492.1,943.42 493.55,944.01 495,944.6 496.45,945.19 497.9,945.77 499.35,946.3 500.8,946.79 502.25,947.23 503.7,947.62 505.15,947.95 506.6,948.25 508.05,948.53 509.5,948.79 510.95,949.05 512.4,949.3 513.85,949.56 515.3,949.82 516.75,950.09 518.2,950.35 519.65,950.6 521.1,950.84 522.55,951.07 524,951.27 525.45,951.43 526.9,951.56 528.35,951.64 529.8,951.67 531.25,951.66 532.7,951.61 534.14,951.54 535.59,951.47 537.04,951.39" fill="none" stroke="#f4a868" stroke-width="3.2" stroke-linejoin="round" stroke-linecap="round" stroke-opacity="0.3"/>
<polyline points="155.43,927.25 156.92,928.63 158.42,929.76 159.91,930.72 161.4,931.61 162.9,932.08 164.39,931.96 165.89,931.48 167.38,930.83 168.87,929.91 170.37,928.52 171.86,926.93 173.35,925.13 174.85,923.08 176.34,921.04 177.84,919.07 179.33,917.11 180.82,915.15 182.32,913.2 183.81,911.26 185.3,909.25 186.8,907.05 188.29,904.83 189.79,902.94 191.28,901.41 192.77,900.03 194.27,898.6 195.76,897.05 197.26,895.55 198.75,894.28 200.24,893.09 201.74,892.15 203.23,891.73 204.72,891.47 206.22,891.33 207.71,891.35 209.21,891.7 210.7,892.25 212.19,892.82 213.69,893.26 215.18,893.64 216.67,894.02 218.17,894.42 219.66,894.89 221.16,895.41 222.65,895.96 224.14,896.53 225.64,897.1 227.13,897.67 228.62,898.26 230.12,898.88 231.61,899.53 233.11,900.22 234.6,901 236.09,901.93 237.59,903.04 239.08,904.14 240.57,905.08 242.07,905.92 243.56,906.68 245.06,907.4 246.55,908.09 248.04,908.78 249.54,909.48 251.03,910.22 252.53,911 254.02,911.83 255.51,912.7 257.01,913.6 258.5,914.49 259.99,915.36 261.49,916.21 262.98,917.02 264.48,917.78 265.97,918.49 267.46,919.17 268.96,919.86 270.45,920.56 271.94,921.29 273.44,922.05 274.93,922.83 276.43,923.64 277.92,924.45 279.41,925.26 280.91,926.06 282.4,926.85 283.89,927.61 285.39,928.35 286.88,929.05 288.38,929.69 289.87,930.28 291.36,930.8 292.86,931.27 294.35,931.67 295.85,931.99 297.34,932.26 298.83,932.47 300.33,932.64 301.82,932.8 303.31,932.96 304.81,933.15 306.3,933.37 307.8,933.64 309.29,933.97 310.78,934.36 312.28,934.81 313.77,935.31 315.26,935.85 316.76,936.42 318.25,937.02 319.75,937.61 321.24,938.21 322.73,938.79 324.23,939.35 325.72,939.89 327.21,940.4 328.71,940.89 330.2,941.36 331.7,941.82 333.19,942.29 334.68,942.76 336.18,943.26 337.67,943.77 339.17,944.31 340.66,944.87 342.15,945.45 343.65,946.03 345.14,946.6 346.63,947.15 348.13,947.68 349.62,948.16 351.12,948.59 352.61,948.97 354.1,949.29 355.6,949.55 357.09,949.78 358.58,949.97 360.08,950.14 361.57,950.31 363.07,950.49 364.56,950.71 366.05,950.98 367.55,951.32 369.04,951.74 370.53,952.24 372.03,952.83 373.52,953.5 375.02,954.26 376.51,955.09 378,955.97 379.5,956.86 380.99,957.74 382.48,958.56 383.98,959.31 385.47,959.96 386.97,960.5 388.46,960.91 389.95,961.24 391.45,961.49 392.94,961.69 394.44,961.85 395.93,961.98 397.42,962.11 398.92,962.23 400.41,962.38 401.9,962.54 403.4,962.72 404.89,962.91 406.39,963.1 407.88,963.29 409.37,963.49 410.87,963.67 412.36,963.85 413.85,964.02 415.35,964.17 416.84,964.33 418.34,964.49 419.83,964.67 421.32,964.87 422.82,965.1 424.31,965.36 425.8,965.65 427.3,965.98 428.79,966.35 430.29,966.75 431.78,967.17 433.27,967.61 434.77,968.08 436.26,968.56 437.76,969.04 439.25,969.49 440.74,969.92 442.24,970.3 443.73,970.63 445.22,970.9 446.72,971.1 448.21,971.23 449.71,971.29 451.2,971.3 452.69,971.27 454.19,971.21 455.68,971.15 457.17,971.11 458.67,971.1 460.16,971.15 461.66,971.26 463.15,971.44 464.64,971.7 466.14,972.03 467.63,972.42 469.12,972.86 470.62,973.33 472.11,973.81 473.61,974.29 475.1,974.75 476.59,975.19 478.09,975.62 479.58,976.02 481.07,976.4 482.57,976.75 484.06,977.07 485.56,977.37 487.05,977.64 488.54,977.9 490.04,978.14 491.53,978.38 493.03,978.65 494.52,978.93 496.01,979.22 497.51,979.5 499,979.76 500.49,979.97 501.99,980.12 503.48,980.18 504.98,980.16 506.47,980.07 507.96,979.93 509.46,979.74 510.95,979.51 512.44,979.26 513.94,979 515.43,978.74 516.93,978.51 518.42,978.31 519.91,978.18 521.41,978.12 522.9,978.15 524.39,978.26 525.89,978.45" fill="none" stroke="#ec7878" stroke-width="3.2" stroke-linejoin="round" stroke-linecap="round" stroke-opacity="0.3"/>
<polyline points="131.98,932.24 133.52,933.41 135.06,933.28 136.6,932.7 138.14,931.91 139.69,930.67 141.23,928.85 142.77,926.79 144.31,924.42 145.85,921.66 147.39,918.77 148.93,915.75 150.47,912.53 152.01,909.03 153.55,905.19 155.09,901.15 156.63,897.03 158.17,892.71 159.71,888.45 161.25,884.51 162.79,880.77 164.33,877.22 165.87,873.85 167.41,870.63 168.96,867.69 170.5,865 172.04,862.52 173.58,860.29 175.12,858.34 176.66,856.56 178.2,854.86 179.74,853.22 181.28,851.67 182.82,850.21 184.36,848.84 185.9,847.54 187.44,846.24 188.98,844.95 190.52,843.78 192.06,842.84 193.6,842.03 195.14,841.32 196.68,840.65 198.23,840.04 199.77,839.47 201.31,838.98 202.85,838.56 204.39,838.2 205.93,837.84 207.47,837.46 209.01,837.04 210.55,836.62 212.09,836.22 213.63,835.86 215.17,835.49 216.71,835.16 218.25,834.92 219.79,834.79 221.33,834.69 222.87,834.62 224.41,834.58 225.95,834.7 227.5,835.06 229.04,835.55 230.58,836.09 232.12,836.83 233.66,837.8 235.2,838.83 236.74,839.75 238.28,840.48 239.82,841.17 241.36,841.83 242.9,842.45 244.44,843 245.98,843.49 247.52,843.89 249.06,844.26 250.6,844.61 252.14,844.92 253.68,845.15 255.23,845.26 256.77,845.16 258.31,844.71 259.85,844.06 261.39,843.39 262.93,842.84 264.47,842.52 266.01,842.24 267.55,841.97 269.09,841.74 270.63,841.55 272.17,841.41 273.71,841.33 275.25,841.34 276.79,841.43 278.33,841.6 279.87,841.81 281.41,842.07 282.95,842.34 284.5,842.61 286.04,842.89 287.58,843.23 289.12,843.6 290.66,844.01 292.2,844.42 293.74,844.82 295.28,845.19 296.82,845.54 298.36,845.89 299.9,846.23 301.44,846.57 302.98,846.88 304.52,847.15 306.06,847.38 307.6,847.55 309.14,847.68 310.68,847.83 312.22,848.08 313.77,848.56 315.31,849.25 316.85,850.09 318.39,851.02 319.93,852 321.47,853.04 323.01,854.33 324.55,855.79 326.09,857.28 327.63,858.66 329.17,859.81 330.71,860.76 332.25,861.64 333.79,862.46 335.33,863.22 336.87,863.94 338.41,864.63 339.95,865.3 341.49,865.95 343.04,866.55 344.58,867.1 346.12,867.63 347.66,868.16 349.2,868.69 350.74,869.25 352.28,869.87 353.82,870.53 355.36,871.21 356.9,871.94 358.44,872.72 359.98,873.6 361.52,874.58 363.06,875.83 364.6,877.37 366.14,879.07 367.68,880.78 369.22,882.37 370.77,883.71 372.31,884.99 373.85,886.25 375.39,887.41 376.93,888.39 378.47,889.1 380.01,889.52 381.55,889.84 383.09,890.1 384.63,890.32 386.17,890.54 387.71,890.77 389.25,891.01 390.79,891.22 392.33,891.42 393.87,891.66 395.41,891.96 396.95,892.4 398.49,893.33 400.04,894.74 401.58,896.47 403.12,898.36 404.66,900.22 406.2,901.97 407.74,904.01 409.28,906.19 410.82,908.29 412.36,910.08 413.9,911.32 415.44,912.12 416.98,912.85 418.52,913.49 420.06,913.98 421.6,914.29 423.14,914.39 424.68,914.39 426.22,914.39 427.76,914.39 429.31,914.39 430.85,914.39 432.39,914.39 433.93,914.39 435.47,914.43 437.01,914.68 438.55,915.14 440.09,915.75 441.63,916.46 443.17,917.22 444.71,918.21 446.25,919.62 447.79,921.29 449.33,923.07 450.87,924.8 452.41,926.33 453.95,927.78 455.49,929.22 457.03,930.62 458.58,931.93 460.12,933.09 461.66,934.08 463.2,935.04 464.74,935.94 466.28,936.75 467.82,937.42 469.36,937.89 470.9,938.19 472.44,938.39 473.98,938.55 475.52,938.68 477.06,938.8 478.6,938.96 480.14,939.18 481.68,939.48 483.22,940.09 484.76,941.02 486.31,942.17 487.85,943.45 489.39,944.76 490.93,946.09 492.47,947.76 494.01,949.6 495.55,951.4 497.09,952.94 498.63,954.01 500.17,954.59 501.71,955.06 503.25,955.44 504.79,955.76 506.33,956.03 507.87,956.26 509.41,956.48 510.95,956.68 512.49,956.85 514.03,957" fill="none" stroke="#e87070" stroke-width="3.2" stroke-linejoin="round" stroke-linecap="round" stroke-opacity="0.3"/>
<line x1="182.2" y1="1028.2" x2="404.72" y2="747.41" stroke="#5a6060" stroke-width="0.7" stroke-opacity="0.68"/>
<line x1="244.7" y1="1028.2" x2="447.97" y2="747.41" stroke="#5a6060" stroke-width="0.7" stroke-opacity="0.68"/>
<line x1="307.2" y1="1028.2" x2="491.22" y2="747.41" stroke="#5a6060" stroke-width="0.7" stroke-opacity="0.68"/>
<line x1="369.7" y1="1028.2" x2="534.47" y2="747.41" stroke="#5a6060" stroke-width="0.7" stroke-opacity="0.68"/>
<line x1="432.2" y1="1028.2" x2="577.72" y2="747.41" stroke="#5a6060" stroke-width="0.7" stroke-opacity="0.68"/>
<line x1="494.7" y1="1028.2" x2="620.97" y2="747.41" stroke="#5a6060" stroke-width="0.7" stroke-opacity="0.68"/>
<line x1="119.7" y1="1028.2" x2="119.7" y2="832.6" stroke="#000" stroke-width="1.3" />
<line x1="119.7" y1="1028.2" x2="510.32" y2="1028.2" stroke="#000" stroke-width="1.3" />
<line x1="510.32" y1="1028.2" x2="631.79" y2="747.41" stroke="#000" stroke-width="1.3" />
<line x1="119.7" y1="832.6" x2="361.47" y2="612.05" stroke="#000" stroke-width="1.3" />
<line x1="361.47" y1="612.05" x2="631.79" y2="612.05" stroke="#000" stroke-width="1" />
<line x1="631.79" y1="747.41" x2="631.79" y2="612.05" stroke="#000" stroke-width="1" />
<line x1="119.7" y1="1028.2" x2="119.7" y2="1036.2" stroke="#000" stroke-width="1.2" />
<text x="108.74" y="1058.3" font-size="17.6" text-anchor="start" font-family="Liberation Serif" font-weight="bold" stroke="#000" stroke-width="0.25" >0.2</text>
<line x1="150.95" y1="1028.2" x2="150.95" y2="1032.2" stroke="#000" stroke-width="1.2" />
<line x1="182.2" y1="1028.2" x2="182.2" y2="1036.2" stroke="#000" stroke-width="1.2" />
<text x="171.02" y="1058.3" font-size="17.6" text-anchor="start" font-family="Liberation Serif" font-weight="bold" stroke="#000" stroke-width="0.25" >0.4</text>
<line x1="213.45" y1="1028.2" x2="213.45" y2="1032.2" stroke="#000" stroke-width="1.2" />
<line x1="244.7" y1="1028.2" x2="244.7" y2="1036.2" stroke="#000" stroke-width="1.2" />
<text x="233.61" y="1058.3" font-size="17.6" text-anchor="start" font-family="Liberation Serif" font-weight="bold" stroke="#000" stroke-width="0.25" >0.6</text>
<line x1="275.95" y1="1028.2" x2="275.95" y2="1032.2" stroke="#000" stroke-width="1.2" />
<line x1="307.2" y1="1028.2" x2="307.2" y2="1036.2" stroke="#000" stroke-width="1.2" />
<text x="296.16" y="1058.3" font-size="17.6" text-anchor="start" font-family="Liberation Serif" font-weight="bold" stroke="#000" stroke-width="0.25" >0.8</text>
<line x1="338.45" y1="1028.2" x2="338.45" y2="1032.2" stroke="#000" stroke-width="1.2" />
<line x1="369.7" y1="1028.2" x2="369.7" y2="1036.2" stroke="#000" stroke-width="1.2" />
<text x="358.35" y="1058.3" font-size="17.6" text-anchor="start" font-family="Liberation Serif" font-weight="bold" stroke="#000" stroke-width="0.25" >1.0</text>
<line x1="400.95" y1="1028.2" x2="400.95" y2="1032.2" stroke="#000" stroke-width="1.2" />
<line x1="432.2" y1="1028.2" x2="432.2" y2="1036.2" stroke="#000" stroke-width="1.2" />
<text x="420.89" y="1058.3" font-size="17.6" text-anchor="start" font-family="Liberation Serif" font-weight="bold" stroke="#000" stroke-width="0.25" >1.2</text>
<line x1="463.45" y1="1028.2" x2="463.45" y2="1032.2" stroke="#000" stroke-width="1.2" />
<line x1="494.7" y1="1028.2" x2="494.7" y2="1036.2" stroke="#000" stroke-width="1.2" />
<text x="483.17" y="1058.3" font-size="17.6" text-anchor="start" font-family="Liberation Serif" font-weight="bold" stroke="#000" stroke-width="0.25" >1.4</text>
<text x="233.8" y="1090.5" font-size="22.2" text-anchor="start" font-family="Liberation Serif" font-weight="bold" stroke="#000" stroke-width="0.25" >Frequency (THz)</text>
<line x1="119.7" y1="1028.2" x2="110.7" y2="1028.2" stroke="#000" stroke-width="1.2" />
<text x="73.9" y="1035.1" font-size="17.6" text-anchor="start" font-family="Liberation Serif" font-weight="bold" stroke="#000" stroke-width="0.25" >0.00</text>
<line x1="119.7" y1="1018.42" x2="114.7" y2="1018.42" stroke="#000" stroke-width="1.2" />
<line x1="119.7" y1="1008.64" x2="110.7" y2="1008.64" stroke="#000" stroke-width="1.2" />
<text x="73.99" y="1015.54" font-size="17.6" text-anchor="start" font-family="Liberation Serif" font-weight="bold" stroke="#000" stroke-width="0.25" >0.02</text>
<line x1="119.7" y1="998.86" x2="114.7" y2="998.86" stroke="#000" stroke-width="1.2" />
<line x1="119.7" y1="989.08" x2="110.7" y2="989.08" stroke="#000" stroke-width="1.2" />
<text x="73.55" y="995.98" font-size="17.6" text-anchor="start" font-family="Liberation Serif" font-weight="bold" stroke="#000" stroke-width="0.25" >0.04</text>
<line x1="119.7" y1="979.3" x2="114.7" y2="979.3" stroke="#000" stroke-width="1.2" />
<line x1="119.7" y1="969.52" x2="110.7" y2="969.52" stroke="#000" stroke-width="1.2" />
<text x="73.73" y="976.42" font-size="17.6" text-anchor="start" font-family="Liberation Serif" font-weight="bold" stroke="#000" stroke-width="0.25" >0.06</text>
<line x1="119.7" y1="959.74" x2="114.7" y2="959.74" stroke="#000" stroke-width="1.2" />
<line x1="119.7" y1="949.96" x2="110.7" y2="949.96" stroke="#000" stroke-width="1.2" />
<text x="73.82" y="956.86" font-size="17.6" text-anchor="start" font-family="Liberation Serif" font-weight="bold" stroke="#000" stroke-width="0.25" >0.08</text>
<line x1="119.7" y1="940.18" x2="114.7" y2="940.18" stroke="#000" stroke-width="1.2" />
<line x1="119.7" y1="930.4" x2="110.7" y2="930.4" stroke="#000" stroke-width="1.2" />
<text x="73.9" y="937.3" font-size="17.6" text-anchor="start" font-family="Liberation Serif" font-weight="bold" stroke="#000" stroke-width="0.25" >0.10</text>
<line x1="119.7" y1="920.62" x2="114.7" y2="920.62" stroke="#000" stroke-width="1.2" />
<line x1="119.7" y1="910.84" x2="110.7" y2="910.84" stroke="#000" stroke-width="1.2" />
<text x="73.99" y="917.74" font-size="17.6" text-anchor="start" font-family="Liberation Serif" font-weight="bold" stroke="#000" stroke-width="0.25" >0.12</text>
<line x1="119.7" y1="901.06" x2="114.7" y2="901.06" stroke="#000" stroke-width="1.2" />
<line x1="119.7" y1="891.28" x2="110.7" y2="891.28" stroke="#000" stroke-width="1.2" />
<text x="73.55" y="898.18" font-size="17.6" text-anchor="start" font-family="Liberation Serif" font-weight="bold" stroke="#000" stroke-width="0.25" >0.14</text>
<line x1="119.7" y1="881.5" x2="114.7" y2="881.5" stroke="#000" stroke-width="1.2" />
<line x1="119.7" y1="871.72" x2="110.7" y2="871.72" stroke="#000" stroke-width="1.2" />
<text x="73.73" y="878.62" font-size="17.6" text-anchor="start" font-family="Liberation Serif" font-weight="bold" stroke="#000" stroke-width="0.25" >0.16</text>
<line x1="119.7" y1="861.94" x2="114.7" y2="861.94" stroke="#000" stroke-width="1.2" />
<line x1="119.7" y1="852.16" x2="110.7" y2="852.16" stroke="#000" stroke-width="1.2" />
<text x="73.82" y="859.06" font-size="17.6" text-anchor="start" font-family="Liberation Serif" font-weight="bold" stroke="#000" stroke-width="0.25" >0.18</text>
<line x1="119.7" y1="842.38" x2="114.7" y2="842.38" stroke="#000" stroke-width="1.2" />
<line x1="119.7" y1="832.6" x2="110.7" y2="832.6" stroke="#000" stroke-width="1.2" />
<text x="73.9" y="839.5" font-size="17.6" text-anchor="start" font-family="Liberation Serif" font-weight="bold" stroke="#000" stroke-width="0.25" >0.20</text>
<text transform="translate(67.5,930) rotate(-90)" font-size="22.2" text-anchor="middle" font-family="Liberation Serif" font-weight="bold" stroke="#000" stroke-width="0.25">Amplitude</text>
<line x1="131.98" y1="821.4" x2="123.12" y2="821.4" stroke="#000" stroke-width="1.1" />
<line x1="143.89" y1="810.54" x2="138.96" y2="810.54" stroke="#000" stroke-width="1" />
<text x="9.43" y="822" font-size="17.52" text-anchor="start" font-family="Liberation Serif" font-weight="bold" stroke="#000" stroke-width="0.25" >Reference amp</text>
<line x1="155.43" y1="800.01" x2="146.84" y2="800.01" stroke="#000" stroke-width="1.1" />
<line x1="166.63" y1="789.79" x2="161.85" y2="789.79" stroke="#000" stroke-width="1" />
<text x="92.62" y="800.61" font-size="16.89" text-anchor="start" font-family="Liberation Serif" font-weight="bold" stroke="#000" stroke-width="0.25" >CH-13</text>
<line x1="177.49" y1="779.88" x2="169.16" y2="779.88" stroke="#000" stroke-width="1.1" />
<line x1="188.05" y1="770.25" x2="183.42" y2="770.25" stroke="#000" stroke-width="1" />
<text x="116.55" y="780.48" font-size="16.4" text-anchor="start" font-family="Liberation Serif" font-weight="bold" stroke="#000" stroke-width="0.25" >CH-12</text>
<line x1="198.3" y1="760.9" x2="190.2" y2="760.9" stroke="#000" stroke-width="1.1" />
<line x1="208.26" y1="751.81" x2="203.76" y2="751.81" stroke="#000" stroke-width="1" />
<text x="143.31" y="761.5" font-size="15.93" text-anchor="start" font-family="Liberation Serif" font-weight="bold" stroke="#000" stroke-width="0.25" >CH-11</text>
<line x1="217.94" y1="742.98" x2="210.07" y2="742.98" stroke="#000" stroke-width="1.1" />
<line x1="227.36" y1="734.39" x2="222.99" y2="734.39" stroke="#000" stroke-width="1" />
<text x="163.76" y="743.58" font-size="15.48" text-anchor="start" font-family="Liberation Serif" font-weight="bold" stroke="#000" stroke-width="0.25" >CH-10</text>
<line x1="236.53" y1="726.03" x2="228.87" y2="726.03" stroke="#000" stroke-width="1.1" />
<line x1="245.45" y1="717.89" x2="241.19" y2="717.89" stroke="#000" stroke-width="1" />
<text x="183.84" y="726.63" font-size="15.07" text-anchor="start" font-family="Liberation Serif" font-weight="bold" stroke="#000" stroke-width="0.25" >CH-09</text>
<line x1="254.13" y1="709.97" x2="246.67" y2="709.97" stroke="#000" stroke-width="1.1" />
<line x1="262.59" y1="702.25" x2="258.45" y2="702.25" stroke="#000" stroke-width="1" />
<text x="202.86" y="710.57" font-size="14.67" text-anchor="start" font-family="Liberation Serif" font-weight="bold" stroke="#000" stroke-width="0.25" >CH-08</text>
<line x1="270.83" y1="694.73" x2="263.56" y2="694.73" stroke="#000" stroke-width="1.1" />
<line x1="278.86" y1="687.41" x2="274.83" y2="687.41" stroke="#000" stroke-width="1" />
<text x="221.47" y="695.33" font-size="14.29" text-anchor="start" font-family="Liberation Serif" font-weight="bold" stroke="#000" stroke-width="0.25" >CH-07</text>
<line x1="286.69" y1="680.26" x2="279.61" y2="680.26" stroke="#000" stroke-width="1.1" />
<line x1="294.33" y1="673.3" x2="290.4" y2="673.3" stroke="#000" stroke-width="1" />
<text x="238.11" y="680.86" font-size="13.93" text-anchor="start" font-family="Liberation Serif" font-weight="bold" stroke="#000" stroke-width="0.25" >CH-06</text>
<line x1="301.78" y1="666.5" x2="294.87" y2="666.5" stroke="#000" stroke-width="1.1" />
<line x1="309.06" y1="659.86" x2="305.22" y2="659.86" stroke="#000" stroke-width="1" />
<text x="254.72" y="667.1" font-size="13.59" text-anchor="start" font-family="Liberation Serif" font-weight="bold" stroke="#000" stroke-width="0.25" >CH-05</text>
<line x1="316.15" y1="653.39" x2="309.41" y2="653.39" stroke="#000" stroke-width="1.1" />
<line x1="323.08" y1="647.07" x2="319.34" y2="647.07" stroke="#000" stroke-width="1" />
<text x="269.5" y="653.99" font-size="13.27" text-anchor="start" font-family="Liberation Serif" font-weight="bold" stroke="#000" stroke-width="0.25" >CH-04</text>
<line x1="329.85" y1="640.89" x2="323.26" y2="640.89" stroke="#000" stroke-width="1.1" />
<line x1="336.47" y1="634.86" x2="332.81" y2="634.86" stroke="#000" stroke-width="1" />
<text x="284.06" y="641.49" font-size="12.96" text-anchor="start" font-family="Liberation Serif" font-weight="bold" stroke="#000" stroke-width="0.25" >CH-03</text>
<line x1="342.93" y1="628.96" x2="336.49" y2="628.96" stroke="#000" stroke-width="1.1" />
<line x1="349.25" y1="623.2" x2="345.67" y2="623.2" stroke="#000" stroke-width="1" />
<text x="298.39" y="629.56" font-size="12.67" text-anchor="start" font-family="Liberation Serif" font-weight="bold" stroke="#000" stroke-width="0.25" >CH-02</text>
<line x1="355.43" y1="617.56" x2="349.13" y2="617.56" stroke="#000" stroke-width="1.1" />
<line x1="361.47" y1="612.05" x2="357.97" y2="612.05" stroke="#000" stroke-width="1" />
<text x="311.94" y="618.16" font-size="12.38" text-anchor="start" font-family="Liberation Serif" font-weight="bold" stroke="#000" stroke-width="0.25" >CH-01</text>
<line x1="516.5" y1="1013.94" x2="524.37" y2="1013.94" stroke="#000" stroke-width="1.1" />
<line x1="522.48" y1="1000.11" x2="518.05" y2="1000.11" stroke="#000" stroke-width="1" />
<text x="526.56" y="1024.17" font-size="17.92" text-anchor="start" font-family="Liberation Serif" font-weight="bold" stroke="#000" stroke-width="0.25" >Reference amp</text>
<line x1="528.27" y1="986.7" x2="535.91" y2="986.7" stroke="#000" stroke-width="1.1" />
<line x1="533.9" y1="973.7" x2="529.61" y2="973.7" stroke="#000" stroke-width="1" />
<text x="537.43" y="996.63" font-size="17.37" text-anchor="start" font-family="Liberation Serif" font-weight="bold" stroke="#000" stroke-width="0.25" >CH-13</text>
<line x1="539.36" y1="961.08" x2="546.77" y2="961.08" stroke="#000" stroke-width="1.1" />
<line x1="544.66" y1="948.82" x2="540.49" y2="948.82" stroke="#000" stroke-width="1" />
<text x="548.24" y="970.71" font-size="16.86" text-anchor="start" font-family="Liberation Serif" font-weight="bold" stroke="#000" stroke-width="0.25" >CH-12</text>
<line x1="549.81" y1="936.92" x2="557.01" y2="936.92" stroke="#000" stroke-width="1.1" />
<line x1="554.82" y1="925.35" x2="550.77" y2="925.35" stroke="#000" stroke-width="1" />
<text x="558.44" y="946.28" font-size="16.38" text-anchor="start" font-family="Liberation Serif" font-weight="bold" stroke="#000" stroke-width="0.25" >CH-11</text>
<line x1="559.68" y1="914.1" x2="566.68" y2="914.1" stroke="#000" stroke-width="1.1" />
<line x1="564.41" y1="903.16" x2="560.48" y2="903.16" stroke="#000" stroke-width="1" />
<text x="568.07" y="923.2" font-size="15.92" text-anchor="start" font-family="Liberation Serif" font-weight="bold" stroke="#000" stroke-width="0.25" >CH-10</text>
<line x1="569.02" y1="892.52" x2="575.83" y2="892.52" stroke="#000" stroke-width="1.1" />
<line x1="573.5" y1="882.16" x2="569.67" y2="882.16" stroke="#000" stroke-width="1" />
<text x="577.18" y="901.37" font-size="15.49" text-anchor="start" font-family="Liberation Serif" font-weight="bold" stroke="#000" stroke-width="0.25" >CH-09</text>
<line x1="577.86" y1="872.07" x2="584.49" y2="872.07" stroke="#000" stroke-width="1.1" />
<line x1="582.11" y1="862.25" x2="578.38" y2="862.25" stroke="#000" stroke-width="1" />
<text x="585.81" y="880.69" font-size="15.08" text-anchor="start" font-family="Liberation Serif" font-weight="bold" stroke="#000" stroke-width="0.25" >CH-08</text>
<line x1="586.25" y1="852.68" x2="592.71" y2="852.68" stroke="#000" stroke-width="1.1" />
<line x1="590.29" y1="843.35" x2="586.65" y2="843.35" stroke="#000" stroke-width="1" />
<text x="593.99" y="861.07" font-size="14.7" text-anchor="start" font-family="Liberation Serif" font-weight="bold" stroke="#000" stroke-width="0.25" >CH-07</text>
<line x1="594.22" y1="834.25" x2="600.52" y2="834.25" stroke="#000" stroke-width="1.1" />
<line x1="598.06" y1="825.38" x2="594.52" y2="825.38" stroke="#000" stroke-width="1" />
<text x="601.77" y="842.44" font-size="14.33" text-anchor="start" font-family="Liberation Serif" font-weight="bold" stroke="#000" stroke-width="0.25" >CH-06</text>
<line x1="601.8" y1="816.73" x2="607.95" y2="816.73" stroke="#000" stroke-width="1.1" />
<line x1="605.45" y1="808.28" x2="602" y2="808.28" stroke="#000" stroke-width="1" />
<text x="609.17" y="824.72" font-size="13.98" text-anchor="start" font-family="Liberation Serif" font-weight="bold" stroke="#000" stroke-width="0.25" >CH-05</text>
<line x1="609.02" y1="800.04" x2="615.02" y2="800.04" stroke="#000" stroke-width="1.1" />
<line x1="612.5" y1="791.99" x2="609.13" y2="791.99" stroke="#000" stroke-width="1" />
<text x="616.21" y="807.84" font-size="13.65" text-anchor="start" font-family="Liberation Serif" font-weight="bold" stroke="#000" stroke-width="0.25" >CH-04</text>
<line x1="615.9" y1="784.13" x2="621.76" y2="784.13" stroke="#000" stroke-width="1.1" />
<line x1="619.23" y1="776.44" x2="615.93" y2="776.44" stroke="#000" stroke-width="1" />
<text x="622.93" y="791.74" font-size="13.33" text-anchor="start" font-family="Liberation Serif" font-weight="bold" stroke="#000" stroke-width="0.25" >CH-03</text>
<line x1="622.47" y1="768.94" x2="628.2" y2="768.94" stroke="#000" stroke-width="1.1" />
<line x1="625.65" y1="761.6" x2="622.43" y2="761.6" stroke="#000" stroke-width="1" />
<text x="629.34" y="776.38" font-size="13.02" text-anchor="start" font-family="Liberation Serif" font-weight="bold" stroke="#000" stroke-width="0.25" >CH-02</text>
<line x1="628.75" y1="754.42" x2="634.35" y2="754.42" stroke="#000" stroke-width="1.1" />
<line x1="631.79" y1="747.41" x2="628.64" y2="747.41" stroke="#000" stroke-width="1" />
<text x="635.46" y="761.7" font-size="12.73" text-anchor="start" font-family="Liberation Serif" font-weight="bold" stroke="#000" stroke-width="0.25" >CH-01</text>
<line x1="361.47" y1="612.05" x2="361.47" y2="606.51" stroke="#000" stroke-width="1" />
<text x="353.89" y="600" font-size="12.18" text-anchor="start" font-family="Liberation Serif" font-weight="bold" stroke="#000" stroke-width="0.25" >0.2</text>
<line x1="383.1" y1="612.05" x2="383.1" y2="609.28" stroke="#000" stroke-width="1" />
<line x1="404.72" y1="612.05" x2="404.72" y2="606.51" stroke="#000" stroke-width="1" />
<text x="396.99" y="600" font-size="12.18" text-anchor="start" font-family="Liberation Serif" font-weight="bold" stroke="#000" stroke-width="0.25" >0.4</text>
<line x1="426.35" y1="612.05" x2="426.35" y2="609.28" stroke="#000" stroke-width="1" />
<line x1="447.97" y1="612.05" x2="447.97" y2="606.51" stroke="#000" stroke-width="1" />
<text x="440.3" y="600" font-size="12.18" text-anchor="start" font-family="Liberation Serif" font-weight="bold" stroke="#000" stroke-width="0.25" >0.6</text>
<line x1="469.6" y1="612.05" x2="469.6" y2="609.28" stroke="#000" stroke-width="1" />
<line x1="491.22" y1="612.05" x2="491.22" y2="606.51" stroke="#000" stroke-width="1" />
<text x="483.58" y="600" font-size="12.18" text-anchor="start" font-family="Liberation Serif" font-weight="bold" stroke="#000" stroke-width="0.25" >0.8</text>
<line x1="512.85" y1="612.05" x2="512.85" y2="609.28" stroke="#000" stroke-width="1" />
<line x1="534.47" y1="612.05" x2="534.47" y2="606.51" stroke="#000" stroke-width="1" />
<text x="526.62" y="600" font-size="12.18" text-anchor="start" font-family="Liberation Serif" font-weight="bold" stroke="#000" stroke-width="0.25" >1.0</text>
<line x1="556.1" y1="612.05" x2="556.1" y2="609.28" stroke="#000" stroke-width="1" />
<line x1="577.72" y1="612.05" x2="577.72" y2="606.51" stroke="#000" stroke-width="1" />
<text x="569.9" y="600" font-size="12.18" text-anchor="start" font-family="Liberation Serif" font-weight="bold" stroke="#000" stroke-width="0.25" >1.2</text>
<line x1="599.35" y1="612.05" x2="599.35" y2="609.28" stroke="#000" stroke-width="1" />
<line x1="620.97" y1="612.05" x2="620.97" y2="606.51" stroke="#000" stroke-width="1" />
<text x="613" y="600" font-size="12.18" text-anchor="start" font-family="Liberation Serif" font-weight="bold" stroke="#000" stroke-width="0.25" >1.4</text>
<text x="441.11" y="581.3" font-size="15.36" text-anchor="start" font-family="Liberation Serif" font-weight="bold" stroke="#000" stroke-width="0.25" >Frequency (THz)</text>
<line x1="631.79" y1="747.41" x2="638.02" y2="747.41" stroke="#000" stroke-width="1" />
<text x="641.71" y="752.18" font-size="12.18" text-anchor="start" font-family="Liberation Serif" font-weight="bold" stroke="#000" stroke-width="0.25" >0.00</text>
<line x1="631.79" y1="740.64" x2="635.25" y2="740.64" stroke="#000" stroke-width="1" />
<line x1="631.79" y1="733.87" x2="638.02" y2="733.87" stroke="#000" stroke-width="1" />
<text x="641.71" y="738.65" font-size="12.18" text-anchor="start" font-family="Liberation Serif" font-weight="bold" stroke="#000" stroke-width="0.25" >0.02</text>
<line x1="631.79" y1="727.1" x2="635.25" y2="727.1" stroke="#000" stroke-width="1" />
<line x1="631.79" y1="720.34" x2="638.02" y2="720.34" stroke="#000" stroke-width="1" />
<text x="641.71" y="725.11" font-size="12.18" text-anchor="start" font-family="Liberation Serif" font-weight="bold" stroke="#000" stroke-width="0.25" >0.04</text>
<line x1="631.79" y1="713.57" x2="635.25" y2="713.57" stroke="#000" stroke-width="1" />
<line x1="631.79" y1="706.8" x2="638.02" y2="706.8" stroke="#000" stroke-width="1" />
<text x="641.71" y="711.58" font-size="12.18" text-anchor="start" font-family="Liberation Serif" font-weight="bold" stroke="#000" stroke-width="0.25" >0.06</text>
<line x1="631.79" y1="700.03" x2="635.25" y2="700.03" stroke="#000" stroke-width="1" />
<line x1="631.79" y1="693.26" x2="638.02" y2="693.26" stroke="#000" stroke-width="1" />
<text x="641.71" y="698.04" font-size="12.18" text-anchor="start" font-family="Liberation Serif" font-weight="bold" stroke="#000" stroke-width="0.25" >0.08</text>
<line x1="631.79" y1="686.5" x2="635.25" y2="686.5" stroke="#000" stroke-width="1" />
<line x1="631.79" y1="679.73" x2="638.02" y2="679.73" stroke="#000" stroke-width="1" />
<text x="641.71" y="684.5" font-size="12.18" text-anchor="start" font-family="Liberation Serif" font-weight="bold" stroke="#000" stroke-width="0.25" >0.10</text>
<line x1="631.79" y1="672.96" x2="635.25" y2="672.96" stroke="#000" stroke-width="1" />
<line x1="631.79" y1="666.19" x2="638.02" y2="666.19" stroke="#000" stroke-width="1" />
<text x="641.71" y="670.97" font-size="12.18" text-anchor="start" font-family="Liberation Serif" font-weight="bold" stroke="#000" stroke-width="0.25" >0.12</text>
<line x1="631.79" y1="659.43" x2="635.25" y2="659.43" stroke="#000" stroke-width="1" />
<line x1="631.79" y1="652.66" x2="638.02" y2="652.66" stroke="#000" stroke-width="1" />
<text x="641.71" y="657.43" font-size="12.18" text-anchor="start" font-family="Liberation Serif" font-weight="bold" stroke="#000" stroke-width="0.25" >0.14</text>
<line x1="631.79" y1="645.89" x2="635.25" y2="645.89" stroke="#000" stroke-width="1" />
<line x1="631.79" y1="639.12" x2="638.02" y2="639.12" stroke="#000" stroke-width="1" />
<text x="641.71" y="643.9" font-size="12.18" text-anchor="start" font-family="Liberation Serif" font-weight="bold" stroke="#000" stroke-width="0.25" >0.16</text>
<line x1="631.79" y1="632.35" x2="635.25" y2="632.35" stroke="#000" stroke-width="1" />
<line x1="631.79" y1="625.59" x2="638.02" y2="625.59" stroke="#000" stroke-width="1" />
<text x="641.71" y="630.36" font-size="12.18" text-anchor="start" font-family="Liberation Serif" font-weight="bold" stroke="#000" stroke-width="0.25" >0.18</text>
<line x1="631.79" y1="618.82" x2="635.25" y2="618.82" stroke="#000" stroke-width="1" />
<line x1="631.79" y1="612.05" x2="638.02" y2="612.05" stroke="#000" stroke-width="1" />
<text x="641.71" y="616.83" font-size="12.18" text-anchor="start" font-family="Liberation Serif" font-weight="bold" stroke="#000" stroke-width="0.25" >0.20</text>
<text transform="translate(678,688.5) rotate(90)" font-size="15.36" text-anchor="middle" font-family="Liberation Serif" font-weight="bold" stroke="#000" stroke-width="0.25">Amplitude</text>
<text x="37.2" y="589.5" font-size="21" text-anchor="start" font-family="Liberation Serif" font-weight="bold" stroke="#000" stroke-width="0.25" >d)</text>
</svg>
</body></html>
